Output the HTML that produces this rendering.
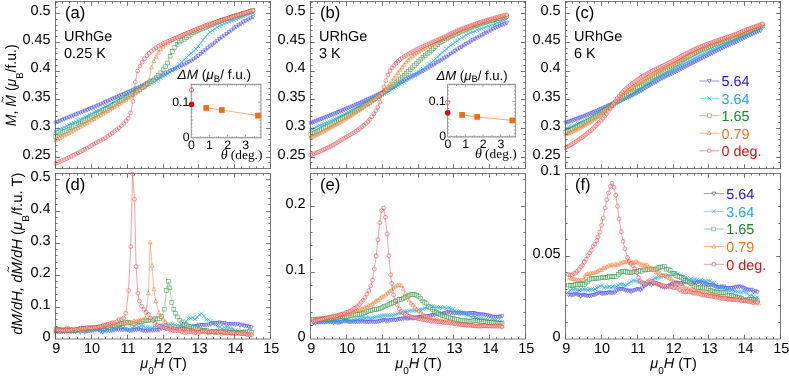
<!DOCTYPE html>
<html><head><meta charset="utf-8"><title>URhGe magnetization</title>
<style>html,body{margin:0;padding:0;background:#fff;}svg{display:block;will-change:transform;font-family:"Liberation Sans",sans-serif;}text{text-rendering:geometricPrecision;}</style></head>
<body>
<svg width="789" height="376" viewBox="0 0 789 376" font-family="Liberation Sans, sans-serif">
<rect width="789" height="376" fill="#fff"/>
<clipPath id="ct0"><rect x="53.5" y="-0.5" width="219.0" height="171.0"/></clipPath>
<g clip-path="url(#ct0)">
<g fill="#fff" fill-opacity="0.38" stroke="#2a28de" stroke-width="0.5">
<path d="M55.50 122.80L57.75 121.88L60.00 120.95L62.26 120.03L64.51 119.11L66.77 118.18L69.03 117.26L71.29 116.34L73.55 115.42L75.81 114.50L78.08 113.58L80.34 112.67L82.61 111.77L84.88 110.87L87.16 109.97L89.43 109.06L91.70 108.14L93.98 107.21L96.26 106.27L98.54 105.30L100.82 104.30L103.11 103.29L105.39 102.26L107.68 101.22L109.97 100.18L112.26 99.13L114.56 98.09L116.85 97.06L119.15 96.05L121.45 95.06L123.74 94.09L126.05 93.13L128.35 92.16L130.65 91.17L132.96 90.14L135.27 89.07L137.58 87.96L139.89 86.82L142.21 85.66L144.52 84.48L146.84 83.29L149.16 82.10L151.48 80.90L153.80 79.67L156.13 78.42L158.45 77.15L160.78 75.88L163.11 74.63L165.44 73.40L167.77 72.21L170.11 71.08L172.44 70.00L174.78 68.94L177.12 67.87L179.47 66.76L181.81 65.61L184.15 64.47L186.50 63.30L188.85 62.08L191.20 60.77L193.55 59.34L195.91 57.71L198.26 55.90L200.62 53.99L202.98 52.05L205.34 50.17L207.71 48.31L210.07 46.44L212.44 44.58L214.81 42.72L217.18 40.91L219.55 39.14L221.92 37.39L224.30 35.65L226.68 33.93L229.06 32.19L231.44 30.41L233.82 28.58L236.21 26.86L238.59 25.29L240.98 23.81L243.37 22.39L245.76 21.04L248.16 19.71L250.55 18.42L252.95 17.15" stroke-width="0.45" fill="none"/>
<path d="M53.60 121.28L57.40 121.28L55.50 124.89Z"/>
<path d="M55.85 120.36L59.65 120.36L57.75 123.97Z"/>
<path d="M58.10 119.43L61.90 119.43L60.00 123.04Z"/>
<path d="M60.36 118.51L64.16 118.51L62.26 122.12Z"/>
<path d="M62.61 117.59L66.41 117.59L64.51 121.20Z"/>
<path d="M64.87 116.66L68.67 116.66L66.77 120.27Z"/>
<path d="M67.13 115.74L70.93 115.74L69.03 119.35Z"/>
<path d="M69.39 114.82L73.19 114.82L71.29 118.43Z"/>
<path d="M71.65 113.90L75.45 113.90L73.55 117.51Z"/>
<path d="M73.91 112.98L77.71 112.98L75.81 116.59Z"/>
<path d="M76.18 112.06L79.98 112.06L78.08 115.67Z"/>
<path d="M78.44 111.15L82.24 111.15L80.34 114.76Z"/>
<path d="M80.71 110.25L84.51 110.25L82.61 113.86Z"/>
<path d="M82.98 109.35L86.78 109.35L84.88 112.96Z"/>
<path d="M85.26 108.45L89.06 108.45L87.16 112.06Z"/>
<path d="M87.53 107.54L91.33 107.54L89.43 111.15Z"/>
<path d="M89.80 106.62L93.60 106.62L91.70 110.23Z"/>
<path d="M92.08 105.69L95.88 105.69L93.98 109.30Z"/>
<path d="M94.36 104.75L98.16 104.75L96.26 108.36Z"/>
<path d="M96.64 103.78L100.44 103.78L98.54 107.39Z"/>
<path d="M98.92 102.78L102.72 102.78L100.82 106.39Z"/>
<path d="M101.21 101.77L105.01 101.77L103.11 105.38Z"/>
<path d="M103.49 100.74L107.29 100.74L105.39 104.35Z"/>
<path d="M105.78 99.70L109.58 99.70L107.68 103.31Z"/>
<path d="M108.07 98.66L111.87 98.66L109.97 102.27Z"/>
<path d="M110.36 97.61L114.16 97.61L112.26 101.22Z"/>
<path d="M112.66 96.57L116.46 96.57L114.56 100.18Z"/>
<path d="M114.95 95.54L118.75 95.54L116.85 99.15Z"/>
<path d="M117.25 94.53L121.05 94.53L119.15 98.14Z"/>
<path d="M119.55 93.54L123.35 93.54L121.45 97.15Z"/>
<path d="M121.84 92.57L125.64 92.57L123.74 96.18Z"/>
<path d="M124.15 91.61L127.95 91.61L126.05 95.22Z"/>
<path d="M126.45 90.64L130.25 90.64L128.35 94.25Z"/>
<path d="M128.75 89.65L132.55 89.65L130.65 93.26Z"/>
<path d="M131.06 88.62L134.86 88.62L132.96 92.23Z"/>
<path d="M133.37 87.55L137.17 87.55L135.27 91.16Z"/>
<path d="M135.68 86.44L139.48 86.44L137.58 90.05Z"/>
<path d="M137.99 85.30L141.79 85.30L139.89 88.91Z"/>
<path d="M140.31 84.14L144.11 84.14L142.21 87.75Z"/>
<path d="M142.62 82.96L146.42 82.96L144.52 86.57Z"/>
<path d="M144.94 81.77L148.74 81.77L146.84 85.38Z"/>
<path d="M147.26 80.58L151.06 80.58L149.16 84.19Z"/>
<path d="M149.58 79.38L153.38 79.38L151.48 82.99Z"/>
<path d="M151.90 78.15L155.70 78.15L153.80 81.76Z"/>
<path d="M154.23 76.90L158.03 76.90L156.13 80.51Z"/>
<path d="M156.55 75.63L160.35 75.63L158.45 79.24Z"/>
<path d="M158.88 74.36L162.68 74.36L160.78 77.97Z"/>
<path d="M161.21 73.11L165.01 73.11L163.11 76.72Z"/>
<path d="M163.54 71.88L167.34 71.88L165.44 75.49Z"/>
<path d="M165.87 70.69L169.67 70.69L167.77 74.30Z"/>
<path d="M168.21 69.56L172.01 69.56L170.11 73.17Z"/>
<path d="M170.54 68.48L174.34 68.48L172.44 72.09Z"/>
<path d="M172.88 67.42L176.68 67.42L174.78 71.03Z"/>
<path d="M175.22 66.35L179.02 66.35L177.12 69.96Z"/>
<path d="M177.57 65.24L181.37 65.24L179.47 68.85Z"/>
<path d="M179.91 64.09L183.71 64.09L181.81 67.70Z"/>
<path d="M182.25 62.95L186.05 62.95L184.15 66.56Z"/>
<path d="M184.60 61.78L188.40 61.78L186.50 65.39Z"/>
<path d="M186.95 60.56L190.75 60.56L188.85 64.17Z"/>
<path d="M189.30 59.25L193.10 59.25L191.20 62.86Z"/>
<path d="M191.65 57.82L195.45 57.82L193.55 61.43Z"/>
<path d="M194.01 56.19L197.81 56.19L195.91 59.80Z"/>
<path d="M196.36 54.38L200.16 54.38L198.26 57.99Z"/>
<path d="M198.72 52.47L202.52 52.47L200.62 56.08Z"/>
<path d="M201.08 50.53L204.88 50.53L202.98 54.14Z"/>
<path d="M203.44 48.65L207.24 48.65L205.34 52.26Z"/>
<path d="M205.81 46.79L209.61 46.79L207.71 50.40Z"/>
<path d="M208.17 44.92L211.97 44.92L210.07 48.53Z"/>
<path d="M210.54 43.06L214.34 43.06L212.44 46.67Z"/>
<path d="M212.91 41.20L216.71 41.20L214.81 44.81Z"/>
<path d="M215.28 39.39L219.08 39.39L217.18 43.00Z"/>
<path d="M217.65 37.62L221.45 37.62L219.55 41.23Z"/>
<path d="M220.02 35.87L223.82 35.87L221.92 39.48Z"/>
<path d="M222.40 34.13L226.20 34.13L224.30 37.74Z"/>
<path d="M224.78 32.41L228.58 32.41L226.68 36.02Z"/>
<path d="M227.16 30.67L230.96 30.67L229.06 34.28Z"/>
<path d="M229.54 28.89L233.34 28.89L231.44 32.50Z"/>
<path d="M231.92 27.06L235.72 27.06L233.82 30.67Z"/>
<path d="M234.31 25.34L238.11 25.34L236.21 28.95Z"/>
<path d="M236.69 23.77L240.49 23.77L238.59 27.38Z"/>
<path d="M239.08 22.29L242.88 22.29L240.98 25.90Z"/>
<path d="M241.47 20.87L245.27 20.87L243.37 24.48Z"/>
<path d="M243.86 19.52L247.66 19.52L245.76 23.13Z"/>
<path d="M246.26 18.19L250.06 18.19L248.16 21.80Z"/>
<path d="M248.65 16.90L252.45 16.90L250.55 20.51Z"/>
<path d="M251.05 15.63L254.85 15.63L252.95 19.24Z"/>
</g>
<g fill="#fff" fill-opacity="0.38" stroke="#22aae8" stroke-width="0.5">
<path d="M55.50 131.30L57.75 130.26L60.00 129.21L62.26 128.15L64.51 127.09L66.77 126.02L69.03 124.93L71.29 123.84L73.55 122.75L75.81 121.64L78.08 120.52L80.34 119.39L82.61 118.25L84.88 117.10L87.16 115.94L89.43 114.78L91.70 113.61L93.98 112.45L96.26 111.28L98.54 110.12L100.82 108.96L103.11 107.81L105.39 106.65L107.68 105.49L109.97 104.33L112.26 103.17L114.56 101.99L116.85 100.81L119.15 99.62L121.45 98.41L123.74 97.18L126.05 95.95L128.35 94.72L130.65 93.49L132.96 92.28L135.27 91.10L137.58 89.94L139.89 88.81L142.21 87.67L144.52 86.54L146.84 85.39L149.16 84.20L151.48 82.99L153.80 81.76L156.13 80.53L158.45 79.28L160.78 78.00L163.11 76.68L165.44 75.31L167.77 73.87L170.11 72.36L172.44 70.70L174.78 68.77L177.12 66.48L179.47 64.11L181.81 61.90L184.15 59.74L186.50 57.58L188.85 55.41L191.20 53.23L193.55 51.10L195.91 48.89L198.26 46.20L200.62 43.22L202.98 40.22L205.34 37.06L207.71 34.29L210.07 32.17L212.44 30.36L214.81 28.76L217.18 27.28L219.55 25.92L221.92 24.70L224.30 23.63L226.68 22.68L229.06 21.81L231.44 20.95L233.82 20.07L236.21 19.17L238.59 18.28L240.98 17.38L243.37 16.50L245.76 15.61L248.16 14.73L250.55 13.85L252.95 12.98" stroke-width="0.45" fill="none"/>
<path stroke-width="0.6" d="M53.51 129.31L57.49 133.30M53.51 133.30L57.49 129.31"/>
<path stroke-width="0.6" d="M55.76 128.26L59.74 132.25M55.76 132.25L59.74 128.26"/>
<path stroke-width="0.6" d="M58.01 127.22L62.00 131.21M58.01 131.21L62.00 127.22"/>
<path stroke-width="0.6" d="M60.26 126.16L64.25 130.15M60.26 130.15L64.25 126.16"/>
<path stroke-width="0.6" d="M62.52 125.09L66.51 129.08M62.52 129.08L66.51 125.09"/>
<path stroke-width="0.6" d="M64.77 124.02L68.76 128.01M64.77 128.01L68.76 124.02"/>
<path stroke-width="0.6" d="M67.03 122.94L71.02 126.93M67.03 126.93L71.02 122.94"/>
<path stroke-width="0.6" d="M69.29 121.85L73.28 125.84M69.29 125.84L73.28 121.85"/>
<path stroke-width="0.6" d="M71.55 120.75L75.54 124.74M71.55 124.74L75.54 120.75"/>
<path stroke-width="0.6" d="M73.82 119.64L77.81 123.63M73.82 123.63L77.81 119.64"/>
<path stroke-width="0.6" d="M76.08 118.53L80.07 122.52M76.08 122.52L80.07 118.53"/>
<path stroke-width="0.6" d="M78.35 117.40L82.34 121.39M78.35 121.39L82.34 117.40"/>
<path stroke-width="0.6" d="M80.62 116.26L84.61 120.25M80.62 120.25L84.61 116.26"/>
<path stroke-width="0.6" d="M82.89 115.10L86.88 119.09M82.89 119.09L86.88 115.10"/>
<path stroke-width="0.6" d="M85.16 113.95L89.15 117.94M85.16 117.94L89.15 113.95"/>
<path stroke-width="0.6" d="M87.43 112.78L91.42 116.77M87.43 116.77L91.42 112.78"/>
<path stroke-width="0.6" d="M89.71 111.62L93.70 115.61M89.71 115.61L93.70 111.62"/>
<path stroke-width="0.6" d="M91.99 110.45L95.98 114.44M91.99 114.44L95.98 110.45"/>
<path stroke-width="0.6" d="M94.27 109.29L98.26 113.28M94.27 113.28L98.26 109.29"/>
<path stroke-width="0.6" d="M96.55 108.13L100.54 112.12M96.55 112.12L100.54 108.13"/>
<path stroke-width="0.6" d="M98.83 106.97L102.82 110.96M98.83 110.96L102.82 106.97"/>
<path stroke-width="0.6" d="M101.11 105.81L105.10 109.80M101.11 109.80L105.10 105.81"/>
<path stroke-width="0.6" d="M103.40 104.66L107.39 108.65M103.40 108.65L107.39 104.66"/>
<path stroke-width="0.6" d="M105.69 103.50L109.68 107.49M105.69 107.49L109.68 103.50"/>
<path stroke-width="0.6" d="M107.98 102.34L111.97 106.33M107.98 106.33L111.97 102.34"/>
<path stroke-width="0.6" d="M110.27 101.17L114.26 105.16M110.27 105.16L114.26 101.17"/>
<path stroke-width="0.6" d="M112.56 100.00L116.55 103.99M112.56 103.99L116.55 100.00"/>
<path stroke-width="0.6" d="M114.86 98.82L118.85 102.81M114.86 102.81L118.85 98.82"/>
<path stroke-width="0.6" d="M117.15 97.62L121.14 101.61M117.15 101.61L121.14 97.62"/>
<path stroke-width="0.6" d="M119.45 96.41L123.44 100.40M119.45 100.40L123.44 96.41"/>
<path stroke-width="0.6" d="M121.75 95.19L125.74 99.18M121.75 99.18L125.74 95.19"/>
<path stroke-width="0.6" d="M124.05 93.95L128.04 97.94M124.05 97.94L128.04 93.95"/>
<path stroke-width="0.6" d="M126.35 92.72L130.34 96.71M126.35 96.71L130.34 92.72"/>
<path stroke-width="0.6" d="M128.66 91.50L132.65 95.49M128.66 95.49L132.65 91.50"/>
<path stroke-width="0.6" d="M130.97 90.29L134.96 94.28M130.97 94.28L134.96 90.29"/>
<path stroke-width="0.6" d="M133.28 89.10L137.27 93.09M133.28 93.09L137.27 89.10"/>
<path stroke-width="0.6" d="M135.59 87.95L139.58 91.94M135.59 91.94L139.58 87.95"/>
<path stroke-width="0.6" d="M137.90 86.81L141.89 90.80M137.90 90.80L141.89 86.81"/>
<path stroke-width="0.6" d="M140.21 85.68L144.20 89.67M140.21 89.67L144.20 85.68"/>
<path stroke-width="0.6" d="M142.53 84.54L146.52 88.53M142.53 88.53L146.52 84.54"/>
<path stroke-width="0.6" d="M144.84 83.39L148.83 87.38M144.84 87.38L148.83 83.39"/>
<path stroke-width="0.6" d="M147.16 82.21L151.15 86.20M147.16 86.20L151.15 82.21"/>
<path stroke-width="0.6" d="M149.48 80.99L153.47 84.98M149.48 84.98L153.47 80.99"/>
<path stroke-width="0.6" d="M151.81 79.77L155.80 83.76M151.81 83.76L155.80 79.77"/>
<path stroke-width="0.6" d="M154.13 78.54L158.12 82.53M154.13 82.53L158.12 78.54"/>
<path stroke-width="0.6" d="M156.46 77.29L160.45 81.28M156.46 81.28L160.45 77.29"/>
<path stroke-width="0.6" d="M158.78 76.01L162.77 80.00M158.78 80.00L162.77 76.01"/>
<path stroke-width="0.6" d="M161.11 74.69L165.10 78.68M161.11 78.68L165.10 74.69"/>
<path stroke-width="0.6" d="M163.45 73.31L167.44 77.30M163.45 77.30L167.44 73.31"/>
<path stroke-width="0.6" d="M165.78 71.88L169.77 75.87M165.78 75.87L169.77 71.88"/>
<path stroke-width="0.6" d="M168.11 70.36L172.10 74.35M168.11 74.35L172.10 70.36"/>
<path stroke-width="0.6" d="M170.45 68.71L174.44 72.70M170.45 72.70L174.44 68.71"/>
<path stroke-width="0.6" d="M172.79 66.78L176.78 70.77M172.79 70.77L176.78 66.78"/>
<path stroke-width="0.6" d="M175.13 64.48L179.12 68.47M175.13 68.47L179.12 64.48"/>
<path stroke-width="0.6" d="M177.47 62.12L181.46 66.11M177.47 66.11L181.46 62.12"/>
<path stroke-width="0.6" d="M179.81 59.91L183.80 63.90M179.81 63.90L183.80 59.91"/>
<path stroke-width="0.6" d="M182.16 57.74L186.15 61.73M182.16 61.73L186.15 57.74"/>
<path stroke-width="0.6" d="M184.51 55.59L188.50 59.58M184.51 59.58L188.50 55.59"/>
<path stroke-width="0.6" d="M186.86 53.42L190.85 57.41M186.86 57.41L190.85 53.42"/>
<path stroke-width="0.6" d="M189.21 51.24L193.20 55.23M189.21 55.23L193.20 51.24"/>
<path stroke-width="0.6" d="M191.56 49.10L195.55 53.09M191.56 53.09L195.55 49.10"/>
<path stroke-width="0.6" d="M193.91 46.90L197.90 50.89M193.91 50.89L197.90 46.90"/>
<path stroke-width="0.6" d="M196.27 44.20L200.26 48.19M196.27 48.19L200.26 44.20"/>
<path stroke-width="0.6" d="M198.63 41.23L202.62 45.22M198.63 45.22L202.62 41.23"/>
<path stroke-width="0.6" d="M200.99 38.22L204.98 42.21M200.99 42.21L204.98 38.22"/>
<path stroke-width="0.6" d="M203.35 35.06L207.34 39.05M203.35 39.05L207.34 35.06"/>
<path stroke-width="0.6" d="M205.71 32.29L209.70 36.28M205.71 36.28L209.70 32.29"/>
<path stroke-width="0.6" d="M208.08 30.18L212.07 34.17M208.08 34.17L212.07 30.18"/>
<path stroke-width="0.6" d="M210.44 28.37L214.43 32.36M210.44 32.36L214.43 28.37"/>
<path stroke-width="0.6" d="M212.81 26.76L216.80 30.75M212.81 30.75L216.80 26.76"/>
<path stroke-width="0.6" d="M215.18 25.28L219.17 29.27M215.18 29.27L219.17 25.28"/>
<path stroke-width="0.6" d="M217.55 23.93L221.54 27.92M217.55 27.92L221.54 23.93"/>
<path stroke-width="0.6" d="M219.93 22.71L223.92 26.70M219.93 26.70L223.92 22.71"/>
<path stroke-width="0.6" d="M222.30 21.64L226.29 25.63M222.30 25.63L226.29 21.64"/>
<path stroke-width="0.6" d="M224.68 20.69L228.67 24.68M224.68 24.68L228.67 20.69"/>
<path stroke-width="0.6" d="M227.06 19.81L231.05 23.80M227.06 23.80L231.05 19.81"/>
<path stroke-width="0.6" d="M229.44 18.95L233.43 22.94M229.44 22.94L233.43 18.95"/>
<path stroke-width="0.6" d="M231.83 18.07L235.82 22.06M231.83 22.06L235.82 18.07"/>
<path stroke-width="0.6" d="M234.21 17.17L238.20 21.16M234.21 21.16L238.20 17.17"/>
<path stroke-width="0.6" d="M236.60 16.28L240.59 20.27M236.60 20.27L240.59 16.28"/>
<path stroke-width="0.6" d="M238.98 15.39L242.97 19.38M238.98 19.38L242.97 15.39"/>
<path stroke-width="0.6" d="M241.38 14.50L245.37 18.49M241.38 18.49L245.37 14.50"/>
<path stroke-width="0.6" d="M243.77 13.62L247.76 17.61M243.77 17.61L247.76 13.62"/>
<path stroke-width="0.6" d="M246.16 12.74L250.15 16.73M246.16 16.73L250.15 12.74"/>
<path stroke-width="0.6" d="M248.56 11.86L252.55 15.85M248.56 15.85L252.55 11.86"/>
<path stroke-width="0.6" d="M250.95 10.99L254.94 14.98M250.95 14.98L254.94 10.99"/>
</g>
<g fill="#fff" fill-opacity="0.38" stroke="#2f9540" stroke-width="0.5">
<path d="M55.50 136.40L57.75 135.18L60.00 133.96L62.26 132.74L64.51 131.53L66.77 130.31L69.03 129.10L71.29 127.88L73.55 126.67L75.81 125.46L78.08 124.25L80.34 123.05L82.61 121.86L84.88 120.67L87.16 119.48L89.43 118.28L91.70 117.08L93.98 115.86L96.26 114.63L98.54 113.38L100.82 112.12L103.11 110.85L105.39 109.57L107.68 108.28L109.97 106.98L112.26 105.68L114.56 104.36L116.85 103.03L119.15 101.70L121.45 100.35L123.74 98.99L126.05 97.62L128.35 96.24L130.65 94.85L132.96 93.45L135.27 92.04L137.58 90.64L139.89 89.23L142.21 87.80L144.52 86.34L146.84 84.84L149.16 83.34L151.48 81.78L153.80 79.98L156.13 77.73L158.45 75.31L160.78 72.76L163.11 69.88L165.44 66.76L167.77 62.99L170.11 56.13L172.44 51.39L174.78 47.59L177.12 44.29L179.47 41.99L181.81 40.45L184.15 39.21L186.50 37.59L188.85 35.79L191.20 34.10L193.55 32.72L195.91 31.50L198.26 30.38L200.62 29.33L202.98 28.40L205.34 27.50L207.71 26.54L210.07 25.50L212.44 24.43L214.81 23.37L217.18 22.33L219.55 21.37L221.92 20.50L224.30 19.67L226.68 18.88L229.06 18.12L231.44 17.36L233.82 16.60L236.21 15.84L238.59 15.09L240.98 14.34L243.37 13.60L245.76 12.86L248.16 12.14L250.55 11.42L252.95 10.71" stroke-width="0.45" fill="none"/>
<rect x="53.60" y="134.50" width="3.80" height="3.80"/>
<rect x="55.85" y="133.28" width="3.80" height="3.80"/>
<rect x="58.10" y="132.06" width="3.80" height="3.80"/>
<rect x="60.36" y="130.84" width="3.80" height="3.80"/>
<rect x="62.61" y="129.63" width="3.80" height="3.80"/>
<rect x="64.87" y="128.41" width="3.80" height="3.80"/>
<rect x="67.13" y="127.20" width="3.80" height="3.80"/>
<rect x="69.39" y="125.98" width="3.80" height="3.80"/>
<rect x="71.65" y="124.77" width="3.80" height="3.80"/>
<rect x="73.91" y="123.56" width="3.80" height="3.80"/>
<rect x="76.18" y="122.35" width="3.80" height="3.80"/>
<rect x="78.44" y="121.15" width="3.80" height="3.80"/>
<rect x="80.71" y="119.96" width="3.80" height="3.80"/>
<rect x="82.98" y="118.77" width="3.80" height="3.80"/>
<rect x="85.26" y="117.58" width="3.80" height="3.80"/>
<rect x="87.53" y="116.38" width="3.80" height="3.80"/>
<rect x="89.80" y="115.18" width="3.80" height="3.80"/>
<rect x="92.08" y="113.96" width="3.80" height="3.80"/>
<rect x="94.36" y="112.73" width="3.80" height="3.80"/>
<rect x="96.64" y="111.48" width="3.80" height="3.80"/>
<rect x="98.92" y="110.22" width="3.80" height="3.80"/>
<rect x="101.21" y="108.95" width="3.80" height="3.80"/>
<rect x="103.49" y="107.67" width="3.80" height="3.80"/>
<rect x="105.78" y="106.38" width="3.80" height="3.80"/>
<rect x="108.07" y="105.08" width="3.80" height="3.80"/>
<rect x="110.36" y="103.78" width="3.80" height="3.80"/>
<rect x="112.66" y="102.46" width="3.80" height="3.80"/>
<rect x="114.95" y="101.13" width="3.80" height="3.80"/>
<rect x="117.25" y="99.80" width="3.80" height="3.80"/>
<rect x="119.55" y="98.45" width="3.80" height="3.80"/>
<rect x="121.84" y="97.09" width="3.80" height="3.80"/>
<rect x="124.15" y="95.72" width="3.80" height="3.80"/>
<rect x="126.45" y="94.34" width="3.80" height="3.80"/>
<rect x="128.75" y="92.95" width="3.80" height="3.80"/>
<rect x="131.06" y="91.55" width="3.80" height="3.80"/>
<rect x="133.37" y="90.14" width="3.80" height="3.80"/>
<rect x="135.68" y="88.74" width="3.80" height="3.80"/>
<rect x="137.99" y="87.33" width="3.80" height="3.80"/>
<rect x="140.31" y="85.90" width="3.80" height="3.80"/>
<rect x="142.62" y="84.44" width="3.80" height="3.80"/>
<rect x="144.94" y="82.94" width="3.80" height="3.80"/>
<rect x="147.26" y="81.44" width="3.80" height="3.80"/>
<rect x="149.58" y="79.88" width="3.80" height="3.80"/>
<rect x="151.90" y="78.08" width="3.80" height="3.80"/>
<rect x="154.23" y="75.83" width="3.80" height="3.80"/>
<rect x="156.55" y="73.41" width="3.80" height="3.80"/>
<rect x="158.88" y="70.86" width="3.80" height="3.80"/>
<rect x="161.21" y="67.98" width="3.80" height="3.80"/>
<rect x="163.54" y="64.86" width="3.80" height="3.80"/>
<rect x="165.87" y="61.09" width="3.80" height="3.80"/>
<rect x="168.21" y="54.23" width="3.80" height="3.80"/>
<rect x="170.54" y="49.49" width="3.80" height="3.80"/>
<rect x="172.88" y="45.69" width="3.80" height="3.80"/>
<rect x="175.22" y="42.39" width="3.80" height="3.80"/>
<rect x="177.57" y="40.09" width="3.80" height="3.80"/>
<rect x="179.91" y="38.55" width="3.80" height="3.80"/>
<rect x="182.25" y="37.31" width="3.80" height="3.80"/>
<rect x="184.60" y="35.69" width="3.80" height="3.80"/>
<rect x="186.95" y="33.89" width="3.80" height="3.80"/>
<rect x="189.30" y="32.20" width="3.80" height="3.80"/>
<rect x="191.65" y="30.82" width="3.80" height="3.80"/>
<rect x="194.01" y="29.60" width="3.80" height="3.80"/>
<rect x="196.36" y="28.48" width="3.80" height="3.80"/>
<rect x="198.72" y="27.43" width="3.80" height="3.80"/>
<rect x="201.08" y="26.50" width="3.80" height="3.80"/>
<rect x="203.44" y="25.60" width="3.80" height="3.80"/>
<rect x="205.81" y="24.64" width="3.80" height="3.80"/>
<rect x="208.17" y="23.60" width="3.80" height="3.80"/>
<rect x="210.54" y="22.53" width="3.80" height="3.80"/>
<rect x="212.91" y="21.47" width="3.80" height="3.80"/>
<rect x="215.28" y="20.43" width="3.80" height="3.80"/>
<rect x="217.65" y="19.47" width="3.80" height="3.80"/>
<rect x="220.02" y="18.60" width="3.80" height="3.80"/>
<rect x="222.40" y="17.77" width="3.80" height="3.80"/>
<rect x="224.78" y="16.98" width="3.80" height="3.80"/>
<rect x="227.16" y="16.22" width="3.80" height="3.80"/>
<rect x="229.54" y="15.46" width="3.80" height="3.80"/>
<rect x="231.92" y="14.70" width="3.80" height="3.80"/>
<rect x="234.31" y="13.94" width="3.80" height="3.80"/>
<rect x="236.69" y="13.19" width="3.80" height="3.80"/>
<rect x="239.08" y="12.44" width="3.80" height="3.80"/>
<rect x="241.47" y="11.70" width="3.80" height="3.80"/>
<rect x="243.86" y="10.96" width="3.80" height="3.80"/>
<rect x="246.26" y="10.24" width="3.80" height="3.80"/>
<rect x="248.65" y="9.52" width="3.80" height="3.80"/>
<rect x="251.05" y="8.81" width="3.80" height="3.80"/>
</g>
<g fill="#fff" fill-opacity="0.38" stroke="#ee6c1c" stroke-width="0.5">
<path d="M55.50 140.20L57.75 139.00L60.00 137.80L62.26 136.59L64.51 135.37L66.77 134.14L69.03 132.91L71.29 131.67L73.55 130.42L75.81 129.17L78.08 127.91L80.34 126.64L82.61 125.37L84.88 124.09L87.16 122.80L89.43 121.50L91.70 120.20L93.98 118.89L96.26 117.57L98.54 116.26L100.82 114.94L103.11 113.62L105.39 112.30L107.68 110.97L109.97 109.63L112.26 108.28L114.56 106.90L116.85 105.51L119.15 104.08L121.45 102.65L123.74 101.19L126.05 99.72L128.35 98.20L130.65 96.65L132.96 95.03L135.27 93.37L137.58 91.67L139.89 89.90L142.21 87.99L144.52 85.89L146.84 83.72L149.16 80.11L151.48 67.31L153.80 61.21L156.13 56.68L158.45 52.52L160.78 49.25L163.11 46.79L165.44 44.56L167.77 42.70L170.11 41.13L172.44 39.76L174.78 38.50L177.12 37.32L179.47 36.19L181.81 35.09L184.15 34.04L186.50 33.02L188.85 32.04L191.20 31.07L193.55 30.11L195.91 29.14L198.26 28.17L200.62 27.21L202.98 26.27L205.34 25.37L207.71 24.50L210.07 23.65L212.44 22.83L214.81 22.02L217.18 21.23L219.55 20.45L221.92 19.68L224.30 18.92L226.68 18.16L229.06 17.41L231.44 16.66L233.82 15.90L236.21 15.16L238.59 14.42L240.98 13.68L243.37 12.95L245.76 12.23L248.16 11.52L250.55 10.81L252.95 10.11" stroke-width="0.45" fill="none"/>
<path d="M53.60 141.72L57.40 141.72L55.50 138.11Z"/>
<path d="M55.85 140.52L59.65 140.52L57.75 136.91Z"/>
<path d="M58.10 139.32L61.90 139.32L60.00 135.71Z"/>
<path d="M60.36 138.11L64.16 138.11L62.26 134.50Z"/>
<path d="M62.61 136.89L66.41 136.89L64.51 133.28Z"/>
<path d="M64.87 135.66L68.67 135.66L66.77 132.05Z"/>
<path d="M67.13 134.43L70.93 134.43L69.03 130.82Z"/>
<path d="M69.39 133.19L73.19 133.19L71.29 129.58Z"/>
<path d="M71.65 131.94L75.45 131.94L73.55 128.33Z"/>
<path d="M73.91 130.69L77.71 130.69L75.81 127.08Z"/>
<path d="M76.18 129.43L79.98 129.43L78.08 125.82Z"/>
<path d="M78.44 128.16L82.24 128.16L80.34 124.55Z"/>
<path d="M80.71 126.89L84.51 126.89L82.61 123.28Z"/>
<path d="M82.98 125.61L86.78 125.61L84.88 122.00Z"/>
<path d="M85.26 124.32L89.06 124.32L87.16 120.71Z"/>
<path d="M87.53 123.02L91.33 123.02L89.43 119.41Z"/>
<path d="M89.80 121.72L93.60 121.72L91.70 118.11Z"/>
<path d="M92.08 120.41L95.88 120.41L93.98 116.80Z"/>
<path d="M94.36 119.09L98.16 119.09L96.26 115.48Z"/>
<path d="M96.64 117.78L100.44 117.78L98.54 114.17Z"/>
<path d="M98.92 116.46L102.72 116.46L100.82 112.85Z"/>
<path d="M101.21 115.14L105.01 115.14L103.11 111.53Z"/>
<path d="M103.49 113.82L107.29 113.82L105.39 110.21Z"/>
<path d="M105.78 112.49L109.58 112.49L107.68 108.88Z"/>
<path d="M108.07 111.15L111.87 111.15L109.97 107.54Z"/>
<path d="M110.36 109.80L114.16 109.80L112.26 106.19Z"/>
<path d="M112.66 108.42L116.46 108.42L114.56 104.81Z"/>
<path d="M114.95 107.03L118.75 107.03L116.85 103.42Z"/>
<path d="M117.25 105.60L121.05 105.60L119.15 101.99Z"/>
<path d="M119.55 104.17L123.35 104.17L121.45 100.56Z"/>
<path d="M121.84 102.71L125.64 102.71L123.74 99.10Z"/>
<path d="M124.15 101.24L127.95 101.24L126.05 97.63Z"/>
<path d="M126.45 99.72L130.25 99.72L128.35 96.11Z"/>
<path d="M128.75 98.17L132.55 98.17L130.65 94.56Z"/>
<path d="M131.06 96.55L134.86 96.55L132.96 92.94Z"/>
<path d="M133.37 94.89L137.17 94.89L135.27 91.28Z"/>
<path d="M135.68 93.19L139.48 93.19L137.58 89.58Z"/>
<path d="M137.99 91.42L141.79 91.42L139.89 87.81Z"/>
<path d="M140.31 89.51L144.11 89.51L142.21 85.90Z"/>
<path d="M142.62 87.41L146.42 87.41L144.52 83.80Z"/>
<path d="M144.94 85.24L148.74 85.24L146.84 81.63Z"/>
<path d="M147.26 81.63L151.06 81.63L149.16 78.02Z"/>
<path d="M149.58 68.83L153.38 68.83L151.48 65.22Z"/>
<path d="M151.90 62.73L155.70 62.73L153.80 59.12Z"/>
<path d="M154.23 58.20L158.03 58.20L156.13 54.59Z"/>
<path d="M156.55 54.04L160.35 54.04L158.45 50.43Z"/>
<path d="M158.88 50.77L162.68 50.77L160.78 47.16Z"/>
<path d="M161.21 48.31L165.01 48.31L163.11 44.70Z"/>
<path d="M163.54 46.08L167.34 46.08L165.44 42.47Z"/>
<path d="M165.87 44.22L169.67 44.22L167.77 40.61Z"/>
<path d="M168.21 42.65L172.01 42.65L170.11 39.04Z"/>
<path d="M170.54 41.28L174.34 41.28L172.44 37.67Z"/>
<path d="M172.88 40.02L176.68 40.02L174.78 36.41Z"/>
<path d="M175.22 38.84L179.02 38.84L177.12 35.23Z"/>
<path d="M177.57 37.71L181.37 37.71L179.47 34.10Z"/>
<path d="M179.91 36.61L183.71 36.61L181.81 33.00Z"/>
<path d="M182.25 35.56L186.05 35.56L184.15 31.95Z"/>
<path d="M184.60 34.54L188.40 34.54L186.50 30.93Z"/>
<path d="M186.95 33.56L190.75 33.56L188.85 29.95Z"/>
<path d="M189.30 32.59L193.10 32.59L191.20 28.98Z"/>
<path d="M191.65 31.63L195.45 31.63L193.55 28.02Z"/>
<path d="M194.01 30.66L197.81 30.66L195.91 27.05Z"/>
<path d="M196.36 29.69L200.16 29.69L198.26 26.08Z"/>
<path d="M198.72 28.73L202.52 28.73L200.62 25.12Z"/>
<path d="M201.08 27.79L204.88 27.79L202.98 24.18Z"/>
<path d="M203.44 26.89L207.24 26.89L205.34 23.28Z"/>
<path d="M205.81 26.02L209.61 26.02L207.71 22.41Z"/>
<path d="M208.17 25.17L211.97 25.17L210.07 21.56Z"/>
<path d="M210.54 24.35L214.34 24.35L212.44 20.74Z"/>
<path d="M212.91 23.54L216.71 23.54L214.81 19.93Z"/>
<path d="M215.28 22.75L219.08 22.75L217.18 19.14Z"/>
<path d="M217.65 21.97L221.45 21.97L219.55 18.36Z"/>
<path d="M220.02 21.20L223.82 21.20L221.92 17.59Z"/>
<path d="M222.40 20.44L226.20 20.44L224.30 16.83Z"/>
<path d="M224.78 19.68L228.58 19.68L226.68 16.07Z"/>
<path d="M227.16 18.93L230.96 18.93L229.06 15.32Z"/>
<path d="M229.54 18.18L233.34 18.18L231.44 14.57Z"/>
<path d="M231.92 17.42L235.72 17.42L233.82 13.81Z"/>
<path d="M234.31 16.68L238.11 16.68L236.21 13.07Z"/>
<path d="M236.69 15.94L240.49 15.94L238.59 12.33Z"/>
<path d="M239.08 15.20L242.88 15.20L240.98 11.59Z"/>
<path d="M241.47 14.47L245.27 14.47L243.37 10.86Z"/>
<path d="M243.86 13.75L247.66 13.75L245.76 10.14Z"/>
<path d="M246.26 13.04L250.06 13.04L248.16 9.43Z"/>
<path d="M248.65 12.33L252.45 12.33L250.55 8.72Z"/>
<path d="M251.05 11.63L254.85 11.63L252.95 8.02Z"/>
</g>
<g fill="#fff" fill-opacity="0.38" stroke="#e52f36" stroke-width="0.5">
<path d="M55.50 163.40L57.75 162.45L60.00 161.47L62.26 160.47L64.51 159.46L66.77 158.41L69.03 157.35L71.29 156.27L73.55 155.17L75.81 154.04L78.08 152.89L80.34 151.70L82.61 150.47L84.88 149.22L87.16 147.95L89.43 146.66L91.70 145.38L93.98 144.10L96.26 142.83L98.54 141.60L100.82 140.41L103.11 139.16L105.39 137.77L107.68 136.26L109.97 134.66L112.26 133.01L114.56 131.33L116.85 129.65L119.15 127.80L121.45 125.73L123.74 123.45L126.05 121.00L128.35 118.22L130.65 112.81L132.96 101.42L135.27 81.97L137.58 71.05L139.89 66.04L142.21 62.17L144.52 58.60L146.84 55.57L149.16 53.16L151.48 51.13L153.80 49.34L156.13 47.65L158.45 46.06L160.78 44.70L163.11 43.51L165.44 42.41L167.77 41.34L170.11 40.32L172.44 39.33L174.78 38.36L177.12 37.40L179.47 36.43L181.81 35.45L184.15 34.45L186.50 33.46L188.85 32.47L191.20 31.49L193.55 30.51L195.91 29.55L198.26 28.58L200.62 27.62L202.98 26.68L205.34 25.77L207.71 24.90L210.07 24.05L212.44 23.23L214.81 22.43L217.18 21.63L219.55 20.86L221.92 20.09L224.30 19.33L226.68 18.57L229.06 17.82L231.44 17.06L233.82 16.30L236.21 15.55L238.59 14.80L240.98 14.06L243.37 13.32L245.76 12.58L248.16 11.85L250.55 11.13L252.95 10.41" stroke-width="0.45" fill="none"/>
<circle cx="55.50" cy="163.40" r="1.90"/>
<circle cx="57.75" cy="162.45" r="1.90"/>
<circle cx="60.00" cy="161.47" r="1.90"/>
<circle cx="62.26" cy="160.47" r="1.90"/>
<circle cx="64.51" cy="159.46" r="1.90"/>
<circle cx="66.77" cy="158.41" r="1.90"/>
<circle cx="69.03" cy="157.35" r="1.90"/>
<circle cx="71.29" cy="156.27" r="1.90"/>
<circle cx="73.55" cy="155.17" r="1.90"/>
<circle cx="75.81" cy="154.04" r="1.90"/>
<circle cx="78.08" cy="152.89" r="1.90"/>
<circle cx="80.34" cy="151.70" r="1.90"/>
<circle cx="82.61" cy="150.47" r="1.90"/>
<circle cx="84.88" cy="149.22" r="1.90"/>
<circle cx="87.16" cy="147.95" r="1.90"/>
<circle cx="89.43" cy="146.66" r="1.90"/>
<circle cx="91.70" cy="145.38" r="1.90"/>
<circle cx="93.98" cy="144.10" r="1.90"/>
<circle cx="96.26" cy="142.83" r="1.90"/>
<circle cx="98.54" cy="141.60" r="1.90"/>
<circle cx="100.82" cy="140.41" r="1.90"/>
<circle cx="103.11" cy="139.16" r="1.90"/>
<circle cx="105.39" cy="137.77" r="1.90"/>
<circle cx="107.68" cy="136.26" r="1.90"/>
<circle cx="109.97" cy="134.66" r="1.90"/>
<circle cx="112.26" cy="133.01" r="1.90"/>
<circle cx="114.56" cy="131.33" r="1.90"/>
<circle cx="116.85" cy="129.65" r="1.90"/>
<circle cx="119.15" cy="127.80" r="1.90"/>
<circle cx="121.45" cy="125.73" r="1.90"/>
<circle cx="123.74" cy="123.45" r="1.90"/>
<circle cx="126.05" cy="121.00" r="1.90"/>
<circle cx="128.35" cy="118.22" r="1.90"/>
<circle cx="130.65" cy="112.81" r="1.90"/>
<circle cx="132.96" cy="101.42" r="1.90"/>
<circle cx="135.27" cy="81.97" r="1.90"/>
<circle cx="137.58" cy="71.05" r="1.90"/>
<circle cx="139.89" cy="66.04" r="1.90"/>
<circle cx="142.21" cy="62.17" r="1.90"/>
<circle cx="144.52" cy="58.60" r="1.90"/>
<circle cx="146.84" cy="55.57" r="1.90"/>
<circle cx="149.16" cy="53.16" r="1.90"/>
<circle cx="151.48" cy="51.13" r="1.90"/>
<circle cx="153.80" cy="49.34" r="1.90"/>
<circle cx="156.13" cy="47.65" r="1.90"/>
<circle cx="158.45" cy="46.06" r="1.90"/>
<circle cx="160.78" cy="44.70" r="1.90"/>
<circle cx="163.11" cy="43.51" r="1.90"/>
<circle cx="165.44" cy="42.41" r="1.90"/>
<circle cx="167.77" cy="41.34" r="1.90"/>
<circle cx="170.11" cy="40.32" r="1.90"/>
<circle cx="172.44" cy="39.33" r="1.90"/>
<circle cx="174.78" cy="38.36" r="1.90"/>
<circle cx="177.12" cy="37.40" r="1.90"/>
<circle cx="179.47" cy="36.43" r="1.90"/>
<circle cx="181.81" cy="35.45" r="1.90"/>
<circle cx="184.15" cy="34.45" r="1.90"/>
<circle cx="186.50" cy="33.46" r="1.90"/>
<circle cx="188.85" cy="32.47" r="1.90"/>
<circle cx="191.20" cy="31.49" r="1.90"/>
<circle cx="193.55" cy="30.51" r="1.90"/>
<circle cx="195.91" cy="29.55" r="1.90"/>
<circle cx="198.26" cy="28.58" r="1.90"/>
<circle cx="200.62" cy="27.62" r="1.90"/>
<circle cx="202.98" cy="26.68" r="1.90"/>
<circle cx="205.34" cy="25.77" r="1.90"/>
<circle cx="207.71" cy="24.90" r="1.90"/>
<circle cx="210.07" cy="24.05" r="1.90"/>
<circle cx="212.44" cy="23.23" r="1.90"/>
<circle cx="214.81" cy="22.43" r="1.90"/>
<circle cx="217.18" cy="21.63" r="1.90"/>
<circle cx="219.55" cy="20.86" r="1.90"/>
<circle cx="221.92" cy="20.09" r="1.90"/>
<circle cx="224.30" cy="19.33" r="1.90"/>
<circle cx="226.68" cy="18.57" r="1.90"/>
<circle cx="229.06" cy="17.82" r="1.90"/>
<circle cx="231.44" cy="17.06" r="1.90"/>
<circle cx="233.82" cy="16.30" r="1.90"/>
<circle cx="236.21" cy="15.55" r="1.90"/>
<circle cx="238.59" cy="14.80" r="1.90"/>
<circle cx="240.98" cy="14.06" r="1.90"/>
<circle cx="243.37" cy="13.32" r="1.90"/>
<circle cx="245.76" cy="12.58" r="1.90"/>
<circle cx="248.16" cy="11.85" r="1.90"/>
<circle cx="250.55" cy="11.13" r="1.90"/>
<circle cx="252.95" cy="10.41" r="1.90"/>
</g>
</g>
<rect x="55.5" y="1.5" width="215.0" height="167.0" fill="none" stroke="#5a5a5a" stroke-width="0.8"/>
<path d="M55.50 168.5v-4.3M55.50 1.5v4.3M62.50 168.5v-2.1M62.50 1.5v2.1M69.50 168.5v-2.1M69.50 1.5v2.1M77.50 168.5v-2.1M77.50 1.5v2.1M84.50 168.5v-2.1M84.50 1.5v2.1M91.50 168.5v-4.3M91.50 1.5v4.3M98.50 168.5v-2.1M98.50 1.5v2.1M105.50 168.5v-2.1M105.50 1.5v2.1M112.50 168.5v-2.1M112.50 1.5v2.1M120.50 168.5v-2.1M120.50 1.5v2.1M127.50 168.5v-4.3M127.50 1.5v4.3M134.50 168.5v-2.1M134.50 1.5v2.1M141.50 168.5v-2.1M141.50 1.5v2.1M148.50 168.5v-2.1M148.50 1.5v2.1M155.50 168.5v-2.1M155.50 1.5v2.1M163.50 168.5v-4.3M163.50 1.5v4.3M170.50 168.5v-2.1M170.50 1.5v2.1M177.50 168.5v-2.1M177.50 1.5v2.1M184.50 168.5v-2.1M184.50 1.5v2.1M191.50 168.5v-2.1M191.50 1.5v2.1M198.50 168.5v-4.3M198.50 1.5v4.3M206.50 168.5v-2.1M206.50 1.5v2.1M213.50 168.5v-2.1M213.50 1.5v2.1M220.50 168.5v-2.1M220.50 1.5v2.1M227.50 168.5v-2.1M227.50 1.5v2.1M234.50 168.5v-4.3M234.50 1.5v4.3M241.50 168.5v-2.1M241.50 1.5v2.1M249.50 168.5v-2.1M249.50 1.5v2.1M256.50 168.5v-2.1M256.50 1.5v2.1M263.50 168.5v-2.1M263.50 1.5v2.1M270.50 168.5v-4.3M270.50 1.5v4.3" stroke="#5a5a5a" stroke-width="0.85" fill="none"/>
<path d="M55.5 157.50h4.3M270.5 157.50h-4.3M55.5 128.50h4.3M270.5 128.50h-4.3M55.5 99.50h4.3M270.5 99.50h-4.3M55.5 71.50h4.3M270.5 71.50h-4.3M55.5 42.50h4.3M270.5 42.50h-4.3M55.5 13.50h4.3M270.5 13.50h-4.3M55.5 162.50h2.1M270.5 162.50h-2.1M55.5 151.50h2.1M270.5 151.50h-2.1M55.5 145.50h2.1M270.5 145.50h-2.1M55.5 139.50h2.1M270.5 139.50h-2.1M55.5 134.50h2.1M270.5 134.50h-2.1M55.5 122.50h2.1M270.5 122.50h-2.1M55.5 116.50h2.1M270.5 116.50h-2.1M55.5 111.50h2.1M270.5 111.50h-2.1M55.5 105.50h2.1M270.5 105.50h-2.1M55.5 94.50h2.1M270.5 94.50h-2.1M55.5 88.50h2.1M270.5 88.50h-2.1M55.5 82.50h2.1M270.5 82.50h-2.1M55.5 76.50h2.1M270.5 76.50h-2.1M55.5 65.50h2.1M270.5 65.50h-2.1M55.5 59.50h2.1M270.5 59.50h-2.1M55.5 53.50h2.1M270.5 53.50h-2.1M55.5 48.50h2.1M270.5 48.50h-2.1M55.5 36.50h2.1M270.5 36.50h-2.1M55.5 30.50h2.1M270.5 30.50h-2.1M55.5 25.50h2.1M270.5 25.50h-2.1M55.5 19.50h2.1M270.5 19.50h-2.1M55.5 7.50h2.1M270.5 7.50h-2.1M55.5 2.50h2.1M270.5 2.50h-2.1" stroke="#5a5a5a" stroke-width="0.85" fill="none"/>
<text x="50.70" y="158.60" font-size="14.5" text-anchor="end" fill="#000" >0.25</text>
<text x="50.70" y="129.88" font-size="14.5" text-anchor="end" fill="#000" >0.3</text>
<text x="50.70" y="101.16" font-size="14.5" text-anchor="end" fill="#000" >0.35</text>
<text x="50.70" y="72.44" font-size="14.5" text-anchor="end" fill="#000" >0.4</text>
<text x="50.70" y="43.72" font-size="14.5" text-anchor="end" fill="#000" >0.45</text>
<text x="50.70" y="15.00" font-size="14.5" text-anchor="end" fill="#000" >0.5</text>
<clipPath id="ct1"><rect x="308.5" y="-0.5" width="219.0" height="171.0"/></clipPath>
<g clip-path="url(#ct1)">
<g fill="#fff" fill-opacity="0.38" stroke="#2a28de" stroke-width="0.5">
<path d="M310.50 123.20L312.35 122.50L314.20 121.78L316.06 121.07L317.93 120.35L319.79 119.62L321.66 118.88L323.54 118.14L325.42 117.40L327.30 116.65L329.19 115.89L331.08 115.13L332.98 114.36L334.88 113.59L336.79 112.82L338.70 112.03L340.61 111.25L342.53 110.46L344.46 109.66L346.38 108.85L348.32 108.04L350.25 107.22L352.19 106.40L354.14 105.56L356.09 104.72L358.04 103.86L360.00 103.00L361.97 102.13L363.93 101.25L365.91 100.37L367.88 99.48L369.87 98.58L371.85 97.67L373.84 96.75L375.84 95.81L377.84 94.85L379.84 93.87L381.85 92.88L383.86 91.85L385.88 90.79L387.90 89.69L389.93 88.56L391.96 87.40L394.00 86.24L396.04 85.06L398.09 83.89L400.14 82.72L402.19 81.57L404.25 80.44L406.32 79.34L408.39 78.28L410.46 77.25L412.54 76.24L414.63 75.24L416.71 74.23L418.81 73.19L420.91 72.12L423.01 71.00L425.12 69.82L427.23 68.57L429.35 67.28L431.47 65.98L433.60 64.68L435.73 63.41L437.86 62.14L440.01 60.87L442.15 59.57L444.30 58.22L446.46 56.82L448.62 55.35L450.79 53.86L452.96 52.39L455.14 50.96L457.32 49.56L459.51 48.17L461.70 46.79L463.89 45.44L466.09 44.10L468.30 42.79L470.51 41.49L472.73 40.22L474.95 38.97L477.18 37.74L479.41 36.53L481.65 35.32L483.89 34.09L486.14 32.82L488.39 31.54L490.65 30.31L492.91 29.14L495.18 28.05L497.45 27.00L499.73 25.99L502.01 25.01L504.30 24.09L506.59 23.21" stroke-width="0.45" fill="none"/>
<path d="M308.60 121.68L312.40 121.68L310.50 125.29Z"/>
<path d="M310.45 120.98L314.25 120.98L312.35 124.59Z"/>
<path d="M312.30 120.26L316.10 120.26L314.20 123.87Z"/>
<path d="M314.16 119.55L317.96 119.55L316.06 123.16Z"/>
<path d="M316.03 118.83L319.83 118.83L317.93 122.44Z"/>
<path d="M317.89 118.10L321.69 118.10L319.79 121.71Z"/>
<path d="M319.76 117.36L323.56 117.36L321.66 120.97Z"/>
<path d="M321.64 116.62L325.44 116.62L323.54 120.23Z"/>
<path d="M323.52 115.88L327.32 115.88L325.42 119.49Z"/>
<path d="M325.40 115.13L329.20 115.13L327.30 118.74Z"/>
<path d="M327.29 114.37L331.09 114.37L329.19 117.98Z"/>
<path d="M329.18 113.61L332.98 113.61L331.08 117.22Z"/>
<path d="M331.08 112.84L334.88 112.84L332.98 116.45Z"/>
<path d="M332.98 112.07L336.78 112.07L334.88 115.68Z"/>
<path d="M334.89 111.30L338.69 111.30L336.79 114.91Z"/>
<path d="M336.80 110.51L340.60 110.51L338.70 114.12Z"/>
<path d="M338.71 109.73L342.51 109.73L340.61 113.34Z"/>
<path d="M340.63 108.94L344.43 108.94L342.53 112.55Z"/>
<path d="M342.56 108.14L346.36 108.14L344.46 111.75Z"/>
<path d="M344.48 107.33L348.28 107.33L346.38 110.94Z"/>
<path d="M346.42 106.52L350.22 106.52L348.32 110.13Z"/>
<path d="M348.35 105.70L352.15 105.70L350.25 109.31Z"/>
<path d="M350.29 104.88L354.09 104.88L352.19 108.49Z"/>
<path d="M352.24 104.04L356.04 104.04L354.14 107.65Z"/>
<path d="M354.19 103.20L357.99 103.20L356.09 106.81Z"/>
<path d="M356.14 102.34L359.94 102.34L358.04 105.95Z"/>
<path d="M358.10 101.48L361.90 101.48L360.00 105.09Z"/>
<path d="M360.07 100.61L363.87 100.61L361.97 104.22Z"/>
<path d="M362.03 99.73L365.83 99.73L363.93 103.34Z"/>
<path d="M364.01 98.85L367.81 98.85L365.91 102.46Z"/>
<path d="M365.98 97.96L369.78 97.96L367.88 101.57Z"/>
<path d="M367.97 97.06L371.77 97.06L369.87 100.67Z"/>
<path d="M369.95 96.15L373.75 96.15L371.85 99.76Z"/>
<path d="M371.94 95.23L375.74 95.23L373.84 98.84Z"/>
<path d="M373.94 94.29L377.74 94.29L375.84 97.90Z"/>
<path d="M375.94 93.33L379.74 93.33L377.84 96.94Z"/>
<path d="M377.94 92.35L381.74 92.35L379.84 95.96Z"/>
<path d="M379.95 91.36L383.75 91.36L381.85 94.97Z"/>
<path d="M381.96 90.33L385.76 90.33L383.86 93.94Z"/>
<path d="M383.98 89.27L387.78 89.27L385.88 92.88Z"/>
<path d="M386.00 88.17L389.80 88.17L387.90 91.78Z"/>
<path d="M388.03 87.04L391.83 87.04L389.93 90.65Z"/>
<path d="M390.06 85.88L393.86 85.88L391.96 89.49Z"/>
<path d="M392.10 84.72L395.90 84.72L394.00 88.33Z"/>
<path d="M394.14 83.54L397.94 83.54L396.04 87.15Z"/>
<path d="M396.19 82.37L399.99 82.37L398.09 85.98Z"/>
<path d="M398.24 81.20L402.04 81.20L400.14 84.81Z"/>
<path d="M400.29 80.05L404.09 80.05L402.19 83.66Z"/>
<path d="M402.35 78.92L406.15 78.92L404.25 82.53Z"/>
<path d="M404.42 77.82L408.22 77.82L406.32 81.43Z"/>
<path d="M406.49 76.76L410.29 76.76L408.39 80.37Z"/>
<path d="M408.56 75.73L412.36 75.73L410.46 79.34Z"/>
<path d="M410.64 74.72L414.44 74.72L412.54 78.33Z"/>
<path d="M412.73 73.72L416.53 73.72L414.63 77.33Z"/>
<path d="M414.81 72.71L418.61 72.71L416.71 76.32Z"/>
<path d="M416.91 71.67L420.71 71.67L418.81 75.28Z"/>
<path d="M419.01 70.60L422.81 70.60L420.91 74.21Z"/>
<path d="M421.11 69.48L424.91 69.48L423.01 73.09Z"/>
<path d="M423.22 68.30L427.02 68.30L425.12 71.91Z"/>
<path d="M425.33 67.05L429.13 67.05L427.23 70.66Z"/>
<path d="M427.45 65.76L431.25 65.76L429.35 69.37Z"/>
<path d="M429.57 64.46L433.37 64.46L431.47 68.07Z"/>
<path d="M431.70 63.16L435.50 63.16L433.60 66.77Z"/>
<path d="M433.83 61.89L437.63 61.89L435.73 65.50Z"/>
<path d="M435.96 60.62L439.76 60.62L437.86 64.23Z"/>
<path d="M438.11 59.35L441.91 59.35L440.01 62.96Z"/>
<path d="M440.25 58.05L444.05 58.05L442.15 61.66Z"/>
<path d="M442.40 56.70L446.20 56.70L444.30 60.31Z"/>
<path d="M444.56 55.30L448.36 55.30L446.46 58.91Z"/>
<path d="M446.72 53.83L450.52 53.83L448.62 57.44Z"/>
<path d="M448.89 52.34L452.69 52.34L450.79 55.95Z"/>
<path d="M451.06 50.87L454.86 50.87L452.96 54.48Z"/>
<path d="M453.24 49.44L457.04 49.44L455.14 53.05Z"/>
<path d="M455.42 48.04L459.22 48.04L457.32 51.65Z"/>
<path d="M457.61 46.65L461.41 46.65L459.51 50.26Z"/>
<path d="M459.80 45.27L463.60 45.27L461.70 48.88Z"/>
<path d="M461.99 43.92L465.79 43.92L463.89 47.53Z"/>
<path d="M464.19 42.58L467.99 42.58L466.09 46.19Z"/>
<path d="M466.40 41.27L470.20 41.27L468.30 44.88Z"/>
<path d="M468.61 39.97L472.41 39.97L470.51 43.58Z"/>
<path d="M470.83 38.70L474.63 38.70L472.73 42.31Z"/>
<path d="M473.05 37.45L476.85 37.45L474.95 41.06Z"/>
<path d="M475.28 36.22L479.08 36.22L477.18 39.83Z"/>
<path d="M477.51 35.01L481.31 35.01L479.41 38.62Z"/>
<path d="M479.75 33.80L483.55 33.80L481.65 37.41Z"/>
<path d="M481.99 32.57L485.79 32.57L483.89 36.18Z"/>
<path d="M484.24 31.30L488.04 31.30L486.14 34.91Z"/>
<path d="M486.49 30.02L490.29 30.02L488.39 33.63Z"/>
<path d="M488.75 28.79L492.55 28.79L490.65 32.40Z"/>
<path d="M491.01 27.62L494.81 27.62L492.91 31.23Z"/>
<path d="M493.28 26.53L497.08 26.53L495.18 30.14Z"/>
<path d="M495.55 25.48L499.35 25.48L497.45 29.09Z"/>
<path d="M497.83 24.47L501.63 24.47L499.73 28.08Z"/>
<path d="M500.11 23.49L503.91 23.49L502.01 27.10Z"/>
<path d="M502.40 22.57L506.20 22.57L504.30 26.18Z"/>
<path d="M504.69 21.69L508.49 21.69L506.59 25.30Z"/>
</g>
<g fill="#fff" fill-opacity="0.38" stroke="#22aae8" stroke-width="0.5">
<path d="M310.50 129.60L312.35 128.84L314.20 128.06L316.06 127.27L317.93 126.48L319.79 125.67L321.66 124.85L323.54 124.02L325.42 123.18L327.30 122.33L329.19 121.47L331.08 120.60L332.98 119.72L334.88 118.83L336.79 117.93L338.70 117.02L340.61 116.10L342.53 115.17L344.46 114.21L346.38 113.23L348.32 112.24L350.25 111.23L352.19 110.21L354.14 109.19L356.09 108.16L358.04 107.13L360.00 106.10L361.97 105.07L363.93 104.05L365.91 103.03L367.88 102.02L369.86 101.00L371.85 99.98L373.84 98.96L375.84 97.94L377.84 96.92L379.84 95.90L381.85 94.88L383.86 93.88L385.88 92.88L387.90 91.79L389.93 90.64L391.96 89.45L394.00 88.22L396.04 86.96L398.09 85.68L400.14 84.36L402.19 83.03L404.25 81.68L406.32 80.33L408.39 78.97L410.46 77.60L412.54 76.23L414.62 74.84L416.71 73.42L418.80 71.97L420.90 70.48L423.00 68.95L425.11 67.35L427.22 65.70L429.34 64.00L431.46 62.25L433.59 60.46L435.72 58.60L437.86 56.63L440.00 54.63L442.15 52.65L444.30 50.77L446.46 48.99L448.62 47.27L450.78 45.60L452.95 43.97L455.13 42.37L457.31 40.78L459.50 39.24L461.69 37.79L463.89 36.45L466.09 35.18L468.29 33.99L470.50 32.92L472.72 31.93L474.94 31.01L477.17 30.14L479.40 29.29L481.64 28.47L483.88 27.65L486.13 26.88L488.38 26.14L490.64 25.41L492.90 24.66L495.17 23.88L497.44 23.05L499.72 22.16L502.00 21.24L504.29 20.28L506.58 19.28" stroke-width="0.45" fill="none"/>
<path stroke-width="0.6" d="M308.50 127.60L312.50 131.59M308.50 131.59L312.50 127.60"/>
<path stroke-width="0.6" d="M310.36 126.84L314.35 130.83M310.36 130.83L314.35 126.84"/>
<path stroke-width="0.6" d="M312.21 126.07L316.20 130.06M312.21 130.06L316.20 126.07"/>
<path stroke-width="0.6" d="M314.07 125.28L318.06 129.27M314.07 129.27L318.06 125.28"/>
<path stroke-width="0.6" d="M315.93 124.48L319.92 128.47M315.93 128.47L319.92 124.48"/>
<path stroke-width="0.6" d="M317.80 123.67L321.79 127.66M317.80 127.66L321.79 123.67"/>
<path stroke-width="0.6" d="M319.67 122.86L323.66 126.85M319.67 126.85L323.66 122.86"/>
<path stroke-width="0.6" d="M321.54 122.03L325.53 126.02M321.54 126.02L325.53 122.03"/>
<path stroke-width="0.6" d="M323.42 121.19L327.41 125.18M323.42 125.18L327.41 121.19"/>
<path stroke-width="0.6" d="M325.31 120.34L329.30 124.33M325.31 124.33L329.30 120.34"/>
<path stroke-width="0.6" d="M327.20 119.48L331.19 123.47M327.20 123.47L331.19 119.48"/>
<path stroke-width="0.6" d="M329.09 118.61L333.08 122.60M329.09 122.60L333.08 118.61"/>
<path stroke-width="0.6" d="M330.99 117.73L334.98 121.72M330.99 121.72L334.98 117.73"/>
<path stroke-width="0.6" d="M332.89 116.84L336.88 120.83M332.89 120.83L336.88 116.84"/>
<path stroke-width="0.6" d="M334.79 115.94L338.78 119.93M334.79 119.93L338.78 115.94"/>
<path stroke-width="0.6" d="M336.70 115.03L340.69 119.02M336.70 119.02L340.69 115.03"/>
<path stroke-width="0.6" d="M338.62 114.11L342.61 118.10M338.62 118.10L342.61 114.11"/>
<path stroke-width="0.6" d="M340.54 113.17L344.53 117.16M340.54 117.16L344.53 113.17"/>
<path stroke-width="0.6" d="M342.46 112.21L346.45 116.20M342.46 116.20L346.45 112.21"/>
<path stroke-width="0.6" d="M344.39 111.23L348.38 115.22M344.39 115.22L348.38 111.23"/>
<path stroke-width="0.6" d="M346.32 110.24L350.31 114.23M346.32 114.23L350.31 110.24"/>
<path stroke-width="0.6" d="M348.26 109.24L352.25 113.23M348.26 113.23L352.25 109.24"/>
<path stroke-width="0.6" d="M350.20 108.22L354.19 112.21M350.20 112.21L354.19 108.22"/>
<path stroke-width="0.6" d="M352.14 107.20L356.13 111.19M352.14 111.19L356.13 107.20"/>
<path stroke-width="0.6" d="M354.09 106.17L358.08 110.16M354.09 110.16L358.08 106.17"/>
<path stroke-width="0.6" d="M356.05 105.14L360.04 109.13M356.05 109.13L360.04 105.14"/>
<path stroke-width="0.6" d="M358.01 104.10L362.00 108.09M358.01 108.09L362.00 104.10"/>
<path stroke-width="0.6" d="M359.97 103.08L363.96 107.07M359.97 107.07L363.96 103.08"/>
<path stroke-width="0.6" d="M361.94 102.05L365.93 106.04M361.94 106.04L365.93 102.05"/>
<path stroke-width="0.6" d="M363.91 101.04L367.90 105.03M363.91 105.03L367.90 101.04"/>
<path stroke-width="0.6" d="M365.89 100.02L369.88 104.01M365.89 104.01L369.88 100.02"/>
<path stroke-width="0.6" d="M367.87 99.01L371.86 103.00M367.87 103.00L371.86 99.01"/>
<path stroke-width="0.6" d="M369.86 97.99L373.85 101.98M369.86 101.98L373.85 97.99"/>
<path stroke-width="0.6" d="M371.85 96.96L375.84 100.95M371.85 100.95L375.84 96.96"/>
<path stroke-width="0.6" d="M373.84 95.94L377.83 99.93M373.84 99.93L377.83 95.94"/>
<path stroke-width="0.6" d="M375.84 94.92L379.83 98.91M375.84 98.91L379.83 94.92"/>
<path stroke-width="0.6" d="M377.84 93.90L381.83 97.89M377.84 97.89L381.83 93.90"/>
<path stroke-width="0.6" d="M379.85 92.88L383.84 96.87M379.85 96.87L383.84 92.88"/>
<path stroke-width="0.6" d="M381.87 91.88L385.86 95.87M381.87 95.87L385.86 91.88"/>
<path stroke-width="0.6" d="M383.88 90.88L387.87 94.87M383.88 94.87L387.87 90.88"/>
<path stroke-width="0.6" d="M385.91 89.79L389.90 93.78M385.91 93.78L389.90 89.79"/>
<path stroke-width="0.6" d="M387.93 88.64L391.92 92.63M387.93 92.63L391.92 88.64"/>
<path stroke-width="0.6" d="M389.97 87.46L393.96 91.45M389.97 91.45L393.96 87.46"/>
<path stroke-width="0.6" d="M392.00 86.23L395.99 90.22M392.00 90.22L395.99 86.23"/>
<path stroke-width="0.6" d="M394.04 84.97L398.03 88.96M394.04 88.96L398.03 84.97"/>
<path stroke-width="0.6" d="M396.09 83.68L400.08 87.67M396.09 87.67L400.08 83.68"/>
<path stroke-width="0.6" d="M398.14 82.37L402.13 86.36M398.14 86.36L402.13 82.37"/>
<path stroke-width="0.6" d="M400.20 81.04L404.19 85.03M400.20 85.03L404.19 81.04"/>
<path stroke-width="0.6" d="M402.26 79.69L406.25 83.68M402.26 83.68L406.25 79.69"/>
<path stroke-width="0.6" d="M404.32 78.33L408.31 82.32M404.32 82.32L408.31 78.33"/>
<path stroke-width="0.6" d="M406.39 76.97L410.38 80.96M406.39 80.96L410.38 76.97"/>
<path stroke-width="0.6" d="M408.46 75.61L412.45 79.60M408.46 79.60L412.45 75.61"/>
<path stroke-width="0.6" d="M410.54 74.23L414.53 78.22M410.54 78.22L414.53 74.23"/>
<path stroke-width="0.6" d="M412.63 72.84L416.62 76.83M412.63 76.83L416.62 72.84"/>
<path stroke-width="0.6" d="M414.72 71.43L418.71 75.42M414.72 75.42L418.71 71.43"/>
<path stroke-width="0.6" d="M416.81 69.98L420.80 73.97M416.81 73.97L420.80 69.98"/>
<path stroke-width="0.6" d="M418.91 68.49L422.90 72.48M418.91 72.48L422.90 68.49"/>
<path stroke-width="0.6" d="M421.01 66.95L425.00 70.94M421.01 70.94L425.00 66.95"/>
<path stroke-width="0.6" d="M423.12 65.36L427.11 69.35M423.12 69.35L427.11 65.36"/>
<path stroke-width="0.6" d="M425.23 63.71L429.22 67.70M425.23 67.70L429.22 63.71"/>
<path stroke-width="0.6" d="M427.35 62.01L431.34 66.00M427.35 66.00L431.34 62.01"/>
<path stroke-width="0.6" d="M429.47 60.26L433.46 64.25M429.47 64.25L433.46 60.26"/>
<path stroke-width="0.6" d="M431.60 58.47L435.59 62.46M431.60 62.46L435.59 58.47"/>
<path stroke-width="0.6" d="M433.73 56.60L437.72 60.59M433.73 60.59L437.72 56.60"/>
<path stroke-width="0.6" d="M435.86 54.64L439.85 58.63M435.86 58.63L439.85 54.64"/>
<path stroke-width="0.6" d="M438.01 52.64L442.00 56.63M438.01 56.63L442.00 52.64"/>
<path stroke-width="0.6" d="M440.15 50.66L444.14 54.65M440.15 54.65L444.14 50.66"/>
<path stroke-width="0.6" d="M442.30 48.77L446.29 52.76M442.30 52.76L446.29 48.77"/>
<path stroke-width="0.6" d="M444.46 47.00L448.45 50.99M444.46 50.99L448.45 47.00"/>
<path stroke-width="0.6" d="M446.62 45.28L450.61 49.27M446.62 49.27L450.61 45.28"/>
<path stroke-width="0.6" d="M448.79 43.61L452.78 47.60M448.79 47.60L452.78 43.61"/>
<path stroke-width="0.6" d="M450.96 41.98L454.95 45.97M450.96 45.97L454.95 41.98"/>
<path stroke-width="0.6" d="M453.14 40.37L457.13 44.36M453.14 44.36L457.13 40.37"/>
<path stroke-width="0.6" d="M455.32 38.78L459.31 42.77M455.32 42.77L459.31 38.78"/>
<path stroke-width="0.6" d="M457.50 37.24L461.49 41.23M457.50 41.23L461.49 37.24"/>
<path stroke-width="0.6" d="M459.69 35.80L463.68 39.79M459.69 39.79L463.68 35.80"/>
<path stroke-width="0.6" d="M461.89 34.46L465.88 38.45M461.89 38.45L465.88 34.46"/>
<path stroke-width="0.6" d="M464.09 33.18L468.08 37.17M464.09 37.17L468.08 33.18"/>
<path stroke-width="0.6" d="M466.30 32.00L470.29 35.99M466.30 35.99L470.29 32.00"/>
<path stroke-width="0.6" d="M468.51 30.92L472.50 34.91M468.51 34.91L472.50 30.92"/>
<path stroke-width="0.6" d="M470.73 29.94L474.72 33.93M470.73 33.93L474.72 29.94"/>
<path stroke-width="0.6" d="M472.95 29.02L476.94 33.01M472.95 33.01L476.94 29.02"/>
<path stroke-width="0.6" d="M475.17 28.14L479.16 32.13M475.17 32.13L479.16 28.14"/>
<path stroke-width="0.6" d="M477.41 27.30L481.40 31.29M477.41 31.29L481.40 27.30"/>
<path stroke-width="0.6" d="M479.64 26.48L483.63 30.47M479.64 30.47L483.63 26.48"/>
<path stroke-width="0.6" d="M481.88 25.66L485.87 29.65M481.88 29.65L485.87 25.66"/>
<path stroke-width="0.6" d="M484.13 24.88L488.12 28.87M484.13 28.87L488.12 24.88"/>
<path stroke-width="0.6" d="M486.38 24.14L490.37 28.13M486.38 28.13L490.37 24.14"/>
<path stroke-width="0.6" d="M488.64 23.41L492.63 27.40M488.64 27.40L492.63 23.41"/>
<path stroke-width="0.6" d="M490.90 22.67L494.89 26.66M490.90 26.66L494.89 22.67"/>
<path stroke-width="0.6" d="M493.17 21.89L497.16 25.88M493.17 25.88L497.16 21.89"/>
<path stroke-width="0.6" d="M495.44 21.05L499.43 25.04M495.44 25.04L499.43 21.05"/>
<path stroke-width="0.6" d="M497.72 20.17L501.71 24.16M497.72 24.16L501.71 20.17"/>
<path stroke-width="0.6" d="M500.01 19.24L504.00 23.23M500.01 23.23L504.00 19.24"/>
<path stroke-width="0.6" d="M502.29 18.28L506.28 22.27M502.29 22.27L506.28 18.28"/>
<path stroke-width="0.6" d="M504.59 17.29L508.58 21.28M504.59 21.28L508.58 17.29"/>
</g>
<g fill="#fff" fill-opacity="0.38" stroke="#2f9540" stroke-width="0.5">
<path d="M310.50 134.60L312.35 133.77L314.20 132.93L316.06 132.08L317.93 131.21L319.79 130.32L321.66 129.42L323.54 128.51L325.42 127.58L327.30 126.63L329.19 125.68L331.08 124.71L332.98 123.73L334.88 122.73L336.79 121.72L338.70 120.70L340.61 119.67L342.53 118.61L344.46 117.54L346.38 116.45L348.32 115.33L350.25 114.20L352.19 113.06L354.14 111.89L356.09 110.71L358.04 109.52L360.00 108.32L361.97 107.10L363.93 105.87L365.91 104.63L367.88 103.38L369.86 102.12L371.85 100.84L373.84 99.54L375.84 98.22L377.84 96.86L379.84 95.47L381.85 94.04L383.86 92.55L385.88 90.97L387.90 89.38L389.93 87.80L391.96 86.18L394.00 84.50L396.04 82.72L398.09 80.87L400.14 78.99L402.19 77.14L404.25 75.30L406.32 73.47L408.39 71.61L410.46 69.71L412.54 67.76L414.62 65.69L416.71 63.52L418.80 61.31L420.90 59.17L423.00 57.17L425.11 55.38L427.22 53.74L429.34 52.16L431.46 50.53L433.59 48.77L435.72 46.68L437.86 44.40L440.00 42.50L442.15 41.22L444.30 40.11L446.46 38.93L448.62 37.75L450.78 36.57L452.95 35.42L455.13 34.32L457.31 33.26L459.50 32.25L461.69 31.27L463.89 30.31L466.09 29.38L468.29 28.48L470.50 27.60L472.72 26.73L474.94 25.88L477.17 25.06L479.40 24.26L481.64 23.50L483.88 22.79L486.13 22.09L488.38 21.41L490.64 20.75L492.90 20.10L495.17 19.47L497.44 18.86L499.72 18.28L502.00 17.72L504.29 17.19L506.58 16.69" stroke-width="0.45" fill="none"/>
<rect x="308.60" y="132.70" width="3.80" height="3.80"/>
<rect x="310.45" y="131.87" width="3.80" height="3.80"/>
<rect x="312.30" y="131.03" width="3.80" height="3.80"/>
<rect x="314.16" y="130.18" width="3.80" height="3.80"/>
<rect x="316.03" y="129.31" width="3.80" height="3.80"/>
<rect x="317.89" y="128.42" width="3.80" height="3.80"/>
<rect x="319.76" y="127.52" width="3.80" height="3.80"/>
<rect x="321.64" y="126.61" width="3.80" height="3.80"/>
<rect x="323.52" y="125.68" width="3.80" height="3.80"/>
<rect x="325.40" y="124.73" width="3.80" height="3.80"/>
<rect x="327.29" y="123.78" width="3.80" height="3.80"/>
<rect x="329.18" y="122.81" width="3.80" height="3.80"/>
<rect x="331.08" y="121.83" width="3.80" height="3.80"/>
<rect x="332.98" y="120.83" width="3.80" height="3.80"/>
<rect x="334.89" y="119.82" width="3.80" height="3.80"/>
<rect x="336.80" y="118.80" width="3.80" height="3.80"/>
<rect x="338.71" y="117.77" width="3.80" height="3.80"/>
<rect x="340.63" y="116.71" width="3.80" height="3.80"/>
<rect x="342.56" y="115.64" width="3.80" height="3.80"/>
<rect x="344.48" y="114.55" width="3.80" height="3.80"/>
<rect x="346.42" y="113.43" width="3.80" height="3.80"/>
<rect x="348.35" y="112.30" width="3.80" height="3.80"/>
<rect x="350.29" y="111.16" width="3.80" height="3.80"/>
<rect x="352.24" y="109.99" width="3.80" height="3.80"/>
<rect x="354.19" y="108.81" width="3.80" height="3.80"/>
<rect x="356.14" y="107.62" width="3.80" height="3.80"/>
<rect x="358.10" y="106.42" width="3.80" height="3.80"/>
<rect x="360.07" y="105.20" width="3.80" height="3.80"/>
<rect x="362.03" y="103.97" width="3.80" height="3.80"/>
<rect x="364.01" y="102.73" width="3.80" height="3.80"/>
<rect x="365.98" y="101.48" width="3.80" height="3.80"/>
<rect x="367.96" y="100.22" width="3.80" height="3.80"/>
<rect x="369.95" y="98.94" width="3.80" height="3.80"/>
<rect x="371.94" y="97.64" width="3.80" height="3.80"/>
<rect x="373.94" y="96.32" width="3.80" height="3.80"/>
<rect x="375.94" y="94.96" width="3.80" height="3.80"/>
<rect x="377.94" y="93.57" width="3.80" height="3.80"/>
<rect x="379.95" y="92.14" width="3.80" height="3.80"/>
<rect x="381.96" y="90.65" width="3.80" height="3.80"/>
<rect x="383.98" y="89.07" width="3.80" height="3.80"/>
<rect x="386.00" y="87.48" width="3.80" height="3.80"/>
<rect x="388.03" y="85.90" width="3.80" height="3.80"/>
<rect x="390.06" y="84.28" width="3.80" height="3.80"/>
<rect x="392.10" y="82.60" width="3.80" height="3.80"/>
<rect x="394.14" y="80.82" width="3.80" height="3.80"/>
<rect x="396.19" y="78.97" width="3.80" height="3.80"/>
<rect x="398.24" y="77.09" width="3.80" height="3.80"/>
<rect x="400.29" y="75.24" width="3.80" height="3.80"/>
<rect x="402.35" y="73.40" width="3.80" height="3.80"/>
<rect x="404.42" y="71.57" width="3.80" height="3.80"/>
<rect x="406.49" y="69.71" width="3.80" height="3.80"/>
<rect x="408.56" y="67.81" width="3.80" height="3.80"/>
<rect x="410.64" y="65.86" width="3.80" height="3.80"/>
<rect x="412.72" y="63.79" width="3.80" height="3.80"/>
<rect x="414.81" y="61.62" width="3.80" height="3.80"/>
<rect x="416.90" y="59.41" width="3.80" height="3.80"/>
<rect x="419.00" y="57.27" width="3.80" height="3.80"/>
<rect x="421.10" y="55.27" width="3.80" height="3.80"/>
<rect x="423.21" y="53.48" width="3.80" height="3.80"/>
<rect x="425.32" y="51.84" width="3.80" height="3.80"/>
<rect x="427.44" y="50.26" width="3.80" height="3.80"/>
<rect x="429.56" y="48.63" width="3.80" height="3.80"/>
<rect x="431.69" y="46.87" width="3.80" height="3.80"/>
<rect x="433.82" y="44.78" width="3.80" height="3.80"/>
<rect x="435.96" y="42.50" width="3.80" height="3.80"/>
<rect x="438.10" y="40.60" width="3.80" height="3.80"/>
<rect x="440.25" y="39.32" width="3.80" height="3.80"/>
<rect x="442.40" y="38.21" width="3.80" height="3.80"/>
<rect x="444.56" y="37.03" width="3.80" height="3.80"/>
<rect x="446.72" y="35.85" width="3.80" height="3.80"/>
<rect x="448.88" y="34.67" width="3.80" height="3.80"/>
<rect x="451.05" y="33.52" width="3.80" height="3.80"/>
<rect x="453.23" y="32.42" width="3.80" height="3.80"/>
<rect x="455.41" y="31.36" width="3.80" height="3.80"/>
<rect x="457.60" y="30.35" width="3.80" height="3.80"/>
<rect x="459.79" y="29.37" width="3.80" height="3.80"/>
<rect x="461.99" y="28.41" width="3.80" height="3.80"/>
<rect x="464.19" y="27.48" width="3.80" height="3.80"/>
<rect x="466.39" y="26.58" width="3.80" height="3.80"/>
<rect x="468.60" y="25.70" width="3.80" height="3.80"/>
<rect x="470.82" y="24.83" width="3.80" height="3.80"/>
<rect x="473.04" y="23.98" width="3.80" height="3.80"/>
<rect x="475.27" y="23.16" width="3.80" height="3.80"/>
<rect x="477.50" y="22.36" width="3.80" height="3.80"/>
<rect x="479.74" y="21.60" width="3.80" height="3.80"/>
<rect x="481.98" y="20.89" width="3.80" height="3.80"/>
<rect x="484.23" y="20.19" width="3.80" height="3.80"/>
<rect x="486.48" y="19.51" width="3.80" height="3.80"/>
<rect x="488.74" y="18.85" width="3.80" height="3.80"/>
<rect x="491.00" y="18.20" width="3.80" height="3.80"/>
<rect x="493.27" y="17.57" width="3.80" height="3.80"/>
<rect x="495.54" y="16.96" width="3.80" height="3.80"/>
<rect x="497.82" y="16.38" width="3.80" height="3.80"/>
<rect x="500.10" y="15.82" width="3.80" height="3.80"/>
<rect x="502.39" y="15.29" width="3.80" height="3.80"/>
<rect x="504.68" y="14.79" width="3.80" height="3.80"/>
</g>
<g fill="#fff" fill-opacity="0.38" stroke="#ee6c1c" stroke-width="0.5">
<path d="M310.50 137.60L312.35 136.75L314.20 135.88L316.06 135.00L317.93 134.09L319.79 133.16L321.66 132.22L323.54 131.26L325.42 130.28L327.30 129.28L329.19 128.26L331.08 127.23L332.98 126.19L334.88 125.12L336.79 124.05L338.70 122.95L340.61 121.84L342.53 120.71L344.46 119.55L346.38 118.36L348.32 117.15L350.25 115.91L352.19 114.65L354.14 113.38L356.09 112.08L358.04 110.77L360.00 109.44L361.97 108.09L363.93 106.74L365.91 105.38L367.88 104.04L369.86 102.72L371.85 101.39L373.84 100.02L375.83 98.59L377.83 97.08L379.84 95.45L381.85 93.70L383.86 91.74L385.88 89.44L387.90 86.92L389.93 84.25L391.96 81.28L394.00 78.31L396.04 75.51L398.08 72.78L400.13 70.10L402.19 67.46L404.25 64.81L406.31 62.28L408.38 60.01L410.46 57.90L412.54 56.05L414.62 54.45L416.71 53.00L418.80 51.65L420.90 50.37L423.00 49.12L425.11 47.89L427.22 46.72L429.34 45.59L431.46 44.48L433.59 43.36L435.72 42.25L437.86 41.15L440.00 40.07L442.14 38.98L444.29 37.90L446.45 36.81L448.61 35.69L450.78 34.57L452.95 33.49L455.12 32.46L457.31 31.50L459.49 30.58L461.68 29.68L463.88 28.81L466.08 27.95L468.29 27.12L470.50 26.31L472.71 25.51L474.93 24.74L477.16 23.98L479.39 23.23L481.63 22.50L483.87 21.79L486.12 21.09L488.37 20.40L490.63 19.72L492.89 19.06L495.16 18.41L497.43 17.78L499.71 17.17L501.99 16.57L504.28 15.99L506.57 15.43" stroke-width="0.45" fill="none"/>
<path d="M308.60 139.12L312.40 139.12L310.50 135.51Z"/>
<path d="M310.45 138.27L314.25 138.27L312.35 134.66Z"/>
<path d="M312.30 137.40L316.10 137.40L314.20 133.79Z"/>
<path d="M314.16 136.52L317.96 136.52L316.06 132.91Z"/>
<path d="M316.03 135.61L319.83 135.61L317.93 132.00Z"/>
<path d="M317.89 134.68L321.69 134.68L319.79 131.07Z"/>
<path d="M319.76 133.74L323.56 133.74L321.66 130.13Z"/>
<path d="M321.64 132.78L325.44 132.78L323.54 129.17Z"/>
<path d="M323.52 131.80L327.32 131.80L325.42 128.19Z"/>
<path d="M325.40 130.80L329.20 130.80L327.30 127.19Z"/>
<path d="M327.29 129.78L331.09 129.78L329.19 126.17Z"/>
<path d="M329.18 128.75L332.98 128.75L331.08 125.14Z"/>
<path d="M331.08 127.71L334.88 127.71L332.98 124.10Z"/>
<path d="M332.98 126.64L336.78 126.64L334.88 123.03Z"/>
<path d="M334.89 125.57L338.69 125.57L336.79 121.96Z"/>
<path d="M336.80 124.47L340.60 124.47L338.70 120.86Z"/>
<path d="M338.71 123.36L342.51 123.36L340.61 119.75Z"/>
<path d="M340.63 122.23L344.43 122.23L342.53 118.62Z"/>
<path d="M342.56 121.07L346.36 121.07L344.46 117.46Z"/>
<path d="M344.48 119.88L348.28 119.88L346.38 116.27Z"/>
<path d="M346.42 118.67L350.22 118.67L348.32 115.06Z"/>
<path d="M348.35 117.43L352.15 117.43L350.25 113.82Z"/>
<path d="M350.29 116.17L354.09 116.17L352.19 112.56Z"/>
<path d="M352.24 114.90L356.04 114.90L354.14 111.29Z"/>
<path d="M354.19 113.60L357.99 113.60L356.09 109.99Z"/>
<path d="M356.14 112.29L359.94 112.29L358.04 108.68Z"/>
<path d="M358.10 110.96L361.90 110.96L360.00 107.35Z"/>
<path d="M360.07 109.61L363.87 109.61L361.97 106.00Z"/>
<path d="M362.03 108.26L365.83 108.26L363.93 104.65Z"/>
<path d="M364.01 106.90L367.81 106.90L365.91 103.29Z"/>
<path d="M365.98 105.56L369.78 105.56L367.88 101.95Z"/>
<path d="M367.96 104.24L371.76 104.24L369.86 100.63Z"/>
<path d="M369.95 102.91L373.75 102.91L371.85 99.30Z"/>
<path d="M371.94 101.54L375.74 101.54L373.84 97.93Z"/>
<path d="M373.93 100.11L377.73 100.11L375.83 96.50Z"/>
<path d="M375.93 98.60L379.73 98.60L377.83 94.99Z"/>
<path d="M377.94 96.97L381.74 96.97L379.84 93.36Z"/>
<path d="M379.95 95.22L383.75 95.22L381.85 91.61Z"/>
<path d="M381.96 93.26L385.76 93.26L383.86 89.65Z"/>
<path d="M383.98 90.96L387.78 90.96L385.88 87.35Z"/>
<path d="M386.00 88.44L389.80 88.44L387.90 84.83Z"/>
<path d="M388.03 85.77L391.83 85.77L389.93 82.16Z"/>
<path d="M390.06 82.80L393.86 82.80L391.96 79.19Z"/>
<path d="M392.10 79.83L395.90 79.83L394.00 76.22Z"/>
<path d="M394.14 77.03L397.94 77.03L396.04 73.42Z"/>
<path d="M396.18 74.30L399.98 74.30L398.08 70.69Z"/>
<path d="M398.23 71.62L402.03 71.62L400.13 68.01Z"/>
<path d="M400.29 68.98L404.09 68.98L402.19 65.37Z"/>
<path d="M402.35 66.33L406.15 66.33L404.25 62.72Z"/>
<path d="M404.41 63.80L408.21 63.80L406.31 60.19Z"/>
<path d="M406.48 61.53L410.28 61.53L408.38 57.92Z"/>
<path d="M408.56 59.42L412.36 59.42L410.46 55.81Z"/>
<path d="M410.64 57.57L414.44 57.57L412.54 53.96Z"/>
<path d="M412.72 55.97L416.52 55.97L414.62 52.36Z"/>
<path d="M414.81 54.52L418.61 54.52L416.71 50.91Z"/>
<path d="M416.90 53.17L420.70 53.17L418.80 49.56Z"/>
<path d="M419.00 51.89L422.80 51.89L420.90 48.28Z"/>
<path d="M421.10 50.64L424.90 50.64L423.00 47.03Z"/>
<path d="M423.21 49.41L427.01 49.41L425.11 45.80Z"/>
<path d="M425.32 48.24L429.12 48.24L427.22 44.63Z"/>
<path d="M427.44 47.11L431.24 47.11L429.34 43.50Z"/>
<path d="M429.56 46.00L433.36 46.00L431.46 42.39Z"/>
<path d="M431.69 44.88L435.49 44.88L433.59 41.27Z"/>
<path d="M433.82 43.77L437.62 43.77L435.72 40.16Z"/>
<path d="M435.96 42.67L439.76 42.67L437.86 39.06Z"/>
<path d="M438.10 41.59L441.90 41.59L440.00 37.98Z"/>
<path d="M440.24 40.50L444.04 40.50L442.14 36.89Z"/>
<path d="M442.39 39.42L446.19 39.42L444.29 35.81Z"/>
<path d="M444.55 38.33L448.35 38.33L446.45 34.72Z"/>
<path d="M446.71 37.21L450.51 37.21L448.61 33.60Z"/>
<path d="M448.88 36.09L452.68 36.09L450.78 32.48Z"/>
<path d="M451.05 35.01L454.85 35.01L452.95 31.40Z"/>
<path d="M453.22 33.98L457.02 33.98L455.12 30.37Z"/>
<path d="M455.41 33.02L459.21 33.02L457.31 29.41Z"/>
<path d="M457.59 32.10L461.39 32.10L459.49 28.49Z"/>
<path d="M459.78 31.20L463.58 31.20L461.68 27.59Z"/>
<path d="M461.98 30.33L465.78 30.33L463.88 26.72Z"/>
<path d="M464.18 29.47L467.98 29.47L466.08 25.86Z"/>
<path d="M466.39 28.64L470.19 28.64L468.29 25.03Z"/>
<path d="M468.60 27.83L472.40 27.83L470.50 24.22Z"/>
<path d="M470.81 27.03L474.61 27.03L472.71 23.42Z"/>
<path d="M473.03 26.26L476.83 26.26L474.93 22.65Z"/>
<path d="M475.26 25.50L479.06 25.50L477.16 21.89Z"/>
<path d="M477.49 24.75L481.29 24.75L479.39 21.14Z"/>
<path d="M479.73 24.02L483.53 24.02L481.63 20.41Z"/>
<path d="M481.97 23.31L485.77 23.31L483.87 19.70Z"/>
<path d="M484.22 22.61L488.02 22.61L486.12 19.00Z"/>
<path d="M486.47 21.92L490.27 21.92L488.37 18.31Z"/>
<path d="M488.73 21.24L492.53 21.24L490.63 17.63Z"/>
<path d="M490.99 20.58L494.79 20.58L492.89 16.97Z"/>
<path d="M493.26 19.93L497.06 19.93L495.16 16.32Z"/>
<path d="M495.53 19.30L499.33 19.30L497.43 15.69Z"/>
<path d="M497.81 18.69L501.61 18.69L499.71 15.08Z"/>
<path d="M500.09 18.09L503.89 18.09L501.99 14.48Z"/>
<path d="M502.38 17.51L506.18 17.51L504.28 13.90Z"/>
<path d="M504.67 16.95L508.47 16.95L506.57 13.34Z"/>
</g>
<g fill="#fff" fill-opacity="0.38" stroke="#e52f36" stroke-width="0.5">
<path d="M310.50 155.10L312.35 154.45L314.20 153.76L316.06 153.03L317.93 152.26L319.79 151.46L321.66 150.63L323.54 149.77L325.42 148.88L327.30 147.96L329.19 147.03L331.08 146.06L332.98 145.07L334.88 143.99L336.79 142.85L338.70 141.66L340.61 140.46L342.53 139.25L344.46 138.07L346.38 136.92L348.32 135.82L350.25 134.73L352.19 133.62L354.14 132.47L356.09 131.25L358.04 129.91L360.00 128.47L361.97 126.93L363.93 125.27L365.91 123.46L367.88 121.48L369.86 119.28L371.85 116.74L373.84 113.86L375.83 110.64L377.83 107.09L379.84 102.14L381.85 93.56L383.86 86.88L385.88 80.59L387.90 75.03L389.93 70.89L391.96 67.90L394.00 65.39L396.04 63.24L398.08 61.30L400.13 59.54L402.19 57.96L404.25 56.55L406.31 55.25L408.38 54.03L410.46 52.87L412.54 51.74L414.62 50.62L416.71 49.55L418.80 48.51L420.90 47.49L423.00 46.49L425.11 45.51L427.22 44.56L429.34 43.62L431.46 42.69L433.59 41.74L435.72 40.78L437.86 39.82L440.00 38.86L442.14 37.89L444.29 36.90L446.45 35.87L448.61 34.80L450.78 33.72L452.95 32.66L455.12 31.64L457.31 30.70L459.49 29.80L461.68 28.92L463.88 28.06L466.08 27.22L468.29 26.39L470.50 25.58L472.71 24.80L474.93 24.02L477.16 23.27L479.39 22.53L481.63 21.80L483.87 21.09L486.12 20.39L488.37 19.70L490.63 19.03L492.89 18.37L495.16 17.72L497.43 17.09L499.71 16.47L501.99 15.88L504.28 15.29L506.57 14.73" stroke-width="0.45" fill="none"/>
<circle cx="310.50" cy="155.10" r="1.90"/>
<circle cx="312.35" cy="154.45" r="1.90"/>
<circle cx="314.20" cy="153.76" r="1.90"/>
<circle cx="316.06" cy="153.03" r="1.90"/>
<circle cx="317.93" cy="152.26" r="1.90"/>
<circle cx="319.79" cy="151.46" r="1.90"/>
<circle cx="321.66" cy="150.63" r="1.90"/>
<circle cx="323.54" cy="149.77" r="1.90"/>
<circle cx="325.42" cy="148.88" r="1.90"/>
<circle cx="327.30" cy="147.96" r="1.90"/>
<circle cx="329.19" cy="147.03" r="1.90"/>
<circle cx="331.08" cy="146.06" r="1.90"/>
<circle cx="332.98" cy="145.07" r="1.90"/>
<circle cx="334.88" cy="143.99" r="1.90"/>
<circle cx="336.79" cy="142.85" r="1.90"/>
<circle cx="338.70" cy="141.66" r="1.90"/>
<circle cx="340.61" cy="140.46" r="1.90"/>
<circle cx="342.53" cy="139.25" r="1.90"/>
<circle cx="344.46" cy="138.07" r="1.90"/>
<circle cx="346.38" cy="136.92" r="1.90"/>
<circle cx="348.32" cy="135.82" r="1.90"/>
<circle cx="350.25" cy="134.73" r="1.90"/>
<circle cx="352.19" cy="133.62" r="1.90"/>
<circle cx="354.14" cy="132.47" r="1.90"/>
<circle cx="356.09" cy="131.25" r="1.90"/>
<circle cx="358.04" cy="129.91" r="1.90"/>
<circle cx="360.00" cy="128.47" r="1.90"/>
<circle cx="361.97" cy="126.93" r="1.90"/>
<circle cx="363.93" cy="125.27" r="1.90"/>
<circle cx="365.91" cy="123.46" r="1.90"/>
<circle cx="367.88" cy="121.48" r="1.90"/>
<circle cx="369.86" cy="119.28" r="1.90"/>
<circle cx="371.85" cy="116.74" r="1.90"/>
<circle cx="373.84" cy="113.86" r="1.90"/>
<circle cx="375.83" cy="110.64" r="1.90"/>
<circle cx="377.83" cy="107.09" r="1.90"/>
<circle cx="379.84" cy="102.14" r="1.90"/>
<circle cx="381.85" cy="93.56" r="1.90"/>
<circle cx="383.86" cy="86.88" r="1.90"/>
<circle cx="385.88" cy="80.59" r="1.90"/>
<circle cx="387.90" cy="75.03" r="1.90"/>
<circle cx="389.93" cy="70.89" r="1.90"/>
<circle cx="391.96" cy="67.90" r="1.90"/>
<circle cx="394.00" cy="65.39" r="1.90"/>
<circle cx="396.04" cy="63.24" r="1.90"/>
<circle cx="398.08" cy="61.30" r="1.90"/>
<circle cx="400.13" cy="59.54" r="1.90"/>
<circle cx="402.19" cy="57.96" r="1.90"/>
<circle cx="404.25" cy="56.55" r="1.90"/>
<circle cx="406.31" cy="55.25" r="1.90"/>
<circle cx="408.38" cy="54.03" r="1.90"/>
<circle cx="410.46" cy="52.87" r="1.90"/>
<circle cx="412.54" cy="51.74" r="1.90"/>
<circle cx="414.62" cy="50.62" r="1.90"/>
<circle cx="416.71" cy="49.55" r="1.90"/>
<circle cx="418.80" cy="48.51" r="1.90"/>
<circle cx="420.90" cy="47.49" r="1.90"/>
<circle cx="423.00" cy="46.49" r="1.90"/>
<circle cx="425.11" cy="45.51" r="1.90"/>
<circle cx="427.22" cy="44.56" r="1.90"/>
<circle cx="429.34" cy="43.62" r="1.90"/>
<circle cx="431.46" cy="42.69" r="1.90"/>
<circle cx="433.59" cy="41.74" r="1.90"/>
<circle cx="435.72" cy="40.78" r="1.90"/>
<circle cx="437.86" cy="39.82" r="1.90"/>
<circle cx="440.00" cy="38.86" r="1.90"/>
<circle cx="442.14" cy="37.89" r="1.90"/>
<circle cx="444.29" cy="36.90" r="1.90"/>
<circle cx="446.45" cy="35.87" r="1.90"/>
<circle cx="448.61" cy="34.80" r="1.90"/>
<circle cx="450.78" cy="33.72" r="1.90"/>
<circle cx="452.95" cy="32.66" r="1.90"/>
<circle cx="455.12" cy="31.64" r="1.90"/>
<circle cx="457.31" cy="30.70" r="1.90"/>
<circle cx="459.49" cy="29.80" r="1.90"/>
<circle cx="461.68" cy="28.92" r="1.90"/>
<circle cx="463.88" cy="28.06" r="1.90"/>
<circle cx="466.08" cy="27.22" r="1.90"/>
<circle cx="468.29" cy="26.39" r="1.90"/>
<circle cx="470.50" cy="25.58" r="1.90"/>
<circle cx="472.71" cy="24.80" r="1.90"/>
<circle cx="474.93" cy="24.02" r="1.90"/>
<circle cx="477.16" cy="23.27" r="1.90"/>
<circle cx="479.39" cy="22.53" r="1.90"/>
<circle cx="481.63" cy="21.80" r="1.90"/>
<circle cx="483.87" cy="21.09" r="1.90"/>
<circle cx="486.12" cy="20.39" r="1.90"/>
<circle cx="488.37" cy="19.70" r="1.90"/>
<circle cx="490.63" cy="19.03" r="1.90"/>
<circle cx="492.89" cy="18.37" r="1.90"/>
<circle cx="495.16" cy="17.72" r="1.90"/>
<circle cx="497.43" cy="17.09" r="1.90"/>
<circle cx="499.71" cy="16.47" r="1.90"/>
<circle cx="501.99" cy="15.88" r="1.90"/>
<circle cx="504.28" cy="15.29" r="1.90"/>
<circle cx="506.57" cy="14.73" r="1.90"/>
</g>
</g>
<rect x="310.5" y="1.5" width="215.0" height="167.0" fill="none" stroke="#5a5a5a" stroke-width="0.8"/>
<path d="M310.50 168.5v-4.3M310.50 1.5v4.3M317.50 168.5v-2.1M317.50 1.5v2.1M324.50 168.5v-2.1M324.50 1.5v2.1M332.50 168.5v-2.1M332.50 1.5v2.1M339.50 168.5v-2.1M339.50 1.5v2.1M346.50 168.5v-4.3M346.50 1.5v4.3M353.50 168.5v-2.1M353.50 1.5v2.1M360.50 168.5v-2.1M360.50 1.5v2.1M367.50 168.5v-2.1M367.50 1.5v2.1M375.50 168.5v-2.1M375.50 1.5v2.1M382.50 168.5v-4.3M382.50 1.5v4.3M389.50 168.5v-2.1M389.50 1.5v2.1M396.50 168.5v-2.1M396.50 1.5v2.1M403.50 168.5v-2.1M403.50 1.5v2.1M410.50 168.5v-2.1M410.50 1.5v2.1M418.50 168.5v-4.3M418.50 1.5v4.3M425.50 168.5v-2.1M425.50 1.5v2.1M432.50 168.5v-2.1M432.50 1.5v2.1M439.50 168.5v-2.1M439.50 1.5v2.1M446.50 168.5v-2.1M446.50 1.5v2.1M453.50 168.5v-4.3M453.50 1.5v4.3M461.50 168.5v-2.1M461.50 1.5v2.1M468.50 168.5v-2.1M468.50 1.5v2.1M475.50 168.5v-2.1M475.50 1.5v2.1M482.50 168.5v-2.1M482.50 1.5v2.1M489.50 168.5v-4.3M489.50 1.5v4.3M496.50 168.5v-2.1M496.50 1.5v2.1M504.50 168.5v-2.1M504.50 1.5v2.1M511.50 168.5v-2.1M511.50 1.5v2.1M518.50 168.5v-2.1M518.50 1.5v2.1M525.50 168.5v-4.3M525.50 1.5v4.3" stroke="#5a5a5a" stroke-width="0.85" fill="none"/>
<path d="M310.5 157.50h4.3M525.5 157.50h-4.3M310.5 128.50h4.3M525.5 128.50h-4.3M310.5 99.50h4.3M525.5 99.50h-4.3M310.5 71.50h4.3M525.5 71.50h-4.3M310.5 42.50h4.3M525.5 42.50h-4.3M310.5 13.50h4.3M525.5 13.50h-4.3M310.5 162.50h2.1M525.5 162.50h-2.1M310.5 151.50h2.1M525.5 151.50h-2.1M310.5 145.50h2.1M525.5 145.50h-2.1M310.5 139.50h2.1M525.5 139.50h-2.1M310.5 134.50h2.1M525.5 134.50h-2.1M310.5 122.50h2.1M525.5 122.50h-2.1M310.5 116.50h2.1M525.5 116.50h-2.1M310.5 111.50h2.1M525.5 111.50h-2.1M310.5 105.50h2.1M525.5 105.50h-2.1M310.5 94.50h2.1M525.5 94.50h-2.1M310.5 88.50h2.1M525.5 88.50h-2.1M310.5 82.50h2.1M525.5 82.50h-2.1M310.5 76.50h2.1M525.5 76.50h-2.1M310.5 65.50h2.1M525.5 65.50h-2.1M310.5 59.50h2.1M525.5 59.50h-2.1M310.5 53.50h2.1M525.5 53.50h-2.1M310.5 48.50h2.1M525.5 48.50h-2.1M310.5 36.50h2.1M525.5 36.50h-2.1M310.5 30.50h2.1M525.5 30.50h-2.1M310.5 25.50h2.1M525.5 25.50h-2.1M310.5 19.50h2.1M525.5 19.50h-2.1M310.5 7.50h2.1M525.5 7.50h-2.1M310.5 2.50h2.1M525.5 2.50h-2.1" stroke="#5a5a5a" stroke-width="0.85" fill="none"/>
<text x="305.70" y="158.60" font-size="14.5" text-anchor="end" fill="#000" >0.25</text>
<text x="305.70" y="129.88" font-size="14.5" text-anchor="end" fill="#000" >0.3</text>
<text x="305.70" y="101.16" font-size="14.5" text-anchor="end" fill="#000" >0.35</text>
<text x="305.70" y="72.44" font-size="14.5" text-anchor="end" fill="#000" >0.4</text>
<text x="305.70" y="43.72" font-size="14.5" text-anchor="end" fill="#000" >0.45</text>
<text x="305.70" y="15.00" font-size="14.5" text-anchor="end" fill="#000" >0.5</text>
<clipPath id="ct2"><rect x="563.5" y="-0.5" width="219.0" height="171.0"/></clipPath>
<g clip-path="url(#ct2)">
<g fill="#fff" fill-opacity="0.38" stroke="#2a28de" stroke-width="0.5">
<path d="M565.50 122.90L567.25 122.31L569.00 121.71L570.76 121.09L572.52 120.47L574.28 119.84L576.04 119.20L577.81 118.54L579.58 117.88L581.35 117.21L583.12 116.53L584.90 115.84L586.68 115.14L588.46 114.44L590.24 113.72L592.03 112.98L593.82 112.23L595.62 111.46L597.41 110.68L599.21 109.88L601.01 109.08L602.82 108.27L604.62 107.45L606.43 106.64L608.25 105.82L610.06 105.00L611.88 104.19L613.70 103.39L615.52 102.59L617.35 101.81L619.18 101.04L621.01 100.27L622.85 99.50L624.68 98.71L626.52 97.91L628.37 97.09L630.21 96.24L632.06 95.36L633.91 94.44L635.77 93.47L637.62 92.46L639.48 91.42L641.35 90.36L643.21 89.29L645.08 88.20L646.95 87.08L648.83 85.94L650.71 84.79L652.59 83.67L654.47 82.57L656.35 81.49L658.24 80.40L660.13 79.34L662.03 78.30L663.93 77.30L665.83 76.34L667.73 75.44L669.64 74.56L671.54 73.68L673.46 72.77L675.37 71.80L677.29 70.79L679.21 69.77L681.13 68.75L683.06 67.76L684.99 66.77L686.92 65.80L688.86 64.83L690.80 63.86L692.74 62.90L694.68 61.93L696.63 60.97L698.58 60.00L700.53 59.03L702.49 58.06L704.45 57.07L706.41 56.08L708.37 55.07L710.34 54.06L712.31 53.05L714.29 52.03L716.27 51.03L718.25 50.03L720.23 49.05L722.21 48.08L724.20 47.14L726.20 46.23L728.19 45.35L730.19 44.49L732.19 43.62L734.20 42.71L736.20 41.76L738.21 40.78L740.23 39.77L742.24 38.77L744.26 37.77L746.29 36.80L748.31 35.86L750.34 34.94L752.37 34.04L754.41 33.16L756.45 32.29L758.49 31.43L760.53 30.59" stroke-width="0.45" fill="none"/>
<path d="M563.60 121.38L567.40 121.38L565.50 124.99Z"/>
<path d="M565.35 120.79L569.15 120.79L567.25 124.40Z"/>
<path d="M567.10 120.19L570.90 120.19L569.00 123.80Z"/>
<path d="M568.86 119.57L572.66 119.57L570.76 123.18Z"/>
<path d="M570.62 118.95L574.42 118.95L572.52 122.56Z"/>
<path d="M572.38 118.32L576.18 118.32L574.28 121.93Z"/>
<path d="M574.14 117.68L577.94 117.68L576.04 121.29Z"/>
<path d="M575.91 117.02L579.71 117.02L577.81 120.63Z"/>
<path d="M577.68 116.36L581.48 116.36L579.58 119.97Z"/>
<path d="M579.45 115.69L583.25 115.69L581.35 119.30Z"/>
<path d="M581.22 115.01L585.02 115.01L583.12 118.62Z"/>
<path d="M583.00 114.32L586.80 114.32L584.90 117.93Z"/>
<path d="M584.78 113.62L588.58 113.62L586.68 117.23Z"/>
<path d="M586.56 112.92L590.36 112.92L588.46 116.53Z"/>
<path d="M588.34 112.20L592.14 112.20L590.24 115.81Z"/>
<path d="M590.13 111.46L593.93 111.46L592.03 115.07Z"/>
<path d="M591.92 110.71L595.72 110.71L593.82 114.32Z"/>
<path d="M593.72 109.94L597.52 109.94L595.62 113.55Z"/>
<path d="M595.51 109.16L599.31 109.16L597.41 112.77Z"/>
<path d="M597.31 108.36L601.11 108.36L599.21 111.97Z"/>
<path d="M599.11 107.56L602.91 107.56L601.01 111.17Z"/>
<path d="M600.92 106.75L604.72 106.75L602.82 110.36Z"/>
<path d="M602.72 105.93L606.52 105.93L604.62 109.54Z"/>
<path d="M604.53 105.12L608.33 105.12L606.43 108.73Z"/>
<path d="M606.35 104.30L610.15 104.30L608.25 107.91Z"/>
<path d="M608.16 103.48L611.96 103.48L610.06 107.09Z"/>
<path d="M609.98 102.67L613.78 102.67L611.88 106.28Z"/>
<path d="M611.80 101.87L615.60 101.87L613.70 105.48Z"/>
<path d="M613.62 101.07L617.42 101.07L615.52 104.68Z"/>
<path d="M615.45 100.29L619.25 100.29L617.35 103.90Z"/>
<path d="M617.28 99.52L621.08 99.52L619.18 103.13Z"/>
<path d="M619.11 98.75L622.91 98.75L621.01 102.36Z"/>
<path d="M620.95 97.98L624.75 97.98L622.85 101.59Z"/>
<path d="M622.78 97.19L626.58 97.19L624.68 100.80Z"/>
<path d="M624.62 96.39L628.42 96.39L626.52 100.00Z"/>
<path d="M626.47 95.57L630.27 95.57L628.37 99.18Z"/>
<path d="M628.31 94.72L632.11 94.72L630.21 98.33Z"/>
<path d="M630.16 93.84L633.96 93.84L632.06 97.45Z"/>
<path d="M632.01 92.92L635.81 92.92L633.91 96.53Z"/>
<path d="M633.87 91.95L637.67 91.95L635.77 95.56Z"/>
<path d="M635.72 90.94L639.52 90.94L637.62 94.55Z"/>
<path d="M637.58 89.90L641.38 89.90L639.48 93.51Z"/>
<path d="M639.45 88.84L643.25 88.84L641.35 92.45Z"/>
<path d="M641.31 87.77L645.11 87.77L643.21 91.38Z"/>
<path d="M643.18 86.68L646.98 86.68L645.08 90.29Z"/>
<path d="M645.05 85.56L648.85 85.56L646.95 89.17Z"/>
<path d="M646.93 84.42L650.73 84.42L648.83 88.03Z"/>
<path d="M648.81 83.27L652.61 83.27L650.71 86.88Z"/>
<path d="M650.69 82.15L654.49 82.15L652.59 85.76Z"/>
<path d="M652.57 81.05L656.37 81.05L654.47 84.66Z"/>
<path d="M654.45 79.97L658.25 79.97L656.35 83.58Z"/>
<path d="M656.34 78.88L660.14 78.88L658.24 82.49Z"/>
<path d="M658.23 77.82L662.03 77.82L660.13 81.43Z"/>
<path d="M660.13 76.78L663.93 76.78L662.03 80.39Z"/>
<path d="M662.03 75.78L665.83 75.78L663.93 79.39Z"/>
<path d="M663.93 74.82L667.73 74.82L665.83 78.43Z"/>
<path d="M665.83 73.92L669.63 73.92L667.73 77.53Z"/>
<path d="M667.74 73.04L671.54 73.04L669.64 76.65Z"/>
<path d="M669.64 72.16L673.44 72.16L671.54 75.77Z"/>
<path d="M671.56 71.25L675.36 71.25L673.46 74.86Z"/>
<path d="M673.47 70.28L677.27 70.28L675.37 73.89Z"/>
<path d="M675.39 69.27L679.19 69.27L677.29 72.88Z"/>
<path d="M677.31 68.25L681.11 68.25L679.21 71.86Z"/>
<path d="M679.23 67.23L683.03 67.23L681.13 70.84Z"/>
<path d="M681.16 66.24L684.96 66.24L683.06 69.85Z"/>
<path d="M683.09 65.25L686.89 65.25L684.99 68.86Z"/>
<path d="M685.02 64.28L688.82 64.28L686.92 67.89Z"/>
<path d="M686.96 63.31L690.76 63.31L688.86 66.92Z"/>
<path d="M688.90 62.34L692.70 62.34L690.80 65.95Z"/>
<path d="M690.84 61.38L694.64 61.38L692.74 64.99Z"/>
<path d="M692.78 60.41L696.58 60.41L694.68 64.02Z"/>
<path d="M694.73 59.45L698.53 59.45L696.63 63.06Z"/>
<path d="M696.68 58.48L700.48 58.48L698.58 62.09Z"/>
<path d="M698.63 57.51L702.43 57.51L700.53 61.12Z"/>
<path d="M700.59 56.54L704.39 56.54L702.49 60.15Z"/>
<path d="M702.55 55.55L706.35 55.55L704.45 59.16Z"/>
<path d="M704.51 54.56L708.31 54.56L706.41 58.17Z"/>
<path d="M706.47 53.55L710.27 53.55L708.37 57.16Z"/>
<path d="M708.44 52.54L712.24 52.54L710.34 56.15Z"/>
<path d="M710.41 51.53L714.21 51.53L712.31 55.14Z"/>
<path d="M712.39 50.51L716.19 50.51L714.29 54.12Z"/>
<path d="M714.37 49.51L718.17 49.51L716.27 53.12Z"/>
<path d="M716.35 48.51L720.15 48.51L718.25 52.12Z"/>
<path d="M718.33 47.53L722.13 47.53L720.23 51.14Z"/>
<path d="M720.31 46.56L724.11 46.56L722.21 50.17Z"/>
<path d="M722.30 45.62L726.10 45.62L724.20 49.23Z"/>
<path d="M724.30 44.71L728.10 44.71L726.20 48.32Z"/>
<path d="M726.29 43.83L730.09 43.83L728.19 47.44Z"/>
<path d="M728.29 42.97L732.09 42.97L730.19 46.58Z"/>
<path d="M730.29 42.10L734.09 42.10L732.19 45.71Z"/>
<path d="M732.30 41.19L736.10 41.19L734.20 44.80Z"/>
<path d="M734.30 40.24L738.10 40.24L736.20 43.85Z"/>
<path d="M736.31 39.26L740.11 39.26L738.21 42.87Z"/>
<path d="M738.33 38.25L742.13 38.25L740.23 41.86Z"/>
<path d="M740.34 37.25L744.14 37.25L742.24 40.86Z"/>
<path d="M742.36 36.25L746.16 36.25L744.26 39.86Z"/>
<path d="M744.39 35.28L748.19 35.28L746.29 38.89Z"/>
<path d="M746.41 34.34L750.21 34.34L748.31 37.95Z"/>
<path d="M748.44 33.42L752.24 33.42L750.34 37.03Z"/>
<path d="M750.47 32.52L754.27 32.52L752.37 36.13Z"/>
<path d="M752.51 31.64L756.31 31.64L754.41 35.25Z"/>
<path d="M754.55 30.77L758.35 30.77L756.45 34.38Z"/>
<path d="M756.59 29.91L760.39 29.91L758.49 33.52Z"/>
<path d="M758.63 29.07L762.43 29.07L760.53 32.68Z"/>
</g>
<g fill="#fff" fill-opacity="0.38" stroke="#22aae8" stroke-width="0.5">
<path d="M565.50 128.80L567.25 128.16L569.00 127.49L570.76 126.81L572.52 126.10L574.28 125.38L576.04 124.63L577.81 123.87L579.57 123.08L581.35 122.28L583.12 121.47L584.90 120.63L586.68 119.78L588.46 118.91L590.24 118.03L592.03 117.10L593.82 116.13L595.62 115.13L597.41 114.09L599.21 113.04L601.01 111.97L602.82 110.88L604.62 109.79L606.43 108.69L608.24 107.60L610.06 106.52L611.88 105.46L613.70 104.41L615.52 103.39L617.35 102.39L619.18 101.39L621.01 100.41L622.84 99.42L624.68 98.42L626.52 97.42L628.36 96.41L630.21 95.37L632.06 94.32L633.91 93.23L635.76 92.12L637.62 90.99L639.48 89.84L641.34 88.67L643.21 87.49L645.08 86.29L646.95 85.04L648.82 83.78L650.70 82.53L652.58 81.32L654.46 80.16L656.35 79.05L658.24 77.98L660.13 76.92L662.02 75.88L663.92 74.82L665.82 73.76L667.72 72.70L669.63 71.63L671.54 70.57L673.45 69.51L675.36 68.47L677.28 67.43L679.20 66.40L681.12 65.37L683.05 64.34L684.98 63.31L686.91 62.29L688.84 61.26L690.78 60.25L692.72 59.24L694.67 58.24L696.61 57.25L698.56 56.27L700.52 55.31L702.47 54.35L704.43 53.41L706.39 52.49L708.36 51.58L710.33 50.68L712.30 49.79L714.27 48.90L716.25 48.03L718.23 47.15L720.21 46.28L722.19 45.41L724.18 44.54L726.17 43.67L728.17 42.82L730.17 41.97L732.17 41.11L734.17 40.22L736.18 39.31L738.19 38.38L740.20 37.44L742.22 36.49L744.24 35.54L746.26 34.60L748.29 33.67L750.31 32.75L752.35 31.84L754.38 30.93L756.42 30.02L758.46 29.12L760.50 28.23L762.55 27.33" stroke-width="0.45" fill="none"/>
<path stroke-width="0.6" d="M563.50 126.81L567.50 130.80M563.50 130.80L567.50 126.81"/>
<path stroke-width="0.6" d="M565.25 126.16L569.25 130.15M565.25 130.15L569.25 126.16"/>
<path stroke-width="0.6" d="M567.01 125.50L571.00 129.49M567.01 129.49L571.00 125.50"/>
<path stroke-width="0.6" d="M568.76 124.81L572.75 128.80M568.76 128.80L572.75 124.81"/>
<path stroke-width="0.6" d="M570.52 124.11L574.51 128.10M570.52 128.10L574.51 124.11"/>
<path stroke-width="0.6" d="M572.28 123.38L576.27 127.37M572.28 127.37L576.27 123.38"/>
<path stroke-width="0.6" d="M574.05 122.64L578.04 126.63M574.05 126.63L578.04 122.64"/>
<path stroke-width="0.6" d="M575.81 121.87L579.80 125.86M575.81 125.86L579.80 121.87"/>
<path stroke-width="0.6" d="M577.58 121.09L581.57 125.08M577.58 125.08L581.57 121.09"/>
<path stroke-width="0.6" d="M579.35 120.29L583.34 124.28M579.35 124.28L583.34 120.29"/>
<path stroke-width="0.6" d="M581.13 119.47L585.12 123.46M581.13 123.46L585.12 119.47"/>
<path stroke-width="0.6" d="M582.90 118.64L586.89 122.63M582.90 122.63L586.89 118.64"/>
<path stroke-width="0.6" d="M584.68 117.79L588.67 121.78M584.68 121.78L588.67 117.79"/>
<path stroke-width="0.6" d="M586.46 116.92L590.45 120.91M586.46 120.91L590.45 116.92"/>
<path stroke-width="0.6" d="M588.25 116.03L592.24 120.02M588.25 120.02L592.24 116.03"/>
<path stroke-width="0.6" d="M590.04 115.10L594.03 119.09M590.04 119.09L594.03 115.10"/>
<path stroke-width="0.6" d="M591.83 114.13L595.82 118.12M591.83 118.12L595.82 114.13"/>
<path stroke-width="0.6" d="M593.62 113.13L597.61 117.12M593.62 117.12L597.61 113.13"/>
<path stroke-width="0.6" d="M595.42 112.10L599.41 116.09M595.42 116.09L599.41 112.10"/>
<path stroke-width="0.6" d="M597.21 111.04L601.20 115.03M597.21 115.03L601.20 111.04"/>
<path stroke-width="0.6" d="M599.02 109.97L603.01 113.96M599.02 113.96L603.01 109.97"/>
<path stroke-width="0.6" d="M600.82 108.88L604.81 112.87M600.82 112.87L604.81 108.88"/>
<path stroke-width="0.6" d="M602.63 107.79L606.62 111.78M602.63 111.78L606.62 107.79"/>
<path stroke-width="0.6" d="M604.44 106.70L608.43 110.69M604.44 110.69L608.43 106.70"/>
<path stroke-width="0.6" d="M606.25 105.61L610.24 109.60M606.25 109.60L610.24 105.61"/>
<path stroke-width="0.6" d="M608.06 104.53L612.05 108.52M608.06 108.52L612.05 104.53"/>
<path stroke-width="0.6" d="M609.88 103.46L613.87 107.45M609.88 107.45L613.87 103.46"/>
<path stroke-width="0.6" d="M611.70 102.42L615.69 106.41M611.70 106.41L615.69 102.42"/>
<path stroke-width="0.6" d="M613.53 101.40L617.52 105.39M613.53 105.39L617.52 101.40"/>
<path stroke-width="0.6" d="M615.35 100.39L619.34 104.38M615.35 104.38L619.34 100.39"/>
<path stroke-width="0.6" d="M617.18 99.40L621.17 103.39M617.18 103.39L621.17 99.40"/>
<path stroke-width="0.6" d="M619.01 98.41L623.00 102.40M619.01 102.40L623.00 98.41"/>
<path stroke-width="0.6" d="M620.85 97.42L624.84 101.41M620.85 101.41L624.84 97.42"/>
<path stroke-width="0.6" d="M622.69 96.43L626.68 100.42M622.69 100.42L626.68 96.43"/>
<path stroke-width="0.6" d="M624.53 95.43L628.52 99.42M624.53 99.42L628.52 95.43"/>
<path stroke-width="0.6" d="M626.37 94.41L630.36 98.40M626.37 98.40L630.36 94.41"/>
<path stroke-width="0.6" d="M628.21 93.38L632.20 97.37M628.21 97.37L632.20 93.38"/>
<path stroke-width="0.6" d="M630.06 92.32L634.05 96.31M630.06 96.31L634.05 92.32"/>
<path stroke-width="0.6" d="M631.91 91.24L635.90 95.23M631.91 95.23L635.90 91.24"/>
<path stroke-width="0.6" d="M633.77 90.13L637.76 94.12M633.77 94.12L637.76 90.13"/>
<path stroke-width="0.6" d="M635.63 88.99L639.62 92.98M635.63 92.98L639.62 88.99"/>
<path stroke-width="0.6" d="M637.49 87.84L641.48 91.83M637.49 91.83L641.48 87.84"/>
<path stroke-width="0.6" d="M639.35 86.68L643.34 90.67M639.35 90.67L643.34 86.68"/>
<path stroke-width="0.6" d="M641.21 85.50L645.20 89.49M641.21 89.49L645.20 85.50"/>
<path stroke-width="0.6" d="M643.08 84.29L647.07 88.28M643.08 88.28L647.07 84.29"/>
<path stroke-width="0.6" d="M644.95 83.05L648.94 87.04M644.95 87.04L648.94 83.05"/>
<path stroke-width="0.6" d="M646.83 81.79L650.82 85.78M646.83 85.78L650.82 81.79"/>
<path stroke-width="0.6" d="M648.70 80.54L652.69 84.53M648.70 84.53L652.69 80.54"/>
<path stroke-width="0.6" d="M650.58 79.32L654.57 83.31M650.58 83.31L654.57 79.32"/>
<path stroke-width="0.6" d="M652.47 78.17L656.46 82.16M652.47 82.16L656.46 78.17"/>
<path stroke-width="0.6" d="M654.35 77.06L658.34 81.05M654.35 81.05L658.34 77.06"/>
<path stroke-width="0.6" d="M656.24 75.98L660.23 79.97M656.24 79.97L660.23 75.98"/>
<path stroke-width="0.6" d="M658.13 74.93L662.12 78.92M658.13 78.92L662.12 74.93"/>
<path stroke-width="0.6" d="M660.03 73.88L664.02 77.87M660.03 77.87L664.02 73.88"/>
<path stroke-width="0.6" d="M661.92 72.83L665.91 76.82M661.92 76.82L665.91 72.83"/>
<path stroke-width="0.6" d="M663.82 71.77L667.81 75.76M663.82 75.76L667.81 71.77"/>
<path stroke-width="0.6" d="M665.73 70.70L669.72 74.69M665.73 74.69L669.72 70.70"/>
<path stroke-width="0.6" d="M667.63 69.64L671.62 73.63M667.63 73.63L671.62 69.64"/>
<path stroke-width="0.6" d="M669.54 68.57L673.53 72.56M669.54 72.56L673.53 68.57"/>
<path stroke-width="0.6" d="M671.45 67.52L675.44 71.51M671.45 71.51L675.44 67.52"/>
<path stroke-width="0.6" d="M673.37 66.47L677.36 70.46M673.37 70.46L677.36 66.47"/>
<path stroke-width="0.6" d="M675.28 65.44L679.27 69.43M675.28 69.43L679.27 65.44"/>
<path stroke-width="0.6" d="M677.20 64.41L681.19 68.40M677.20 68.40L681.19 64.41"/>
<path stroke-width="0.6" d="M679.13 63.38L683.12 67.37M679.13 67.37L683.12 63.38"/>
<path stroke-width="0.6" d="M681.05 62.34L685.04 66.33M681.05 66.33L685.04 62.34"/>
<path stroke-width="0.6" d="M682.98 61.32L686.97 65.31M682.98 65.31L686.97 61.32"/>
<path stroke-width="0.6" d="M684.91 60.29L688.90 64.28M684.91 64.28L688.90 60.29"/>
<path stroke-width="0.6" d="M686.85 59.27L690.84 63.26M686.85 63.26L690.84 59.27"/>
<path stroke-width="0.6" d="M688.79 58.26L692.78 62.25M688.79 62.25L692.78 58.26"/>
<path stroke-width="0.6" d="M690.73 57.25L694.72 61.24M690.73 61.24L694.72 57.25"/>
<path stroke-width="0.6" d="M692.67 56.25L696.66 60.24M692.67 60.24L696.66 56.25"/>
<path stroke-width="0.6" d="M694.62 55.26L698.61 59.25M694.62 59.25L698.61 55.26"/>
<path stroke-width="0.6" d="M696.57 54.28L700.56 58.27M696.57 58.27L700.56 54.28"/>
<path stroke-width="0.6" d="M698.52 53.31L702.51 57.30M698.52 57.30L702.51 53.31"/>
<path stroke-width="0.6" d="M700.48 52.36L704.47 56.35M700.48 56.35L704.47 52.36"/>
<path stroke-width="0.6" d="M702.44 51.42L706.43 55.41M702.44 55.41L706.43 51.42"/>
<path stroke-width="0.6" d="M704.40 50.49L708.39 54.48M704.40 54.48L708.39 50.49"/>
<path stroke-width="0.6" d="M706.36 49.58L710.35 53.57M706.36 53.57L710.35 49.58"/>
<path stroke-width="0.6" d="M708.33 48.68L712.32 52.67M708.33 52.67L712.32 48.68"/>
<path stroke-width="0.6" d="M710.30 47.79L714.29 51.78M710.30 51.78L714.29 47.79"/>
<path stroke-width="0.6" d="M712.27 46.91L716.26 50.90M712.27 50.90L716.26 46.91"/>
<path stroke-width="0.6" d="M714.25 46.03L718.24 50.02M714.25 50.02L718.24 46.03"/>
<path stroke-width="0.6" d="M716.23 45.16L720.22 49.15M716.23 49.15L720.22 45.16"/>
<path stroke-width="0.6" d="M718.21 44.29L722.20 48.28M718.21 48.28L722.20 44.29"/>
<path stroke-width="0.6" d="M720.20 43.42L724.19 47.41M720.20 47.41L724.19 43.42"/>
<path stroke-width="0.6" d="M722.19 42.54L726.18 46.53M722.19 46.53L726.18 42.54"/>
<path stroke-width="0.6" d="M724.18 41.68L728.17 45.67M724.18 45.67L728.17 41.68"/>
<path stroke-width="0.6" d="M726.17 40.82L730.16 44.81M726.17 44.81L730.16 40.82"/>
<path stroke-width="0.6" d="M728.17 39.97L732.16 43.96M728.17 43.96L732.16 39.97"/>
<path stroke-width="0.6" d="M730.17 39.11L734.16 43.10M730.17 43.10L734.16 39.11"/>
<path stroke-width="0.6" d="M732.18 38.23L736.17 42.22M732.18 42.22L736.17 38.23"/>
<path stroke-width="0.6" d="M734.18 37.32L738.17 41.31M734.18 41.31L738.17 37.32"/>
<path stroke-width="0.6" d="M736.19 36.39L740.18 40.38M736.19 40.38L740.18 36.39"/>
<path stroke-width="0.6" d="M738.21 35.44L742.20 39.43M738.21 39.43L742.20 35.44"/>
<path stroke-width="0.6" d="M740.22 34.49L744.21 38.48M740.22 38.48L744.21 34.49"/>
<path stroke-width="0.6" d="M742.24 33.54L746.23 37.53M742.24 37.53L746.23 33.54"/>
<path stroke-width="0.6" d="M744.27 32.60L748.26 36.59M744.27 36.59L748.26 32.60"/>
<path stroke-width="0.6" d="M746.29 31.68L750.28 35.67M746.29 35.67L750.28 31.68"/>
<path stroke-width="0.6" d="M748.32 30.76L752.31 34.75M748.32 34.75L752.31 30.76"/>
<path stroke-width="0.6" d="M750.35 29.84L754.34 33.83M750.35 33.83L754.34 29.84"/>
<path stroke-width="0.6" d="M752.39 28.93L756.38 32.92M752.39 32.92L756.38 28.93"/>
<path stroke-width="0.6" d="M754.42 28.03L758.41 32.02M754.42 32.02L758.41 28.03"/>
<path stroke-width="0.6" d="M756.46 27.13L760.45 31.12M756.46 31.12L760.45 27.13"/>
<path stroke-width="0.6" d="M758.51 26.23L762.50 30.22M758.51 30.22L762.50 26.23"/>
<path stroke-width="0.6" d="M760.55 25.34L764.54 29.33M760.55 29.33L764.54 25.34"/>
</g>
<g fill="#fff" fill-opacity="0.38" stroke="#2f9540" stroke-width="0.5">
<path d="M565.50 132.10L567.25 131.36L569.00 130.60L570.76 129.82L572.52 129.01L574.28 128.18L576.04 127.33L577.81 126.45L579.57 125.56L581.35 124.64L583.12 123.70L584.90 122.74L586.68 121.77L588.46 120.77L590.24 119.76L592.03 118.70L593.82 117.61L595.61 116.48L597.41 115.32L599.21 114.13L601.01 112.92L602.81 111.69L604.62 110.44L606.43 109.19L608.24 107.92L610.06 106.66L611.88 105.40L613.70 104.14L615.52 102.88L617.35 101.59L619.17 100.30L621.01 99.00L622.84 97.71L624.68 96.41L626.52 95.11L628.36 93.82L630.21 92.53L632.05 91.27L633.91 90.03L635.76 88.81L637.62 87.60L639.48 86.41L641.34 85.21L643.20 84.00L645.07 82.76L646.94 81.50L648.82 80.25L650.69 79.01L652.57 77.81L654.46 76.67L656.34 75.61L658.23 74.59L660.12 73.59L662.02 72.58L663.91 71.54L665.81 70.42L667.71 69.26L669.62 68.07L671.53 66.89L673.44 65.73L675.35 64.57L677.27 63.39L679.19 62.22L681.11 61.04L683.04 59.88L684.97 58.73L686.90 57.61L688.84 56.51L690.77 55.46L692.71 54.44L694.66 53.46L696.60 52.51L698.55 51.58L700.51 50.67L702.46 49.77L704.42 48.90L706.38 48.04L708.34 47.20L710.31 46.37L712.28 45.56L714.26 44.76L716.23 43.98L718.21 43.24L720.19 42.51L722.18 41.81L724.17 41.11L726.16 40.41L728.15 39.70L730.15 38.97L732.15 38.22L734.15 37.44L736.16 36.62L738.17 35.76L740.18 34.88L742.20 33.99L744.22 33.10L746.24 32.23L748.26 31.39L750.29 30.57L752.32 29.76L754.36 28.96L756.40 28.17L758.44 27.39L760.48 26.62L762.53 25.86" stroke-width="0.45" fill="none"/>
<rect x="563.60" y="130.20" width="3.80" height="3.80"/>
<rect x="565.35" y="129.46" width="3.80" height="3.80"/>
<rect x="567.10" y="128.70" width="3.80" height="3.80"/>
<rect x="568.86" y="127.92" width="3.80" height="3.80"/>
<rect x="570.62" y="127.11" width="3.80" height="3.80"/>
<rect x="572.38" y="126.28" width="3.80" height="3.80"/>
<rect x="574.14" y="125.43" width="3.80" height="3.80"/>
<rect x="575.91" y="124.55" width="3.80" height="3.80"/>
<rect x="577.67" y="123.66" width="3.80" height="3.80"/>
<rect x="579.45" y="122.74" width="3.80" height="3.80"/>
<rect x="581.22" y="121.80" width="3.80" height="3.80"/>
<rect x="583.00" y="120.84" width="3.80" height="3.80"/>
<rect x="584.78" y="119.87" width="3.80" height="3.80"/>
<rect x="586.56" y="118.87" width="3.80" height="3.80"/>
<rect x="588.34" y="117.86" width="3.80" height="3.80"/>
<rect x="590.13" y="116.80" width="3.80" height="3.80"/>
<rect x="591.92" y="115.71" width="3.80" height="3.80"/>
<rect x="593.71" y="114.58" width="3.80" height="3.80"/>
<rect x="595.51" y="113.42" width="3.80" height="3.80"/>
<rect x="597.31" y="112.23" width="3.80" height="3.80"/>
<rect x="599.11" y="111.02" width="3.80" height="3.80"/>
<rect x="600.91" y="109.79" width="3.80" height="3.80"/>
<rect x="602.72" y="108.54" width="3.80" height="3.80"/>
<rect x="604.53" y="107.29" width="3.80" height="3.80"/>
<rect x="606.34" y="106.02" width="3.80" height="3.80"/>
<rect x="608.16" y="104.76" width="3.80" height="3.80"/>
<rect x="609.98" y="103.50" width="3.80" height="3.80"/>
<rect x="611.80" y="102.24" width="3.80" height="3.80"/>
<rect x="613.62" y="100.98" width="3.80" height="3.80"/>
<rect x="615.45" y="99.69" width="3.80" height="3.80"/>
<rect x="617.27" y="98.40" width="3.80" height="3.80"/>
<rect x="619.11" y="97.10" width="3.80" height="3.80"/>
<rect x="620.94" y="95.81" width="3.80" height="3.80"/>
<rect x="622.78" y="94.51" width="3.80" height="3.80"/>
<rect x="624.62" y="93.21" width="3.80" height="3.80"/>
<rect x="626.46" y="91.92" width="3.80" height="3.80"/>
<rect x="628.31" y="90.63" width="3.80" height="3.80"/>
<rect x="630.15" y="89.37" width="3.80" height="3.80"/>
<rect x="632.01" y="88.13" width="3.80" height="3.80"/>
<rect x="633.86" y="86.91" width="3.80" height="3.80"/>
<rect x="635.72" y="85.70" width="3.80" height="3.80"/>
<rect x="637.58" y="84.51" width="3.80" height="3.80"/>
<rect x="639.44" y="83.31" width="3.80" height="3.80"/>
<rect x="641.30" y="82.10" width="3.80" height="3.80"/>
<rect x="643.17" y="80.86" width="3.80" height="3.80"/>
<rect x="645.04" y="79.60" width="3.80" height="3.80"/>
<rect x="646.92" y="78.35" width="3.80" height="3.80"/>
<rect x="648.79" y="77.11" width="3.80" height="3.80"/>
<rect x="650.67" y="75.91" width="3.80" height="3.80"/>
<rect x="652.56" y="74.77" width="3.80" height="3.80"/>
<rect x="654.44" y="73.71" width="3.80" height="3.80"/>
<rect x="656.33" y="72.69" width="3.80" height="3.80"/>
<rect x="658.22" y="71.69" width="3.80" height="3.80"/>
<rect x="660.12" y="70.68" width="3.80" height="3.80"/>
<rect x="662.01" y="69.64" width="3.80" height="3.80"/>
<rect x="663.91" y="68.52" width="3.80" height="3.80"/>
<rect x="665.81" y="67.36" width="3.80" height="3.80"/>
<rect x="667.72" y="66.17" width="3.80" height="3.80"/>
<rect x="669.63" y="64.99" width="3.80" height="3.80"/>
<rect x="671.54" y="63.83" width="3.80" height="3.80"/>
<rect x="673.45" y="62.67" width="3.80" height="3.80"/>
<rect x="675.37" y="61.49" width="3.80" height="3.80"/>
<rect x="677.29" y="60.32" width="3.80" height="3.80"/>
<rect x="679.21" y="59.14" width="3.80" height="3.80"/>
<rect x="681.14" y="57.98" width="3.80" height="3.80"/>
<rect x="683.07" y="56.83" width="3.80" height="3.80"/>
<rect x="685.00" y="55.71" width="3.80" height="3.80"/>
<rect x="686.94" y="54.61" width="3.80" height="3.80"/>
<rect x="688.87" y="53.56" width="3.80" height="3.80"/>
<rect x="690.81" y="52.54" width="3.80" height="3.80"/>
<rect x="692.76" y="51.56" width="3.80" height="3.80"/>
<rect x="694.70" y="50.61" width="3.80" height="3.80"/>
<rect x="696.65" y="49.68" width="3.80" height="3.80"/>
<rect x="698.61" y="48.77" width="3.80" height="3.80"/>
<rect x="700.56" y="47.87" width="3.80" height="3.80"/>
<rect x="702.52" y="47.00" width="3.80" height="3.80"/>
<rect x="704.48" y="46.14" width="3.80" height="3.80"/>
<rect x="706.44" y="45.30" width="3.80" height="3.80"/>
<rect x="708.41" y="44.47" width="3.80" height="3.80"/>
<rect x="710.38" y="43.66" width="3.80" height="3.80"/>
<rect x="712.36" y="42.86" width="3.80" height="3.80"/>
<rect x="714.33" y="42.08" width="3.80" height="3.80"/>
<rect x="716.31" y="41.34" width="3.80" height="3.80"/>
<rect x="718.29" y="40.61" width="3.80" height="3.80"/>
<rect x="720.28" y="39.91" width="3.80" height="3.80"/>
<rect x="722.27" y="39.21" width="3.80" height="3.80"/>
<rect x="724.26" y="38.51" width="3.80" height="3.80"/>
<rect x="726.25" y="37.80" width="3.80" height="3.80"/>
<rect x="728.25" y="37.07" width="3.80" height="3.80"/>
<rect x="730.25" y="36.32" width="3.80" height="3.80"/>
<rect x="732.25" y="35.54" width="3.80" height="3.80"/>
<rect x="734.26" y="34.72" width="3.80" height="3.80"/>
<rect x="736.27" y="33.86" width="3.80" height="3.80"/>
<rect x="738.28" y="32.98" width="3.80" height="3.80"/>
<rect x="740.30" y="32.09" width="3.80" height="3.80"/>
<rect x="742.32" y="31.20" width="3.80" height="3.80"/>
<rect x="744.34" y="30.33" width="3.80" height="3.80"/>
<rect x="746.36" y="29.49" width="3.80" height="3.80"/>
<rect x="748.39" y="28.67" width="3.80" height="3.80"/>
<rect x="750.42" y="27.86" width="3.80" height="3.80"/>
<rect x="752.46" y="27.06" width="3.80" height="3.80"/>
<rect x="754.50" y="26.27" width="3.80" height="3.80"/>
<rect x="756.54" y="25.49" width="3.80" height="3.80"/>
<rect x="758.58" y="24.72" width="3.80" height="3.80"/>
<rect x="760.63" y="23.96" width="3.80" height="3.80"/>
</g>
<g fill="#fff" fill-opacity="0.38" stroke="#ee6c1c" stroke-width="0.5">
<path d="M565.50 134.50L567.25 133.80L569.00 133.06L570.76 132.29L572.52 131.48L574.28 130.64L576.04 129.76L577.81 128.86L579.57 127.92L581.35 126.95L583.12 125.95L584.90 124.93L586.68 123.89L588.46 122.81L590.24 121.72L592.03 120.58L593.82 119.41L595.61 118.19L597.41 116.94L599.21 115.64L601.01 114.30L602.81 112.91L604.62 111.49L606.43 110.02L608.24 108.50L610.06 106.94L611.88 105.34L613.70 103.69L615.52 101.84L617.35 99.80L619.17 97.95L621.01 96.30L622.84 94.72L624.68 93.20L626.52 91.74L628.36 90.32L630.21 88.95L632.05 87.59L633.91 86.27L635.76 85.00L637.62 83.76L639.48 82.56L641.34 81.37L643.20 80.20L645.07 79.03L646.94 77.89L648.82 76.76L650.69 75.66L652.57 74.56L654.46 73.48L656.34 72.42L658.23 71.36L660.12 70.33L662.02 69.31L663.91 68.31L665.81 67.33L667.71 66.40L669.62 65.48L671.53 64.56L673.44 63.59L675.35 62.57L677.27 61.51L679.19 60.42L681.11 59.31L683.04 58.19L684.97 57.02L686.90 55.82L688.84 54.63L690.77 53.49L692.71 52.44L694.66 51.45L696.60 50.49L698.55 49.56L700.51 48.66L702.46 47.78L704.42 46.92L706.38 46.08L708.34 45.25L710.31 44.44L712.28 43.65L714.26 42.86L716.23 42.10L718.21 41.37L720.19 40.67L722.18 39.98L724.17 39.30L726.16 38.62L728.15 37.93L730.15 37.23L732.15 36.50L734.15 35.74L736.16 34.94L738.17 34.11L740.18 33.26L742.20 32.39L744.22 31.54L746.24 30.70L748.26 29.90L750.29 29.11L752.32 28.34L754.36 27.58L756.40 26.83L758.44 26.10L760.48 25.37L762.53 24.66" stroke-width="0.45" fill="none"/>
<path d="M563.60 136.02L567.40 136.02L565.50 132.41Z"/>
<path d="M565.35 135.32L569.15 135.32L567.25 131.71Z"/>
<path d="M567.10 134.58L570.90 134.58L569.00 130.97Z"/>
<path d="M568.86 133.81L572.66 133.81L570.76 130.20Z"/>
<path d="M570.62 133.00L574.42 133.00L572.52 129.39Z"/>
<path d="M572.38 132.16L576.18 132.16L574.28 128.55Z"/>
<path d="M574.14 131.28L577.94 131.28L576.04 127.67Z"/>
<path d="M575.91 130.38L579.71 130.38L577.81 126.77Z"/>
<path d="M577.67 129.44L581.47 129.44L579.57 125.83Z"/>
<path d="M579.45 128.47L583.25 128.47L581.35 124.86Z"/>
<path d="M581.22 127.47L585.02 127.47L583.12 123.86Z"/>
<path d="M583.00 126.45L586.80 126.45L584.90 122.84Z"/>
<path d="M584.78 125.41L588.58 125.41L586.68 121.80Z"/>
<path d="M586.56 124.33L590.36 124.33L588.46 120.72Z"/>
<path d="M588.34 123.24L592.14 123.24L590.24 119.63Z"/>
<path d="M590.13 122.10L593.93 122.10L592.03 118.49Z"/>
<path d="M591.92 120.93L595.72 120.93L593.82 117.32Z"/>
<path d="M593.71 119.71L597.51 119.71L595.61 116.10Z"/>
<path d="M595.51 118.46L599.31 118.46L597.41 114.85Z"/>
<path d="M597.31 117.16L601.11 117.16L599.21 113.55Z"/>
<path d="M599.11 115.82L602.91 115.82L601.01 112.21Z"/>
<path d="M600.91 114.43L604.71 114.43L602.81 110.82Z"/>
<path d="M602.72 113.01L606.52 113.01L604.62 109.40Z"/>
<path d="M604.53 111.54L608.33 111.54L606.43 107.93Z"/>
<path d="M606.34 110.02L610.14 110.02L608.24 106.41Z"/>
<path d="M608.16 108.46L611.96 108.46L610.06 104.85Z"/>
<path d="M609.98 106.86L613.78 106.86L611.88 103.25Z"/>
<path d="M611.80 105.21L615.60 105.21L613.70 101.60Z"/>
<path d="M613.62 103.36L617.42 103.36L615.52 99.75Z"/>
<path d="M615.45 101.32L619.25 101.32L617.35 97.71Z"/>
<path d="M617.27 99.47L621.07 99.47L619.17 95.86Z"/>
<path d="M619.11 97.82L622.91 97.82L621.01 94.21Z"/>
<path d="M620.94 96.24L624.74 96.24L622.84 92.63Z"/>
<path d="M622.78 94.72L626.58 94.72L624.68 91.11Z"/>
<path d="M624.62 93.26L628.42 93.26L626.52 89.65Z"/>
<path d="M626.46 91.84L630.26 91.84L628.36 88.23Z"/>
<path d="M628.31 90.47L632.11 90.47L630.21 86.86Z"/>
<path d="M630.15 89.11L633.95 89.11L632.05 85.50Z"/>
<path d="M632.01 87.79L635.81 87.79L633.91 84.18Z"/>
<path d="M633.86 86.52L637.66 86.52L635.76 82.91Z"/>
<path d="M635.72 85.28L639.52 85.28L637.62 81.67Z"/>
<path d="M637.58 84.08L641.38 84.08L639.48 80.47Z"/>
<path d="M639.44 82.89L643.24 82.89L641.34 79.28Z"/>
<path d="M641.30 81.72L645.10 81.72L643.20 78.11Z"/>
<path d="M643.17 80.55L646.97 80.55L645.07 76.94Z"/>
<path d="M645.04 79.41L648.84 79.41L646.94 75.80Z"/>
<path d="M646.92 78.28L650.72 78.28L648.82 74.67Z"/>
<path d="M648.79 77.18L652.59 77.18L650.69 73.57Z"/>
<path d="M650.67 76.08L654.47 76.08L652.57 72.47Z"/>
<path d="M652.56 75.00L656.36 75.00L654.46 71.39Z"/>
<path d="M654.44 73.94L658.24 73.94L656.34 70.33Z"/>
<path d="M656.33 72.88L660.13 72.88L658.23 69.27Z"/>
<path d="M658.22 71.85L662.02 71.85L660.12 68.24Z"/>
<path d="M660.12 70.83L663.92 70.83L662.02 67.22Z"/>
<path d="M662.01 69.83L665.81 69.83L663.91 66.22Z"/>
<path d="M663.91 68.85L667.71 68.85L665.81 65.24Z"/>
<path d="M665.81 67.92L669.61 67.92L667.71 64.31Z"/>
<path d="M667.72 67.00L671.52 67.00L669.62 63.39Z"/>
<path d="M669.63 66.08L673.43 66.08L671.53 62.47Z"/>
<path d="M671.54 65.11L675.34 65.11L673.44 61.50Z"/>
<path d="M673.45 64.09L677.25 64.09L675.35 60.48Z"/>
<path d="M675.37 63.03L679.17 63.03L677.27 59.42Z"/>
<path d="M677.29 61.94L681.09 61.94L679.19 58.33Z"/>
<path d="M679.21 60.83L683.01 60.83L681.11 57.22Z"/>
<path d="M681.14 59.71L684.94 59.71L683.04 56.10Z"/>
<path d="M683.07 58.54L686.87 58.54L684.97 54.93Z"/>
<path d="M685.00 57.34L688.80 57.34L686.90 53.73Z"/>
<path d="M686.94 56.15L690.74 56.15L688.84 52.54Z"/>
<path d="M688.87 55.01L692.67 55.01L690.77 51.40Z"/>
<path d="M690.81 53.96L694.61 53.96L692.71 50.35Z"/>
<path d="M692.76 52.97L696.56 52.97L694.66 49.36Z"/>
<path d="M694.70 52.01L698.50 52.01L696.60 48.40Z"/>
<path d="M696.65 51.08L700.45 51.08L698.55 47.47Z"/>
<path d="M698.61 50.18L702.41 50.18L700.51 46.57Z"/>
<path d="M700.56 49.30L704.36 49.30L702.46 45.69Z"/>
<path d="M702.52 48.44L706.32 48.44L704.42 44.83Z"/>
<path d="M704.48 47.60L708.28 47.60L706.38 43.99Z"/>
<path d="M706.44 46.77L710.24 46.77L708.34 43.16Z"/>
<path d="M708.41 45.96L712.21 45.96L710.31 42.35Z"/>
<path d="M710.38 45.17L714.18 45.17L712.28 41.56Z"/>
<path d="M712.36 44.38L716.16 44.38L714.26 40.77Z"/>
<path d="M714.33 43.62L718.13 43.62L716.23 40.01Z"/>
<path d="M716.31 42.89L720.11 42.89L718.21 39.28Z"/>
<path d="M718.29 42.19L722.09 42.19L720.19 38.58Z"/>
<path d="M720.28 41.50L724.08 41.50L722.18 37.89Z"/>
<path d="M722.27 40.82L726.07 40.82L724.17 37.21Z"/>
<path d="M724.26 40.14L728.06 40.14L726.16 36.53Z"/>
<path d="M726.25 39.45L730.05 39.45L728.15 35.84Z"/>
<path d="M728.25 38.75L732.05 38.75L730.15 35.14Z"/>
<path d="M730.25 38.02L734.05 38.02L732.15 34.41Z"/>
<path d="M732.25 37.26L736.05 37.26L734.15 33.65Z"/>
<path d="M734.26 36.46L738.06 36.46L736.16 32.85Z"/>
<path d="M736.27 35.63L740.07 35.63L738.17 32.02Z"/>
<path d="M738.28 34.78L742.08 34.78L740.18 31.17Z"/>
<path d="M740.30 33.91L744.10 33.91L742.20 30.30Z"/>
<path d="M742.32 33.06L746.12 33.06L744.22 29.45Z"/>
<path d="M744.34 32.22L748.14 32.22L746.24 28.61Z"/>
<path d="M746.36 31.42L750.16 31.42L748.26 27.81Z"/>
<path d="M748.39 30.63L752.19 30.63L750.29 27.02Z"/>
<path d="M750.42 29.86L754.22 29.86L752.32 26.25Z"/>
<path d="M752.46 29.10L756.26 29.10L754.36 25.49Z"/>
<path d="M754.50 28.35L758.30 28.35L756.40 24.74Z"/>
<path d="M756.54 27.62L760.34 27.62L758.44 24.01Z"/>
<path d="M758.58 26.89L762.38 26.89L760.48 23.28Z"/>
<path d="M760.63 26.18L764.43 26.18L762.53 22.57Z"/>
</g>
<g fill="#fff" fill-opacity="0.38" stroke="#e52f36" stroke-width="0.5">
<path d="M565.50 147.80L567.25 146.86L569.00 145.87L570.76 144.84L572.52 143.77L574.28 142.67L576.04 141.53L577.81 140.36L579.57 139.16L581.35 137.91L583.12 136.61L584.90 135.27L586.68 133.87L588.46 132.41L590.24 130.89L592.03 129.31L593.82 127.67L595.61 125.96L597.41 124.18L599.21 122.33L601.01 120.39L602.81 118.36L604.62 116.23L606.43 113.85L608.24 111.28L610.06 108.62L611.88 105.95L613.70 103.38L615.52 100.88L617.35 98.39L619.17 96.01L621.01 93.82L622.84 91.78L624.68 89.94L626.52 88.27L628.36 86.71L630.21 85.24L632.05 83.82L633.91 82.41L635.76 81.04L637.62 79.71L639.48 78.42L641.34 77.18L643.20 76.00L645.07 74.87L646.94 73.80L648.82 72.77L650.69 71.76L652.57 70.78L654.46 69.82L656.34 68.88L658.23 67.98L660.12 67.09L662.02 66.19L663.91 65.29L665.81 64.36L667.71 63.42L669.62 62.46L671.53 61.50L673.44 60.51L675.35 59.49L677.27 58.43L679.19 57.35L681.11 56.27L683.04 55.18L684.97 54.11L686.90 53.06L688.84 52.04L690.77 51.07L692.71 50.15L694.66 49.27L696.60 48.43L698.55 47.60L700.51 46.80L702.46 46.02L704.42 45.26L706.38 44.50L708.34 43.76L710.31 43.03L712.28 42.30L714.26 41.57L716.23 40.86L718.21 40.17L720.19 39.50L722.18 38.84L724.17 38.18L726.16 37.53L728.15 36.86L730.15 36.18L732.15 35.47L734.15 34.74L736.16 33.98L738.17 33.18L740.18 32.36L742.20 31.53L744.22 30.70L746.24 29.89L748.26 29.10L750.29 28.33L752.32 27.56L754.36 26.81L756.40 26.06L758.44 25.32L760.48 24.58L762.53 23.86" stroke-width="0.45" fill="none"/>
<circle cx="565.50" cy="147.80" r="1.90"/>
<circle cx="567.25" cy="146.86" r="1.90"/>
<circle cx="569.00" cy="145.87" r="1.90"/>
<circle cx="570.76" cy="144.84" r="1.90"/>
<circle cx="572.52" cy="143.77" r="1.90"/>
<circle cx="574.28" cy="142.67" r="1.90"/>
<circle cx="576.04" cy="141.53" r="1.90"/>
<circle cx="577.81" cy="140.36" r="1.90"/>
<circle cx="579.57" cy="139.16" r="1.90"/>
<circle cx="581.35" cy="137.91" r="1.90"/>
<circle cx="583.12" cy="136.61" r="1.90"/>
<circle cx="584.90" cy="135.27" r="1.90"/>
<circle cx="586.68" cy="133.87" r="1.90"/>
<circle cx="588.46" cy="132.41" r="1.90"/>
<circle cx="590.24" cy="130.89" r="1.90"/>
<circle cx="592.03" cy="129.31" r="1.90"/>
<circle cx="593.82" cy="127.67" r="1.90"/>
<circle cx="595.61" cy="125.96" r="1.90"/>
<circle cx="597.41" cy="124.18" r="1.90"/>
<circle cx="599.21" cy="122.33" r="1.90"/>
<circle cx="601.01" cy="120.39" r="1.90"/>
<circle cx="602.81" cy="118.36" r="1.90"/>
<circle cx="604.62" cy="116.23" r="1.90"/>
<circle cx="606.43" cy="113.85" r="1.90"/>
<circle cx="608.24" cy="111.28" r="1.90"/>
<circle cx="610.06" cy="108.62" r="1.90"/>
<circle cx="611.88" cy="105.95" r="1.90"/>
<circle cx="613.70" cy="103.38" r="1.90"/>
<circle cx="615.52" cy="100.88" r="1.90"/>
<circle cx="617.35" cy="98.39" r="1.90"/>
<circle cx="619.17" cy="96.01" r="1.90"/>
<circle cx="621.01" cy="93.82" r="1.90"/>
<circle cx="622.84" cy="91.78" r="1.90"/>
<circle cx="624.68" cy="89.94" r="1.90"/>
<circle cx="626.52" cy="88.27" r="1.90"/>
<circle cx="628.36" cy="86.71" r="1.90"/>
<circle cx="630.21" cy="85.24" r="1.90"/>
<circle cx="632.05" cy="83.82" r="1.90"/>
<circle cx="633.91" cy="82.41" r="1.90"/>
<circle cx="635.76" cy="81.04" r="1.90"/>
<circle cx="637.62" cy="79.71" r="1.90"/>
<circle cx="639.48" cy="78.42" r="1.90"/>
<circle cx="641.34" cy="77.18" r="1.90"/>
<circle cx="643.20" cy="76.00" r="1.90"/>
<circle cx="645.07" cy="74.87" r="1.90"/>
<circle cx="646.94" cy="73.80" r="1.90"/>
<circle cx="648.82" cy="72.77" r="1.90"/>
<circle cx="650.69" cy="71.76" r="1.90"/>
<circle cx="652.57" cy="70.78" r="1.90"/>
<circle cx="654.46" cy="69.82" r="1.90"/>
<circle cx="656.34" cy="68.88" r="1.90"/>
<circle cx="658.23" cy="67.98" r="1.90"/>
<circle cx="660.12" cy="67.09" r="1.90"/>
<circle cx="662.02" cy="66.19" r="1.90"/>
<circle cx="663.91" cy="65.29" r="1.90"/>
<circle cx="665.81" cy="64.36" r="1.90"/>
<circle cx="667.71" cy="63.42" r="1.90"/>
<circle cx="669.62" cy="62.46" r="1.90"/>
<circle cx="671.53" cy="61.50" r="1.90"/>
<circle cx="673.44" cy="60.51" r="1.90"/>
<circle cx="675.35" cy="59.49" r="1.90"/>
<circle cx="677.27" cy="58.43" r="1.90"/>
<circle cx="679.19" cy="57.35" r="1.90"/>
<circle cx="681.11" cy="56.27" r="1.90"/>
<circle cx="683.04" cy="55.18" r="1.90"/>
<circle cx="684.97" cy="54.11" r="1.90"/>
<circle cx="686.90" cy="53.06" r="1.90"/>
<circle cx="688.84" cy="52.04" r="1.90"/>
<circle cx="690.77" cy="51.07" r="1.90"/>
<circle cx="692.71" cy="50.15" r="1.90"/>
<circle cx="694.66" cy="49.27" r="1.90"/>
<circle cx="696.60" cy="48.43" r="1.90"/>
<circle cx="698.55" cy="47.60" r="1.90"/>
<circle cx="700.51" cy="46.80" r="1.90"/>
<circle cx="702.46" cy="46.02" r="1.90"/>
<circle cx="704.42" cy="45.26" r="1.90"/>
<circle cx="706.38" cy="44.50" r="1.90"/>
<circle cx="708.34" cy="43.76" r="1.90"/>
<circle cx="710.31" cy="43.03" r="1.90"/>
<circle cx="712.28" cy="42.30" r="1.90"/>
<circle cx="714.26" cy="41.57" r="1.90"/>
<circle cx="716.23" cy="40.86" r="1.90"/>
<circle cx="718.21" cy="40.17" r="1.90"/>
<circle cx="720.19" cy="39.50" r="1.90"/>
<circle cx="722.18" cy="38.84" r="1.90"/>
<circle cx="724.17" cy="38.18" r="1.90"/>
<circle cx="726.16" cy="37.53" r="1.90"/>
<circle cx="728.15" cy="36.86" r="1.90"/>
<circle cx="730.15" cy="36.18" r="1.90"/>
<circle cx="732.15" cy="35.47" r="1.90"/>
<circle cx="734.15" cy="34.74" r="1.90"/>
<circle cx="736.16" cy="33.98" r="1.90"/>
<circle cx="738.17" cy="33.18" r="1.90"/>
<circle cx="740.18" cy="32.36" r="1.90"/>
<circle cx="742.20" cy="31.53" r="1.90"/>
<circle cx="744.22" cy="30.70" r="1.90"/>
<circle cx="746.24" cy="29.89" r="1.90"/>
<circle cx="748.26" cy="29.10" r="1.90"/>
<circle cx="750.29" cy="28.33" r="1.90"/>
<circle cx="752.32" cy="27.56" r="1.90"/>
<circle cx="754.36" cy="26.81" r="1.90"/>
<circle cx="756.40" cy="26.06" r="1.90"/>
<circle cx="758.44" cy="25.32" r="1.90"/>
<circle cx="760.48" cy="24.58" r="1.90"/>
<circle cx="762.53" cy="23.86" r="1.90"/>
</g>
</g>
<rect x="565.5" y="1.5" width="215.0" height="167.0" fill="none" stroke="#5a5a5a" stroke-width="0.8"/>
<path d="M565.50 168.5v-4.3M565.50 1.5v4.3M572.50 168.5v-2.1M572.50 1.5v2.1M579.50 168.5v-2.1M579.50 1.5v2.1M587.50 168.5v-2.1M587.50 1.5v2.1M594.50 168.5v-2.1M594.50 1.5v2.1M601.50 168.5v-4.3M601.50 1.5v4.3M608.50 168.5v-2.1M608.50 1.5v2.1M615.50 168.5v-2.1M615.50 1.5v2.1M622.50 168.5v-2.1M622.50 1.5v2.1M630.50 168.5v-2.1M630.50 1.5v2.1M637.50 168.5v-4.3M637.50 1.5v4.3M644.50 168.5v-2.1M644.50 1.5v2.1M651.50 168.5v-2.1M651.50 1.5v2.1M658.50 168.5v-2.1M658.50 1.5v2.1M665.50 168.5v-2.1M665.50 1.5v2.1M673.50 168.5v-4.3M673.50 1.5v4.3M680.50 168.5v-2.1M680.50 1.5v2.1M687.50 168.5v-2.1M687.50 1.5v2.1M694.50 168.5v-2.1M694.50 1.5v2.1M701.50 168.5v-2.1M701.50 1.5v2.1M708.50 168.5v-4.3M708.50 1.5v4.3M716.50 168.5v-2.1M716.50 1.5v2.1M723.50 168.5v-2.1M723.50 1.5v2.1M730.50 168.5v-2.1M730.50 1.5v2.1M737.50 168.5v-2.1M737.50 1.5v2.1M744.50 168.5v-4.3M744.50 1.5v4.3M751.50 168.5v-2.1M751.50 1.5v2.1M759.50 168.5v-2.1M759.50 1.5v2.1M766.50 168.5v-2.1M766.50 1.5v2.1M773.50 168.5v-2.1M773.50 1.5v2.1M780.50 168.5v-4.3M780.50 1.5v4.3" stroke="#5a5a5a" stroke-width="0.85" fill="none"/>
<path d="M565.5 157.50h4.3M780.5 157.50h-4.3M565.5 128.50h4.3M780.5 128.50h-4.3M565.5 99.50h4.3M780.5 99.50h-4.3M565.5 71.50h4.3M780.5 71.50h-4.3M565.5 42.50h4.3M780.5 42.50h-4.3M565.5 13.50h4.3M780.5 13.50h-4.3M565.5 162.50h2.1M780.5 162.50h-2.1M565.5 151.50h2.1M780.5 151.50h-2.1M565.5 145.50h2.1M780.5 145.50h-2.1M565.5 139.50h2.1M780.5 139.50h-2.1M565.5 134.50h2.1M780.5 134.50h-2.1M565.5 122.50h2.1M780.5 122.50h-2.1M565.5 116.50h2.1M780.5 116.50h-2.1M565.5 111.50h2.1M780.5 111.50h-2.1M565.5 105.50h2.1M780.5 105.50h-2.1M565.5 94.50h2.1M780.5 94.50h-2.1M565.5 88.50h2.1M780.5 88.50h-2.1M565.5 82.50h2.1M780.5 82.50h-2.1M565.5 76.50h2.1M780.5 76.50h-2.1M565.5 65.50h2.1M780.5 65.50h-2.1M565.5 59.50h2.1M780.5 59.50h-2.1M565.5 53.50h2.1M780.5 53.50h-2.1M565.5 48.50h2.1M780.5 48.50h-2.1M565.5 36.50h2.1M780.5 36.50h-2.1M565.5 30.50h2.1M780.5 30.50h-2.1M565.5 25.50h2.1M780.5 25.50h-2.1M565.5 19.50h2.1M780.5 19.50h-2.1M565.5 7.50h2.1M780.5 7.50h-2.1M565.5 2.50h2.1M780.5 2.50h-2.1" stroke="#5a5a5a" stroke-width="0.85" fill="none"/>
<text x="560.70" y="158.60" font-size="14.5" text-anchor="end" fill="#000" >0.25</text>
<text x="560.70" y="129.88" font-size="14.5" text-anchor="end" fill="#000" >0.3</text>
<text x="560.70" y="101.16" font-size="14.5" text-anchor="end" fill="#000" >0.35</text>
<text x="560.70" y="72.44" font-size="14.5" text-anchor="end" fill="#000" >0.4</text>
<text x="560.70" y="43.72" font-size="14.5" text-anchor="end" fill="#000" >0.45</text>
<text x="560.70" y="15.00" font-size="14.5" text-anchor="end" fill="#000" >0.5</text>
<clipPath id="cb0"><rect x="53.5" y="171.0" width="219.0" height="170.5"/></clipPath>
<g clip-path="url(#cb0)">
<g fill="#fff" fill-opacity="0.38" stroke="#2a28de" stroke-width="0.5">
<path d="M55.50 332.39L57.75 332.03L60.00 332.01L62.25 331.76L64.50 331.63L66.75 331.25L69.00 330.24L71.25 331.35L73.50 331.27L75.75 331.42L78.00 330.41L80.25 332.24L82.50 331.01L84.75 332.05L87.00 331.17L89.25 330.53L91.50 330.54L93.75 329.97L96.00 329.16L98.25 330.10L100.50 331.22L102.75 331.99L105.00 330.16L107.25 330.43L109.50 331.01L111.75 330.64L114.00 330.25L116.25 329.56L118.50 329.33L120.75 329.70L123.00 329.95L125.25 329.35L127.50 329.70L129.75 330.80L132.00 330.36L134.25 330.08L136.50 329.72L138.75 329.34L141.00 330.00L143.25 330.57L145.50 331.04L147.75 330.69L150.00 330.55L152.25 330.44L154.50 330.23L156.75 330.07L159.00 329.91L161.25 328.69L163.50 327.66L165.75 328.54L168.00 328.31L170.25 328.96L172.50 328.86L174.75 328.88L177.00 329.49L179.25 328.67L181.50 327.51L183.75 327.89L186.00 327.52L188.25 327.35L190.50 328.09L192.75 327.11L195.00 326.15L197.25 325.92L199.50 324.69L201.75 325.10L204.00 324.91L206.25 325.31L208.50 324.45L210.75 324.03L213.00 322.87L215.25 323.01L217.50 322.90L219.75 322.51L222.00 323.33L224.25 323.01L226.50 324.39L228.75 324.02L231.00 324.11L233.25 324.21L235.50 324.59L237.75 323.90L240.00 325.39L242.25 324.66L244.50 325.88L246.75 325.98L249.00 327.07L251.25 327.52" stroke-width="0.45" fill="none"/>
<path d="M53.60 330.87L57.40 330.87L55.50 334.48Z"/>
<path d="M55.85 330.51L59.65 330.51L57.75 334.12Z"/>
<path d="M58.10 330.49L61.90 330.49L60.00 334.10Z"/>
<path d="M60.35 330.24L64.15 330.24L62.25 333.85Z"/>
<path d="M62.60 330.11L66.40 330.11L64.50 333.72Z"/>
<path d="M64.85 329.73L68.65 329.73L66.75 333.34Z"/>
<path d="M67.10 328.72L70.90 328.72L69.00 332.33Z"/>
<path d="M69.35 329.83L73.15 329.83L71.25 333.44Z"/>
<path d="M71.60 329.75L75.40 329.75L73.50 333.36Z"/>
<path d="M73.85 329.90L77.65 329.90L75.75 333.51Z"/>
<path d="M76.10 328.89L79.90 328.89L78.00 332.50Z"/>
<path d="M78.35 330.72L82.15 330.72L80.25 334.33Z"/>
<path d="M80.60 329.49L84.40 329.49L82.50 333.10Z"/>
<path d="M82.85 330.53L86.65 330.53L84.75 334.14Z"/>
<path d="M85.10 329.65L88.90 329.65L87.00 333.26Z"/>
<path d="M87.35 329.01L91.15 329.01L89.25 332.62Z"/>
<path d="M89.60 329.02L93.40 329.02L91.50 332.63Z"/>
<path d="M91.85 328.45L95.65 328.45L93.75 332.06Z"/>
<path d="M94.10 327.64L97.90 327.64L96.00 331.25Z"/>
<path d="M96.35 328.58L100.15 328.58L98.25 332.19Z"/>
<path d="M98.60 329.70L102.40 329.70L100.50 333.31Z"/>
<path d="M100.85 330.47L104.65 330.47L102.75 334.08Z"/>
<path d="M103.10 328.64L106.90 328.64L105.00 332.25Z"/>
<path d="M105.35 328.91L109.15 328.91L107.25 332.52Z"/>
<path d="M107.60 329.49L111.40 329.49L109.50 333.10Z"/>
<path d="M109.85 329.12L113.65 329.12L111.75 332.73Z"/>
<path d="M112.10 328.73L115.90 328.73L114.00 332.34Z"/>
<path d="M114.35 328.04L118.15 328.04L116.25 331.65Z"/>
<path d="M116.60 327.81L120.40 327.81L118.50 331.42Z"/>
<path d="M118.85 328.18L122.65 328.18L120.75 331.79Z"/>
<path d="M121.10 328.43L124.90 328.43L123.00 332.04Z"/>
<path d="M123.35 327.83L127.15 327.83L125.25 331.44Z"/>
<path d="M125.60 328.18L129.40 328.18L127.50 331.79Z"/>
<path d="M127.85 329.28L131.65 329.28L129.75 332.89Z"/>
<path d="M130.10 328.84L133.90 328.84L132.00 332.45Z"/>
<path d="M132.35 328.56L136.15 328.56L134.25 332.17Z"/>
<path d="M134.60 328.20L138.40 328.20L136.50 331.81Z"/>
<path d="M136.85 327.82L140.65 327.82L138.75 331.43Z"/>
<path d="M139.10 328.48L142.90 328.48L141.00 332.09Z"/>
<path d="M141.35 329.05L145.15 329.05L143.25 332.66Z"/>
<path d="M143.60 329.52L147.40 329.52L145.50 333.13Z"/>
<path d="M145.85 329.17L149.65 329.17L147.75 332.78Z"/>
<path d="M148.10 329.03L151.90 329.03L150.00 332.64Z"/>
<path d="M150.35 328.92L154.15 328.92L152.25 332.53Z"/>
<path d="M152.60 328.71L156.40 328.71L154.50 332.32Z"/>
<path d="M154.85 328.55L158.65 328.55L156.75 332.16Z"/>
<path d="M157.10 328.39L160.90 328.39L159.00 332.00Z"/>
<path d="M159.35 327.17L163.15 327.17L161.25 330.78Z"/>
<path d="M161.60 326.14L165.40 326.14L163.50 329.75Z"/>
<path d="M163.85 327.02L167.65 327.02L165.75 330.63Z"/>
<path d="M166.10 326.79L169.90 326.79L168.00 330.40Z"/>
<path d="M168.35 327.44L172.15 327.44L170.25 331.05Z"/>
<path d="M170.60 327.34L174.40 327.34L172.50 330.95Z"/>
<path d="M172.85 327.36L176.65 327.36L174.75 330.97Z"/>
<path d="M175.10 327.97L178.90 327.97L177.00 331.58Z"/>
<path d="M177.35 327.15L181.15 327.15L179.25 330.76Z"/>
<path d="M179.60 325.99L183.40 325.99L181.50 329.60Z"/>
<path d="M181.85 326.37L185.65 326.37L183.75 329.98Z"/>
<path d="M184.10 326.00L187.90 326.00L186.00 329.61Z"/>
<path d="M186.35 325.83L190.15 325.83L188.25 329.44Z"/>
<path d="M188.60 326.57L192.40 326.57L190.50 330.18Z"/>
<path d="M190.85 325.59L194.65 325.59L192.75 329.20Z"/>
<path d="M193.10 324.63L196.90 324.63L195.00 328.24Z"/>
<path d="M195.35 324.40L199.15 324.40L197.25 328.01Z"/>
<path d="M197.60 323.17L201.40 323.17L199.50 326.78Z"/>
<path d="M199.85 323.58L203.65 323.58L201.75 327.19Z"/>
<path d="M202.10 323.39L205.90 323.39L204.00 327.00Z"/>
<path d="M204.35 323.79L208.15 323.79L206.25 327.40Z"/>
<path d="M206.60 322.93L210.40 322.93L208.50 326.54Z"/>
<path d="M208.85 322.51L212.65 322.51L210.75 326.12Z"/>
<path d="M211.10 321.35L214.90 321.35L213.00 324.96Z"/>
<path d="M213.35 321.49L217.15 321.49L215.25 325.10Z"/>
<path d="M215.60 321.38L219.40 321.38L217.50 324.99Z"/>
<path d="M217.85 320.99L221.65 320.99L219.75 324.60Z"/>
<path d="M220.10 321.81L223.90 321.81L222.00 325.42Z"/>
<path d="M222.35 321.49L226.15 321.49L224.25 325.10Z"/>
<path d="M224.60 322.87L228.40 322.87L226.50 326.48Z"/>
<path d="M226.85 322.50L230.65 322.50L228.75 326.11Z"/>
<path d="M229.10 322.59L232.90 322.59L231.00 326.20Z"/>
<path d="M231.35 322.69L235.15 322.69L233.25 326.30Z"/>
<path d="M233.60 323.07L237.40 323.07L235.50 326.68Z"/>
<path d="M235.85 322.38L239.65 322.38L237.75 325.99Z"/>
<path d="M238.10 323.87L241.90 323.87L240.00 327.48Z"/>
<path d="M240.35 323.14L244.15 323.14L242.25 326.75Z"/>
<path d="M242.60 324.36L246.40 324.36L244.50 327.97Z"/>
<path d="M244.85 324.46L248.65 324.46L246.75 328.07Z"/>
<path d="M247.10 325.55L250.90 325.55L249.00 329.16Z"/>
<path d="M249.35 326.00L253.15 326.00L251.25 329.61Z"/>
</g>
<g fill="#fff" fill-opacity="0.38" stroke="#22aae8" stroke-width="0.5">
<path d="M55.50 331.21L57.75 330.70L60.00 330.29L62.25 330.84L64.50 330.55L66.75 331.03L69.00 331.42L71.25 331.43L73.50 331.35L75.75 330.55L78.00 331.09L80.25 330.22L82.50 330.66L84.75 331.02L87.00 330.88L89.25 330.12L91.50 330.81L93.75 329.59L96.00 328.59L98.25 329.63L100.50 329.90L102.75 331.13L105.00 331.46L107.25 329.30L109.50 329.58L111.75 328.29L114.00 328.69L116.25 329.12L118.50 327.40L120.75 326.29L123.00 328.01L125.25 329.11L127.50 330.07L129.75 330.10L132.00 328.14L134.25 326.77L136.50 327.83L138.75 326.79L141.00 325.87L143.25 326.25L145.50 327.70L147.75 327.57L150.00 327.49L152.25 327.93L154.50 326.79L156.75 326.17L159.00 325.61L161.25 324.68L163.50 324.88L165.75 324.42L168.00 324.72L170.25 324.17L172.50 324.19L174.75 324.95L177.00 325.77L179.25 326.08L181.50 324.99L183.75 323.80L186.00 321.31L188.25 318.64L190.50 318.25L192.75 317.52L195.00 319.15L197.25 317.08L199.50 314.70L201.75 313.62L204.00 316.00L206.25 319.58L208.50 319.65L210.75 321.55L213.00 323.63L215.25 324.38L217.50 326.86L219.75 327.10L222.00 328.60L224.25 327.68L226.50 327.87L228.75 327.97L231.00 328.83L233.25 329.18L235.50 330.49L237.75 330.62L240.00 332.00L242.25 330.95L244.50 331.86L246.75 332.35" stroke-width="0.45" fill="none"/>
<path stroke-width="0.6" d="M53.51 329.22L57.49 333.21M53.51 333.21L57.49 329.22"/>
<path stroke-width="0.6" d="M55.76 328.70L59.74 332.69M55.76 332.69L59.74 328.70"/>
<path stroke-width="0.6" d="M58.01 328.30L61.99 332.29M58.01 332.29L61.99 328.30"/>
<path stroke-width="0.6" d="M60.26 328.85L64.25 332.84M60.26 332.84L64.25 328.85"/>
<path stroke-width="0.6" d="M62.51 328.56L66.50 332.55M62.51 332.55L66.50 328.56"/>
<path stroke-width="0.6" d="M64.75 329.03L68.75 333.02M64.75 333.02L68.75 329.03"/>
<path stroke-width="0.6" d="M67.00 329.43L71.00 333.42M67.00 333.42L71.00 329.43"/>
<path stroke-width="0.6" d="M69.25 329.44L73.25 333.43M69.25 333.43L73.25 329.44"/>
<path stroke-width="0.6" d="M71.50 329.36L75.50 333.35M71.50 333.35L75.50 329.36"/>
<path stroke-width="0.6" d="M73.75 328.55L77.75 332.54M73.75 332.54L77.75 328.55"/>
<path stroke-width="0.6" d="M76.00 329.09L80.00 333.08M76.00 333.08L80.00 329.09"/>
<path stroke-width="0.6" d="M78.25 328.23L82.25 332.22M78.25 332.22L82.25 328.23"/>
<path stroke-width="0.6" d="M80.50 328.66L84.50 332.65M80.50 332.65L84.50 328.66"/>
<path stroke-width="0.6" d="M82.75 329.02L86.75 333.01M82.75 333.01L86.75 329.02"/>
<path stroke-width="0.6" d="M85.00 328.89L89.00 332.88M85.00 332.88L89.00 328.89"/>
<path stroke-width="0.6" d="M87.25 328.12L91.25 332.11M87.25 332.11L91.25 328.12"/>
<path stroke-width="0.6" d="M89.50 328.81L93.50 332.80M89.50 332.80L93.50 328.81"/>
<path stroke-width="0.6" d="M91.75 327.60L95.75 331.59M91.75 331.59L95.75 327.60"/>
<path stroke-width="0.6" d="M94.00 326.60L98.00 330.59M94.00 330.59L98.00 326.60"/>
<path stroke-width="0.6" d="M96.25 327.63L100.25 331.62M96.25 331.62L100.25 327.63"/>
<path stroke-width="0.6" d="M98.50 327.91L102.50 331.90M98.50 331.90L102.50 327.91"/>
<path stroke-width="0.6" d="M100.75 329.13L104.75 333.12M100.75 333.12L104.75 329.13"/>
<path stroke-width="0.6" d="M103.00 329.46L107.00 333.45M103.00 333.45L107.00 329.46"/>
<path stroke-width="0.6" d="M105.25 327.31L109.25 331.30M105.25 331.30L109.25 327.31"/>
<path stroke-width="0.6" d="M107.50 327.58L111.50 331.57M107.50 331.57L111.50 327.58"/>
<path stroke-width="0.6" d="M109.75 326.30L113.75 330.29M109.75 330.29L113.75 326.30"/>
<path stroke-width="0.6" d="M112.00 326.70L116.00 330.69M112.00 330.69L116.00 326.70"/>
<path stroke-width="0.6" d="M114.25 327.12L118.25 331.11M114.25 331.11L118.25 327.12"/>
<path stroke-width="0.6" d="M116.50 325.40L120.50 329.39M116.50 329.39L120.50 325.40"/>
<path stroke-width="0.6" d="M118.75 324.29L122.75 328.28M118.75 328.28L122.75 324.29"/>
<path stroke-width="0.6" d="M121.00 326.01L125.00 330.00M121.00 330.00L125.00 326.01"/>
<path stroke-width="0.6" d="M123.25 327.11L127.25 331.10M123.25 331.10L127.25 327.11"/>
<path stroke-width="0.6" d="M125.50 328.07L129.50 332.06M125.50 332.06L129.50 328.07"/>
<path stroke-width="0.6" d="M127.75 328.10L131.75 332.09M127.75 332.09L131.75 328.10"/>
<path stroke-width="0.6" d="M130.00 326.14L134.00 330.13M130.00 330.13L134.00 326.14"/>
<path stroke-width="0.6" d="M132.25 324.78L136.25 328.77M132.25 328.77L136.25 324.78"/>
<path stroke-width="0.6" d="M134.50 325.83L138.50 329.82M134.50 329.82L138.50 325.83"/>
<path stroke-width="0.6" d="M136.75 324.79L140.75 328.78M136.75 328.78L140.75 324.79"/>
<path stroke-width="0.6" d="M139.00 323.88L143.00 327.87M139.00 327.87L143.00 323.88"/>
<path stroke-width="0.6" d="M141.25 324.25L145.25 328.24M141.25 328.24L145.25 324.25"/>
<path stroke-width="0.6" d="M143.50 325.71L147.50 329.70M143.50 329.70L147.50 325.71"/>
<path stroke-width="0.6" d="M145.75 325.57L149.75 329.56M145.75 329.56L149.75 325.57"/>
<path stroke-width="0.6" d="M148.00 325.50L152.00 329.49M148.00 329.49L152.00 325.50"/>
<path stroke-width="0.6" d="M150.25 325.93L154.25 329.92M150.25 329.92L154.25 325.93"/>
<path stroke-width="0.6" d="M152.50 324.79L156.50 328.78M152.50 328.78L156.50 324.79"/>
<path stroke-width="0.6" d="M154.75 324.17L158.75 328.16M154.75 328.16L158.75 324.17"/>
<path stroke-width="0.6" d="M157.00 323.62L161.00 327.61M157.00 327.61L161.00 323.62"/>
<path stroke-width="0.6" d="M159.25 322.68L163.25 326.67M159.25 326.67L163.25 322.68"/>
<path stroke-width="0.6" d="M161.50 322.89L165.50 326.88M161.50 326.88L165.50 322.89"/>
<path stroke-width="0.6" d="M163.75 322.42L167.75 326.41M163.75 326.41L167.75 322.42"/>
<path stroke-width="0.6" d="M166.00 322.72L170.00 326.71M166.00 326.71L170.00 322.72"/>
<path stroke-width="0.6" d="M168.25 322.18L172.25 326.17M168.25 326.17L172.25 322.18"/>
<path stroke-width="0.6" d="M170.50 322.19L174.50 326.18M170.50 326.18L174.50 322.19"/>
<path stroke-width="0.6" d="M172.75 322.95L176.75 326.94M172.75 326.94L176.75 322.95"/>
<path stroke-width="0.6" d="M175.00 323.78L179.00 327.77M175.00 327.77L179.00 323.78"/>
<path stroke-width="0.6" d="M177.25 324.09L181.25 328.08M177.25 328.08L181.25 324.09"/>
<path stroke-width="0.6" d="M179.50 323.00L183.50 326.99M179.50 326.99L183.50 323.00"/>
<path stroke-width="0.6" d="M181.75 321.80L185.75 325.79M181.75 325.79L185.75 321.80"/>
<path stroke-width="0.6" d="M184.00 319.32L188.00 323.31M184.00 323.31L188.00 319.32"/>
<path stroke-width="0.6" d="M186.25 316.64L190.25 320.63M186.25 320.63L190.25 316.64"/>
<path stroke-width="0.6" d="M188.50 316.26L192.50 320.25M188.50 320.25L192.50 316.26"/>
<path stroke-width="0.6" d="M190.75 315.53L194.75 319.52M190.75 319.52L194.75 315.53"/>
<path stroke-width="0.6" d="M193.00 317.16L197.00 321.15M193.00 321.15L197.00 317.16"/>
<path stroke-width="0.6" d="M195.25 315.09L199.25 319.08M195.25 319.08L199.25 315.09"/>
<path stroke-width="0.6" d="M197.50 312.70L201.50 316.69M197.50 316.69L201.50 312.70"/>
<path stroke-width="0.6" d="M199.75 311.62L203.75 315.61M199.75 315.61L203.75 311.62"/>
<path stroke-width="0.6" d="M202.00 314.01L206.00 318.00M202.00 318.00L206.00 314.01"/>
<path stroke-width="0.6" d="M204.25 317.58L208.25 321.57M204.25 321.57L208.25 317.58"/>
<path stroke-width="0.6" d="M206.50 317.65L210.50 321.64M206.50 321.64L210.50 317.65"/>
<path stroke-width="0.6" d="M208.75 319.55L212.75 323.54M208.75 323.54L212.75 319.55"/>
<path stroke-width="0.6" d="M211.00 321.63L215.00 325.62M211.00 325.62L215.00 321.63"/>
<path stroke-width="0.6" d="M213.25 322.39L217.25 326.38M213.25 326.38L217.25 322.39"/>
<path stroke-width="0.6" d="M215.50 324.86L219.50 328.85M215.50 328.85L219.50 324.86"/>
<path stroke-width="0.6" d="M217.75 325.11L221.75 329.10M217.75 329.10L221.75 325.11"/>
<path stroke-width="0.6" d="M220.00 326.61L224.00 330.60M220.00 330.60L224.00 326.61"/>
<path stroke-width="0.6" d="M222.25 325.69L226.25 329.68M222.25 329.68L226.25 325.69"/>
<path stroke-width="0.6" d="M224.50 325.87L228.50 329.86M224.50 329.86L228.50 325.87"/>
<path stroke-width="0.6" d="M226.75 325.97L230.75 329.96M226.75 329.96L230.75 325.97"/>
<path stroke-width="0.6" d="M229.00 326.84L233.00 330.83M229.00 330.83L233.00 326.84"/>
<path stroke-width="0.6" d="M231.25 327.19L235.25 331.18M231.25 331.18L235.25 327.19"/>
<path stroke-width="0.6" d="M233.50 328.49L237.50 332.48M233.50 332.48L237.50 328.49"/>
<path stroke-width="0.6" d="M235.75 328.63L239.75 332.62M235.75 332.62L239.75 328.63"/>
<path stroke-width="0.6" d="M238.00 330.00L242.00 333.99M238.00 333.99L242.00 330.00"/>
<path stroke-width="0.6" d="M240.25 328.96L244.25 332.95M240.25 332.95L244.25 328.96"/>
<path stroke-width="0.6" d="M242.50 329.87L246.50 333.86M242.50 333.86L246.50 329.87"/>
<path stroke-width="0.6" d="M244.75 330.35L248.75 334.34M244.75 334.34L248.75 330.35"/>
</g>
<g fill="#fff" fill-opacity="0.38" stroke="#2f9540" stroke-width="0.5">
<path d="M56.00 329.67L58.25 329.21L60.50 329.57L62.75 330.36L65.00 329.76L67.25 328.89L69.50 329.42L71.75 330.14L74.00 330.66L76.25 330.25L78.50 329.40L80.75 328.63L83.00 328.71L85.25 328.36L87.50 328.04L89.75 327.85L92.00 327.77L94.25 328.23L96.50 327.75L98.75 327.64L101.00 327.10L103.25 326.48L105.50 325.77L107.75 326.20L110.00 325.17L112.25 325.61L114.50 325.23L116.75 324.68L119.00 324.61L121.25 323.83L123.50 323.03L125.75 322.77L128.00 322.56L130.25 322.77L132.50 323.16L134.75 323.63L137.00 322.84L139.25 321.98L141.50 321.89L143.75 321.02L146.00 320.61L148.25 320.85L150.50 319.91L152.75 318.99L155.00 318.74L157.25 319.05L159.50 318.69L161.75 316.70L164.50 309.10L166.40 290.50L168.50 281.20L169.80 287.90L171.70 302.50L173.80 309.10L175.25 313.19L177.50 316.95L179.75 320.20L182.00 321.94L184.25 324.30L186.50 325.43L188.75 326.44L191.00 326.49L193.25 327.27L195.50 327.68L197.75 328.88L200.00 329.05L202.25 330.15L204.50 330.33L206.75 330.48L209.00 332.24L211.25 331.81L213.50 331.41L215.75 332.57L218.00 331.47L220.25 331.98L222.50 331.99L224.75 331.67L227.00 331.80L229.25 332.04L231.50 332.27L233.75 331.94L236.00 332.32L238.25 332.83L240.50 332.85L242.75 332.10L245.00 332.02L247.25 331.87L249.50 331.76L251.75 332.28" stroke-width="0.45" fill="none"/>
<rect x="54.10" y="327.77" width="3.80" height="3.80"/>
<rect x="56.35" y="327.31" width="3.80" height="3.80"/>
<rect x="58.60" y="327.67" width="3.80" height="3.80"/>
<rect x="60.85" y="328.46" width="3.80" height="3.80"/>
<rect x="63.10" y="327.86" width="3.80" height="3.80"/>
<rect x="65.35" y="326.99" width="3.80" height="3.80"/>
<rect x="67.60" y="327.52" width="3.80" height="3.80"/>
<rect x="69.85" y="328.24" width="3.80" height="3.80"/>
<rect x="72.10" y="328.76" width="3.80" height="3.80"/>
<rect x="74.35" y="328.35" width="3.80" height="3.80"/>
<rect x="76.60" y="327.50" width="3.80" height="3.80"/>
<rect x="78.85" y="326.73" width="3.80" height="3.80"/>
<rect x="81.10" y="326.81" width="3.80" height="3.80"/>
<rect x="83.35" y="326.46" width="3.80" height="3.80"/>
<rect x="85.60" y="326.14" width="3.80" height="3.80"/>
<rect x="87.85" y="325.95" width="3.80" height="3.80"/>
<rect x="90.10" y="325.87" width="3.80" height="3.80"/>
<rect x="92.35" y="326.33" width="3.80" height="3.80"/>
<rect x="94.60" y="325.85" width="3.80" height="3.80"/>
<rect x="96.85" y="325.74" width="3.80" height="3.80"/>
<rect x="99.10" y="325.20" width="3.80" height="3.80"/>
<rect x="101.35" y="324.58" width="3.80" height="3.80"/>
<rect x="103.60" y="323.87" width="3.80" height="3.80"/>
<rect x="105.85" y="324.30" width="3.80" height="3.80"/>
<rect x="108.10" y="323.27" width="3.80" height="3.80"/>
<rect x="110.35" y="323.71" width="3.80" height="3.80"/>
<rect x="112.60" y="323.33" width="3.80" height="3.80"/>
<rect x="114.85" y="322.78" width="3.80" height="3.80"/>
<rect x="117.10" y="322.71" width="3.80" height="3.80"/>
<rect x="119.35" y="321.93" width="3.80" height="3.80"/>
<rect x="121.60" y="321.13" width="3.80" height="3.80"/>
<rect x="123.85" y="320.87" width="3.80" height="3.80"/>
<rect x="126.10" y="320.66" width="3.80" height="3.80"/>
<rect x="128.35" y="320.87" width="3.80" height="3.80"/>
<rect x="130.60" y="321.26" width="3.80" height="3.80"/>
<rect x="132.85" y="321.73" width="3.80" height="3.80"/>
<rect x="135.10" y="320.94" width="3.80" height="3.80"/>
<rect x="137.35" y="320.08" width="3.80" height="3.80"/>
<rect x="139.60" y="319.99" width="3.80" height="3.80"/>
<rect x="141.85" y="319.12" width="3.80" height="3.80"/>
<rect x="144.10" y="318.71" width="3.80" height="3.80"/>
<rect x="146.35" y="318.95" width="3.80" height="3.80"/>
<rect x="148.60" y="318.01" width="3.80" height="3.80"/>
<rect x="150.85" y="317.09" width="3.80" height="3.80"/>
<rect x="153.10" y="316.84" width="3.80" height="3.80"/>
<rect x="155.35" y="317.15" width="3.80" height="3.80"/>
<rect x="157.60" y="316.79" width="3.80" height="3.80"/>
<rect x="159.85" y="314.80" width="3.80" height="3.80"/>
<rect x="162.60" y="307.20" width="3.80" height="3.80"/>
<rect x="164.50" y="288.60" width="3.80" height="3.80"/>
<rect x="166.60" y="279.30" width="3.80" height="3.80"/>
<rect x="167.90" y="286.00" width="3.80" height="3.80"/>
<rect x="169.80" y="300.60" width="3.80" height="3.80"/>
<rect x="171.90" y="307.20" width="3.80" height="3.80"/>
<rect x="173.35" y="311.29" width="3.80" height="3.80"/>
<rect x="175.60" y="315.05" width="3.80" height="3.80"/>
<rect x="177.85" y="318.30" width="3.80" height="3.80"/>
<rect x="180.10" y="320.04" width="3.80" height="3.80"/>
<rect x="182.35" y="322.40" width="3.80" height="3.80"/>
<rect x="184.60" y="323.53" width="3.80" height="3.80"/>
<rect x="186.85" y="324.54" width="3.80" height="3.80"/>
<rect x="189.10" y="324.59" width="3.80" height="3.80"/>
<rect x="191.35" y="325.37" width="3.80" height="3.80"/>
<rect x="193.60" y="325.78" width="3.80" height="3.80"/>
<rect x="195.85" y="326.98" width="3.80" height="3.80"/>
<rect x="198.10" y="327.15" width="3.80" height="3.80"/>
<rect x="200.35" y="328.25" width="3.80" height="3.80"/>
<rect x="202.60" y="328.43" width="3.80" height="3.80"/>
<rect x="204.85" y="328.58" width="3.80" height="3.80"/>
<rect x="207.10" y="330.34" width="3.80" height="3.80"/>
<rect x="209.35" y="329.91" width="3.80" height="3.80"/>
<rect x="211.60" y="329.51" width="3.80" height="3.80"/>
<rect x="213.85" y="330.67" width="3.80" height="3.80"/>
<rect x="216.10" y="329.57" width="3.80" height="3.80"/>
<rect x="218.35" y="330.08" width="3.80" height="3.80"/>
<rect x="220.60" y="330.09" width="3.80" height="3.80"/>
<rect x="222.85" y="329.77" width="3.80" height="3.80"/>
<rect x="225.10" y="329.90" width="3.80" height="3.80"/>
<rect x="227.35" y="330.14" width="3.80" height="3.80"/>
<rect x="229.60" y="330.37" width="3.80" height="3.80"/>
<rect x="231.85" y="330.04" width="3.80" height="3.80"/>
<rect x="234.10" y="330.42" width="3.80" height="3.80"/>
<rect x="236.35" y="330.93" width="3.80" height="3.80"/>
<rect x="238.60" y="330.95" width="3.80" height="3.80"/>
<rect x="240.85" y="330.20" width="3.80" height="3.80"/>
<rect x="243.10" y="330.12" width="3.80" height="3.80"/>
<rect x="245.35" y="329.97" width="3.80" height="3.80"/>
<rect x="247.60" y="329.86" width="3.80" height="3.80"/>
<rect x="249.85" y="330.38" width="3.80" height="3.80"/>
</g>
<g fill="#fff" fill-opacity="0.38" stroke="#ee6c1c" stroke-width="0.5">
<path d="M57.65 330.27L59.90 330.07L62.15 329.71L64.40 330.02L66.65 328.68L68.90 330.24L71.15 330.51L73.40 330.11L75.65 330.24L77.90 329.37L80.15 330.09L82.40 329.75L84.65 329.23L86.90 328.68L89.15 328.28L91.40 328.00L93.65 327.48L95.90 327.08L98.15 326.77L100.40 326.36L102.65 325.78L104.90 325.15L107.15 324.45L109.40 325.13L111.65 323.35L113.90 323.74L116.15 324.20L118.40 323.83L120.65 323.40L122.90 323.50L125.15 323.62L127.40 323.45L129.65 322.24L131.90 322.35L134.15 320.82L136.40 321.10L138.65 320.40L140.90 319.73L143.15 319.56L145.40 318.03L148.40 293.20L150.20 242.30L152.00 265.50L153.90 289.20L155.70 301.20L158.90 312.41L161.15 316.93L163.40 319.50L165.65 321.85L167.90 325.98L170.15 326.65L172.40 328.13L174.65 328.02L176.90 328.87L179.15 329.02L181.40 329.11L183.65 329.31L185.90 329.79L188.15 329.48L190.40 330.58L192.65 330.42L194.90 330.83L197.15 330.51L199.40 331.67L201.65 331.31L203.90 331.44L206.15 332.36L208.40 331.98L210.65 331.57L212.90 332.27L215.15 332.32L217.40 332.28L219.65 332.20L221.90 333.69L224.15 332.57L226.40 332.89L228.65 331.94L230.90 333.26L233.15 333.92L235.40 333.46L237.65 333.07L239.90 333.53L242.15 333.61L244.40 333.72L246.65 334.27L248.90 334.27L251.15 333.91" stroke-width="0.45" fill="none"/>
<path d="M55.75 331.79L59.55 331.79L57.65 328.18Z"/>
<path d="M58.00 331.59L61.80 331.59L59.90 327.98Z"/>
<path d="M60.25 331.23L64.05 331.23L62.15 327.62Z"/>
<path d="M62.50 331.54L66.30 331.54L64.40 327.93Z"/>
<path d="M64.75 330.20L68.55 330.20L66.65 326.59Z"/>
<path d="M67.00 331.76L70.80 331.76L68.90 328.15Z"/>
<path d="M69.25 332.03L73.05 332.03L71.15 328.42Z"/>
<path d="M71.50 331.63L75.30 331.63L73.40 328.02Z"/>
<path d="M73.75 331.76L77.55 331.76L75.65 328.15Z"/>
<path d="M76.00 330.89L79.80 330.89L77.90 327.28Z"/>
<path d="M78.25 331.61L82.05 331.61L80.15 328.00Z"/>
<path d="M80.50 331.27L84.30 331.27L82.40 327.66Z"/>
<path d="M82.75 330.75L86.55 330.75L84.65 327.14Z"/>
<path d="M85.00 330.20L88.80 330.20L86.90 326.59Z"/>
<path d="M87.25 329.80L91.05 329.80L89.15 326.19Z"/>
<path d="M89.50 329.52L93.30 329.52L91.40 325.91Z"/>
<path d="M91.75 329.00L95.55 329.00L93.65 325.39Z"/>
<path d="M94.00 328.60L97.80 328.60L95.90 324.99Z"/>
<path d="M96.25 328.29L100.05 328.29L98.15 324.68Z"/>
<path d="M98.50 327.88L102.30 327.88L100.40 324.27Z"/>
<path d="M100.75 327.30L104.55 327.30L102.65 323.69Z"/>
<path d="M103.00 326.67L106.80 326.67L104.90 323.06Z"/>
<path d="M105.25 325.97L109.05 325.97L107.15 322.36Z"/>
<path d="M107.50 326.65L111.30 326.65L109.40 323.04Z"/>
<path d="M109.75 324.87L113.55 324.87L111.65 321.26Z"/>
<path d="M112.00 325.26L115.80 325.26L113.90 321.65Z"/>
<path d="M114.25 325.72L118.05 325.72L116.15 322.11Z"/>
<path d="M116.50 325.35L120.30 325.35L118.40 321.74Z"/>
<path d="M118.75 324.92L122.55 324.92L120.65 321.31Z"/>
<path d="M121.00 325.02L124.80 325.02L122.90 321.41Z"/>
<path d="M123.25 325.14L127.05 325.14L125.15 321.53Z"/>
<path d="M125.50 324.97L129.30 324.97L127.40 321.36Z"/>
<path d="M127.75 323.76L131.55 323.76L129.65 320.15Z"/>
<path d="M130.00 323.87L133.80 323.87L131.90 320.26Z"/>
<path d="M132.25 322.34L136.05 322.34L134.15 318.73Z"/>
<path d="M134.50 322.62L138.30 322.62L136.40 319.01Z"/>
<path d="M136.75 321.92L140.55 321.92L138.65 318.31Z"/>
<path d="M139.00 321.25L142.80 321.25L140.90 317.64Z"/>
<path d="M141.25 321.08L145.05 321.08L143.15 317.47Z"/>
<path d="M143.50 319.55L147.30 319.55L145.40 315.94Z"/>
<path d="M146.50 294.72L150.30 294.72L148.40 291.11Z"/>
<path d="M148.30 243.82L152.10 243.82L150.20 240.21Z"/>
<path d="M150.10 267.02L153.90 267.02L152.00 263.41Z"/>
<path d="M152.00 290.72L155.80 290.72L153.90 287.11Z"/>
<path d="M153.80 302.72L157.60 302.72L155.70 299.11Z"/>
<path d="M157.00 313.93L160.80 313.93L158.90 310.32Z"/>
<path d="M159.25 318.45L163.05 318.45L161.15 314.84Z"/>
<path d="M161.50 321.02L165.30 321.02L163.40 317.41Z"/>
<path d="M163.75 323.37L167.55 323.37L165.65 319.76Z"/>
<path d="M166.00 327.50L169.80 327.50L167.90 323.89Z"/>
<path d="M168.25 328.17L172.05 328.17L170.15 324.56Z"/>
<path d="M170.50 329.65L174.30 329.65L172.40 326.04Z"/>
<path d="M172.75 329.54L176.55 329.54L174.65 325.93Z"/>
<path d="M175.00 330.39L178.80 330.39L176.90 326.78Z"/>
<path d="M177.25 330.54L181.05 330.54L179.15 326.93Z"/>
<path d="M179.50 330.63L183.30 330.63L181.40 327.02Z"/>
<path d="M181.75 330.83L185.55 330.83L183.65 327.22Z"/>
<path d="M184.00 331.31L187.80 331.31L185.90 327.70Z"/>
<path d="M186.25 331.00L190.05 331.00L188.15 327.39Z"/>
<path d="M188.50 332.10L192.30 332.10L190.40 328.49Z"/>
<path d="M190.75 331.94L194.55 331.94L192.65 328.33Z"/>
<path d="M193.00 332.35L196.80 332.35L194.90 328.74Z"/>
<path d="M195.25 332.03L199.05 332.03L197.15 328.42Z"/>
<path d="M197.50 333.19L201.30 333.19L199.40 329.58Z"/>
<path d="M199.75 332.83L203.55 332.83L201.65 329.22Z"/>
<path d="M202.00 332.96L205.80 332.96L203.90 329.35Z"/>
<path d="M204.25 333.88L208.05 333.88L206.15 330.27Z"/>
<path d="M206.50 333.50L210.30 333.50L208.40 329.89Z"/>
<path d="M208.75 333.09L212.55 333.09L210.65 329.48Z"/>
<path d="M211.00 333.79L214.80 333.79L212.90 330.18Z"/>
<path d="M213.25 333.84L217.05 333.84L215.15 330.23Z"/>
<path d="M215.50 333.80L219.30 333.80L217.40 330.19Z"/>
<path d="M217.75 333.72L221.55 333.72L219.65 330.11Z"/>
<path d="M220.00 335.21L223.80 335.21L221.90 331.60Z"/>
<path d="M222.25 334.09L226.05 334.09L224.15 330.48Z"/>
<path d="M224.50 334.41L228.30 334.41L226.40 330.80Z"/>
<path d="M226.75 333.46L230.55 333.46L228.65 329.85Z"/>
<path d="M229.00 334.78L232.80 334.78L230.90 331.17Z"/>
<path d="M231.25 335.44L235.05 335.44L233.15 331.83Z"/>
<path d="M233.50 334.98L237.30 334.98L235.40 331.37Z"/>
<path d="M235.75 334.59L239.55 334.59L237.65 330.98Z"/>
<path d="M238.00 335.05L241.80 335.05L239.90 331.44Z"/>
<path d="M240.25 335.13L244.05 335.13L242.15 331.52Z"/>
<path d="M242.50 335.24L246.30 335.24L244.40 331.63Z"/>
<path d="M244.75 335.79L248.55 335.79L246.65 332.18Z"/>
<path d="M247.00 335.79L250.80 335.79L248.90 332.18Z"/>
<path d="M249.25 335.43L253.05 335.43L251.15 331.82Z"/>
</g>
<g fill="#fff" fill-opacity="0.38" stroke="#e52f36" stroke-width="0.5">
<path d="M56.10 330.13L58.35 330.17L60.60 330.27L62.85 330.49L65.10 330.31L67.35 330.49L69.60 330.07L71.85 329.57L74.10 329.00L76.35 329.23L78.60 329.43L80.85 328.46L83.10 328.37L85.35 328.21L87.60 327.70L89.85 328.10L92.10 328.09L94.35 327.51L96.60 327.62L98.85 326.65L101.10 326.32L103.35 324.94L105.60 325.02L107.85 324.15L110.10 323.54L112.35 322.74L114.60 322.51L116.85 321.75L119.10 319.58L121.35 319.62L123.60 318.18L125.85 313.26L128.60 290.50L130.70 246.60L132.60 174.00L134.50 199.30L136.10 266.60L137.90 293.20L139.35 301.03L141.60 306.18L143.85 309.54L146.10 312.33L148.35 314.32L150.60 317.93L152.85 320.73L155.10 323.16L157.35 325.12L159.60 326.32L161.85 327.06L164.10 327.64L166.35 328.32L168.60 329.10L170.85 330.08L173.10 330.58L175.35 331.19L177.60 331.08L179.85 330.71L182.10 331.92L184.35 332.58L186.60 332.14L188.85 331.97L191.10 331.98L193.35 332.15L195.60 332.63L197.85 332.36L200.10 332.24L202.35 331.35L204.60 331.34L206.85 331.29L209.10 331.96L211.35 331.85L213.60 331.98L215.85 331.53L218.10 332.32L220.35 331.52L222.60 332.19L224.85 332.72L227.10 333.14L229.35 332.40L231.60 332.67L233.85 332.83L236.10 333.40L238.35 333.00L240.60 333.39L242.85 333.47L245.10 333.62L247.35 334.56L249.60 334.77L251.85 334.93" stroke-width="0.45" fill="none"/>
<circle cx="56.10" cy="330.13" r="1.90"/>
<circle cx="58.35" cy="330.17" r="1.90"/>
<circle cx="60.60" cy="330.27" r="1.90"/>
<circle cx="62.85" cy="330.49" r="1.90"/>
<circle cx="65.10" cy="330.31" r="1.90"/>
<circle cx="67.35" cy="330.49" r="1.90"/>
<circle cx="69.60" cy="330.07" r="1.90"/>
<circle cx="71.85" cy="329.57" r="1.90"/>
<circle cx="74.10" cy="329.00" r="1.90"/>
<circle cx="76.35" cy="329.23" r="1.90"/>
<circle cx="78.60" cy="329.43" r="1.90"/>
<circle cx="80.85" cy="328.46" r="1.90"/>
<circle cx="83.10" cy="328.37" r="1.90"/>
<circle cx="85.35" cy="328.21" r="1.90"/>
<circle cx="87.60" cy="327.70" r="1.90"/>
<circle cx="89.85" cy="328.10" r="1.90"/>
<circle cx="92.10" cy="328.09" r="1.90"/>
<circle cx="94.35" cy="327.51" r="1.90"/>
<circle cx="96.60" cy="327.62" r="1.90"/>
<circle cx="98.85" cy="326.65" r="1.90"/>
<circle cx="101.10" cy="326.32" r="1.90"/>
<circle cx="103.35" cy="324.94" r="1.90"/>
<circle cx="105.60" cy="325.02" r="1.90"/>
<circle cx="107.85" cy="324.15" r="1.90"/>
<circle cx="110.10" cy="323.54" r="1.90"/>
<circle cx="112.35" cy="322.74" r="1.90"/>
<circle cx="114.60" cy="322.51" r="1.90"/>
<circle cx="116.85" cy="321.75" r="1.90"/>
<circle cx="119.10" cy="319.58" r="1.90"/>
<circle cx="121.35" cy="319.62" r="1.90"/>
<circle cx="123.60" cy="318.18" r="1.90"/>
<circle cx="125.85" cy="313.26" r="1.90"/>
<circle cx="128.60" cy="290.50" r="1.90"/>
<circle cx="130.70" cy="246.60" r="1.90"/>
<circle cx="132.60" cy="174.00" r="1.90"/>
<circle cx="134.50" cy="199.30" r="1.90"/>
<circle cx="136.10" cy="266.60" r="1.90"/>
<circle cx="137.90" cy="293.20" r="1.90"/>
<circle cx="139.35" cy="301.03" r="1.90"/>
<circle cx="141.60" cy="306.18" r="1.90"/>
<circle cx="143.85" cy="309.54" r="1.90"/>
<circle cx="146.10" cy="312.33" r="1.90"/>
<circle cx="148.35" cy="314.32" r="1.90"/>
<circle cx="150.60" cy="317.93" r="1.90"/>
<circle cx="152.85" cy="320.73" r="1.90"/>
<circle cx="155.10" cy="323.16" r="1.90"/>
<circle cx="157.35" cy="325.12" r="1.90"/>
<circle cx="159.60" cy="326.32" r="1.90"/>
<circle cx="161.85" cy="327.06" r="1.90"/>
<circle cx="164.10" cy="327.64" r="1.90"/>
<circle cx="166.35" cy="328.32" r="1.90"/>
<circle cx="168.60" cy="329.10" r="1.90"/>
<circle cx="170.85" cy="330.08" r="1.90"/>
<circle cx="173.10" cy="330.58" r="1.90"/>
<circle cx="175.35" cy="331.19" r="1.90"/>
<circle cx="177.60" cy="331.08" r="1.90"/>
<circle cx="179.85" cy="330.71" r="1.90"/>
<circle cx="182.10" cy="331.92" r="1.90"/>
<circle cx="184.35" cy="332.58" r="1.90"/>
<circle cx="186.60" cy="332.14" r="1.90"/>
<circle cx="188.85" cy="331.97" r="1.90"/>
<circle cx="191.10" cy="331.98" r="1.90"/>
<circle cx="193.35" cy="332.15" r="1.90"/>
<circle cx="195.60" cy="332.63" r="1.90"/>
<circle cx="197.85" cy="332.36" r="1.90"/>
<circle cx="200.10" cy="332.24" r="1.90"/>
<circle cx="202.35" cy="331.35" r="1.90"/>
<circle cx="204.60" cy="331.34" r="1.90"/>
<circle cx="206.85" cy="331.29" r="1.90"/>
<circle cx="209.10" cy="331.96" r="1.90"/>
<circle cx="211.35" cy="331.85" r="1.90"/>
<circle cx="213.60" cy="331.98" r="1.90"/>
<circle cx="215.85" cy="331.53" r="1.90"/>
<circle cx="218.10" cy="332.32" r="1.90"/>
<circle cx="220.35" cy="331.52" r="1.90"/>
<circle cx="222.60" cy="332.19" r="1.90"/>
<circle cx="224.85" cy="332.72" r="1.90"/>
<circle cx="227.10" cy="333.14" r="1.90"/>
<circle cx="229.35" cy="332.40" r="1.90"/>
<circle cx="231.60" cy="332.67" r="1.90"/>
<circle cx="233.85" cy="332.83" r="1.90"/>
<circle cx="236.10" cy="333.40" r="1.90"/>
<circle cx="238.35" cy="333.00" r="1.90"/>
<circle cx="240.60" cy="333.39" r="1.90"/>
<circle cx="242.85" cy="333.47" r="1.90"/>
<circle cx="245.10" cy="333.62" r="1.90"/>
<circle cx="247.35" cy="334.56" r="1.90"/>
<circle cx="249.60" cy="334.77" r="1.90"/>
<circle cx="251.85" cy="334.93" r="1.90"/>
</g>
</g>
<rect x="55.5" y="173.5" width="215.0" height="165.5" fill="none" stroke="#5a5a5a" stroke-width="0.8"/>
<path d="M55.50 339.0v-4.3M55.50 173.5v4.3M62.50 339.0v-2.1M62.50 173.5v2.1M69.50 339.0v-2.1M69.50 173.5v2.1M77.50 339.0v-2.1M77.50 173.5v2.1M84.50 339.0v-2.1M84.50 173.5v2.1M91.50 339.0v-4.3M91.50 173.5v4.3M98.50 339.0v-2.1M98.50 173.5v2.1M105.50 339.0v-2.1M105.50 173.5v2.1M112.50 339.0v-2.1M112.50 173.5v2.1M120.50 339.0v-2.1M120.50 173.5v2.1M127.50 339.0v-4.3M127.50 173.5v4.3M134.50 339.0v-2.1M134.50 173.5v2.1M141.50 339.0v-2.1M141.50 173.5v2.1M148.50 339.0v-2.1M148.50 173.5v2.1M155.50 339.0v-2.1M155.50 173.5v2.1M163.50 339.0v-4.3M163.50 173.5v4.3M170.50 339.0v-2.1M170.50 173.5v2.1M177.50 339.0v-2.1M177.50 173.5v2.1M184.50 339.0v-2.1M184.50 173.5v2.1M191.50 339.0v-2.1M191.50 173.5v2.1M198.50 339.0v-4.3M198.50 173.5v4.3M206.50 339.0v-2.1M206.50 173.5v2.1M213.50 339.0v-2.1M213.50 173.5v2.1M220.50 339.0v-2.1M220.50 173.5v2.1M227.50 339.0v-2.1M227.50 173.5v2.1M234.50 339.0v-4.3M234.50 173.5v4.3M241.50 339.0v-2.1M241.50 173.5v2.1M249.50 339.0v-2.1M249.50 173.5v2.1M256.50 339.0v-2.1M256.50 173.5v2.1M263.50 339.0v-2.1M263.50 173.5v2.1M270.50 339.0v-4.3M270.50 173.5v4.3" stroke="#5a5a5a" stroke-width="0.85" fill="none"/>
<path d="M55.5 307.50h4.3M270.5 307.50h-4.3M55.5 275.50h4.3M270.5 275.50h-4.3M55.5 243.50h4.3M270.5 243.50h-4.3M55.5 211.50h4.3M270.5 211.50h-4.3M55.5 179.50h4.3M270.5 179.50h-4.3M55.5 332.50h2.1M270.5 332.50h-2.1M55.5 326.50h2.1M270.5 326.50h-2.1M55.5 319.50h2.1M270.5 319.50h-2.1M55.5 313.50h2.1M270.5 313.50h-2.1M55.5 300.50h2.1M270.5 300.50h-2.1M55.5 294.50h2.1M270.5 294.50h-2.1M55.5 287.50h2.1M270.5 287.50h-2.1M55.5 281.50h2.1M270.5 281.50h-2.1M55.5 268.50h2.1M270.5 268.50h-2.1M55.5 262.50h2.1M270.5 262.50h-2.1M55.5 255.50h2.1M270.5 255.50h-2.1M55.5 249.50h2.1M270.5 249.50h-2.1M55.5 236.50h2.1M270.5 236.50h-2.1M55.5 230.50h2.1M270.5 230.50h-2.1M55.5 223.50h2.1M270.5 223.50h-2.1M55.5 217.50h2.1M270.5 217.50h-2.1M55.5 204.50h2.1M270.5 204.50h-2.1M55.5 198.50h2.1M270.5 198.50h-2.1M55.5 191.50h2.1M270.5 191.50h-2.1M55.5 185.50h2.1M270.5 185.50h-2.1" stroke="#5a5a5a" stroke-width="0.85" fill="none"/>
<text x="50.70" y="341.40" font-size="14.5" text-anchor="end" fill="#000" >0</text>
<text x="50.70" y="308.80" font-size="14.5" text-anchor="end" fill="#000" >0.1</text>
<text x="50.70" y="276.80" font-size="14.5" text-anchor="end" fill="#000" >0.2</text>
<text x="50.70" y="244.80" font-size="14.5" text-anchor="end" fill="#000" >0.3</text>
<text x="50.70" y="212.80" font-size="14.5" text-anchor="end" fill="#000" >0.4</text>
<text x="50.70" y="180.80" font-size="14.5" text-anchor="end" fill="#000" >0.5</text>
<text x="56.30" y="353.30" font-size="14.5" text-anchor="middle" fill="#000" >9</text>
<text x="92.13" y="353.30" font-size="14.5" text-anchor="middle" fill="#000" >10</text>
<text x="127.97" y="353.30" font-size="14.5" text-anchor="middle" fill="#000" >11</text>
<text x="163.80" y="353.30" font-size="14.5" text-anchor="middle" fill="#000" >12</text>
<text x="199.63" y="353.30" font-size="14.5" text-anchor="middle" fill="#000" >13</text>
<text x="235.47" y="353.30" font-size="14.5" text-anchor="middle" fill="#000" >14</text>
<text x="271.30" y="353.30" font-size="14.5" text-anchor="middle" fill="#000" >15</text>
<text x="140.20" y="367.7" font-size="14.5" fill="#000"><tspan font-style="italic">μ</tspan><tspan font-size="10" dy="6.6">0</tspan><tspan dy="-6.6" font-style="italic">H</tspan><tspan> (T)</tspan></text>
<clipPath id="cb1"><rect x="308.5" y="171.0" width="219.0" height="170.5"/></clipPath>
<g clip-path="url(#cb1)">
<g fill="#fff" fill-opacity="0.38" stroke="#2a28de" stroke-width="0.5">
<path d="M313.50 322.53L315.30 323.17L317.10 322.06L318.91 322.41L320.72 322.13L322.53 321.96L324.34 322.18L326.16 322.00L327.98 321.51L329.80 321.77L331.63 322.04L333.46 322.72L335.29 322.04L337.12 322.52L338.96 322.54L340.80 322.11L342.64 321.57L344.49 321.27L346.34 321.22L348.19 321.72L350.05 322.07L351.90 321.63L353.77 321.61L355.63 321.88L357.50 321.68L359.37 321.57L361.24 321.64L363.11 321.38L364.99 321.71L366.87 321.81L368.76 321.92L370.65 321.66L372.54 321.66L374.43 321.90L376.33 321.80L378.23 321.55L380.13 321.09L382.03 320.41L383.94 320.03L385.85 320.65L387.77 320.46L389.69 320.47L391.61 320.07L393.53 319.61L395.46 319.93L397.39 319.54L399.32 319.01L401.25 318.96L403.19 318.44L405.14 318.25L407.08 318.63L409.03 318.31L410.98 318.02L412.93 318.32L414.89 317.74L416.85 317.67L418.82 317.18L420.78 316.97L422.75 316.46L424.73 316.43L426.70 316.12L428.68 316.25L430.66 315.70L432.65 314.93L434.64 314.59L436.63 314.06L438.62 314.42L440.62 314.27L442.62 313.89L444.63 313.18L446.64 312.61L448.65 311.93L450.66 313.02L452.68 312.58L454.70 313.15L456.72 312.92L458.75 313.35L460.78 313.38L462.81 313.21L464.85 313.41L466.89 313.61L468.93 313.34L470.98 312.96L473.03 313.06L475.08 313.41L477.13 313.99L479.19 314.38L481.25 314.50L483.32 314.43L485.39 315.13L487.46 315.40L489.54 315.87L491.62 316.54L493.70 316.79L495.78 316.96L497.87 316.70L499.96 316.73L502.06 316.27" stroke-width="0.45" fill="none"/>
<path d="M311.60 321.01L315.40 321.01L313.50 324.62Z"/>
<path d="M313.40 321.65L317.20 321.65L315.30 325.26Z"/>
<path d="M315.20 320.54L319.00 320.54L317.10 324.15Z"/>
<path d="M317.01 320.89L320.81 320.89L318.91 324.50Z"/>
<path d="M318.82 320.61L322.62 320.61L320.72 324.22Z"/>
<path d="M320.63 320.44L324.43 320.44L322.53 324.05Z"/>
<path d="M322.44 320.66L326.24 320.66L324.34 324.27Z"/>
<path d="M324.26 320.48L328.06 320.48L326.16 324.09Z"/>
<path d="M326.08 319.99L329.88 319.99L327.98 323.60Z"/>
<path d="M327.90 320.25L331.70 320.25L329.80 323.86Z"/>
<path d="M329.73 320.52L333.53 320.52L331.63 324.13Z"/>
<path d="M331.56 321.20L335.36 321.20L333.46 324.81Z"/>
<path d="M333.39 320.52L337.19 320.52L335.29 324.13Z"/>
<path d="M335.22 321.00L339.02 321.00L337.12 324.61Z"/>
<path d="M337.06 321.02L340.86 321.02L338.96 324.63Z"/>
<path d="M338.90 320.59L342.70 320.59L340.80 324.20Z"/>
<path d="M340.74 320.05L344.54 320.05L342.64 323.66Z"/>
<path d="M342.59 319.75L346.39 319.75L344.49 323.36Z"/>
<path d="M344.44 319.70L348.24 319.70L346.34 323.31Z"/>
<path d="M346.29 320.20L350.09 320.20L348.19 323.81Z"/>
<path d="M348.15 320.55L351.95 320.55L350.05 324.16Z"/>
<path d="M350.00 320.11L353.80 320.11L351.90 323.72Z"/>
<path d="M351.87 320.09L355.67 320.09L353.77 323.70Z"/>
<path d="M353.73 320.36L357.53 320.36L355.63 323.97Z"/>
<path d="M355.60 320.16L359.40 320.16L357.50 323.77Z"/>
<path d="M357.47 320.05L361.27 320.05L359.37 323.66Z"/>
<path d="M359.34 320.12L363.14 320.12L361.24 323.73Z"/>
<path d="M361.21 319.86L365.01 319.86L363.11 323.47Z"/>
<path d="M363.09 320.19L366.89 320.19L364.99 323.80Z"/>
<path d="M364.97 320.29L368.77 320.29L366.87 323.90Z"/>
<path d="M366.86 320.40L370.66 320.40L368.76 324.01Z"/>
<path d="M368.75 320.14L372.55 320.14L370.65 323.75Z"/>
<path d="M370.64 320.14L374.44 320.14L372.54 323.75Z"/>
<path d="M372.53 320.38L376.33 320.38L374.43 323.99Z"/>
<path d="M374.43 320.28L378.23 320.28L376.33 323.89Z"/>
<path d="M376.33 320.03L380.13 320.03L378.23 323.64Z"/>
<path d="M378.23 319.57L382.03 319.57L380.13 323.18Z"/>
<path d="M380.13 318.89L383.93 318.89L382.03 322.50Z"/>
<path d="M382.04 318.51L385.84 318.51L383.94 322.12Z"/>
<path d="M383.95 319.13L387.75 319.13L385.85 322.74Z"/>
<path d="M385.87 318.94L389.67 318.94L387.77 322.55Z"/>
<path d="M387.79 318.95L391.59 318.95L389.69 322.56Z"/>
<path d="M389.71 318.55L393.51 318.55L391.61 322.16Z"/>
<path d="M391.63 318.09L395.43 318.09L393.53 321.70Z"/>
<path d="M393.56 318.41L397.36 318.41L395.46 322.02Z"/>
<path d="M395.49 318.02L399.29 318.02L397.39 321.63Z"/>
<path d="M397.42 317.49L401.22 317.49L399.32 321.10Z"/>
<path d="M399.35 317.44L403.15 317.44L401.25 321.05Z"/>
<path d="M401.29 316.92L405.09 316.92L403.19 320.53Z"/>
<path d="M403.24 316.73L407.04 316.73L405.14 320.34Z"/>
<path d="M405.18 317.11L408.98 317.11L407.08 320.72Z"/>
<path d="M407.13 316.79L410.93 316.79L409.03 320.40Z"/>
<path d="M409.08 316.50L412.88 316.50L410.98 320.11Z"/>
<path d="M411.03 316.80L414.83 316.80L412.93 320.41Z"/>
<path d="M412.99 316.22L416.79 316.22L414.89 319.83Z"/>
<path d="M414.95 316.15L418.75 316.15L416.85 319.76Z"/>
<path d="M416.92 315.66L420.72 315.66L418.82 319.27Z"/>
<path d="M418.88 315.45L422.68 315.45L420.78 319.06Z"/>
<path d="M420.85 314.94L424.65 314.94L422.75 318.55Z"/>
<path d="M422.83 314.91L426.63 314.91L424.73 318.52Z"/>
<path d="M424.80 314.60L428.60 314.60L426.70 318.21Z"/>
<path d="M426.78 314.73L430.58 314.73L428.68 318.34Z"/>
<path d="M428.76 314.18L432.56 314.18L430.66 317.79Z"/>
<path d="M430.75 313.41L434.55 313.41L432.65 317.02Z"/>
<path d="M432.74 313.07L436.54 313.07L434.64 316.68Z"/>
<path d="M434.73 312.54L438.53 312.54L436.63 316.15Z"/>
<path d="M436.72 312.90L440.52 312.90L438.62 316.51Z"/>
<path d="M438.72 312.75L442.52 312.75L440.62 316.36Z"/>
<path d="M440.72 312.37L444.52 312.37L442.62 315.98Z"/>
<path d="M442.73 311.66L446.53 311.66L444.63 315.27Z"/>
<path d="M444.74 311.09L448.54 311.09L446.64 314.70Z"/>
<path d="M446.75 310.41L450.55 310.41L448.65 314.02Z"/>
<path d="M448.76 311.50L452.56 311.50L450.66 315.11Z"/>
<path d="M450.78 311.06L454.58 311.06L452.68 314.67Z"/>
<path d="M452.80 311.63L456.60 311.63L454.70 315.24Z"/>
<path d="M454.82 311.40L458.62 311.40L456.72 315.01Z"/>
<path d="M456.85 311.83L460.65 311.83L458.75 315.44Z"/>
<path d="M458.88 311.86L462.68 311.86L460.78 315.47Z"/>
<path d="M460.91 311.69L464.71 311.69L462.81 315.30Z"/>
<path d="M462.95 311.89L466.75 311.89L464.85 315.50Z"/>
<path d="M464.99 312.09L468.79 312.09L466.89 315.70Z"/>
<path d="M467.03 311.82L470.83 311.82L468.93 315.43Z"/>
<path d="M469.08 311.44L472.88 311.44L470.98 315.05Z"/>
<path d="M471.13 311.54L474.93 311.54L473.03 315.15Z"/>
<path d="M473.18 311.89L476.98 311.89L475.08 315.50Z"/>
<path d="M475.23 312.47L479.03 312.47L477.13 316.08Z"/>
<path d="M477.29 312.86L481.09 312.86L479.19 316.47Z"/>
<path d="M479.35 312.98L483.15 312.98L481.25 316.59Z"/>
<path d="M481.42 312.91L485.22 312.91L483.32 316.52Z"/>
<path d="M483.49 313.61L487.29 313.61L485.39 317.22Z"/>
<path d="M485.56 313.88L489.36 313.88L487.46 317.49Z"/>
<path d="M487.64 314.35L491.44 314.35L489.54 317.96Z"/>
<path d="M489.72 315.02L493.52 315.02L491.62 318.63Z"/>
<path d="M491.80 315.27L495.60 315.27L493.70 318.88Z"/>
<path d="M493.88 315.44L497.68 315.44L495.78 319.05Z"/>
<path d="M495.97 315.18L499.77 315.18L497.87 318.79Z"/>
<path d="M498.06 315.21L501.86 315.21L499.96 318.82Z"/>
<path d="M500.16 314.75L503.96 314.75L502.06 318.36Z"/>
</g>
<g fill="#fff" fill-opacity="0.38" stroke="#22aae8" stroke-width="0.5">
<path d="M313.50 321.62L315.30 321.38L317.10 321.54L318.91 321.57L320.72 322.22L322.53 321.61L324.34 321.04L326.16 321.35L327.98 320.99L329.80 321.38L331.63 321.23L333.46 320.76L335.29 321.10L337.12 321.05L338.96 320.97L340.80 320.98L342.64 320.03L344.49 319.59L346.34 320.14L348.19 320.12L350.05 320.45L351.90 320.37L353.77 319.81L355.63 318.86L357.50 319.38L359.37 318.49L361.24 318.15L363.11 317.84L364.99 318.10L366.87 317.42L368.76 317.54L370.65 318.07L372.54 317.88L374.43 317.50L376.33 316.98L378.23 316.46L380.13 316.15L382.03 315.72L383.94 315.57L385.85 315.38L387.77 315.30L389.69 315.47L391.61 315.36L393.53 315.17L395.46 314.38L397.39 313.93L399.32 313.08L401.25 312.80L403.19 312.48L405.14 311.52L407.08 311.46L409.03 310.77L410.98 310.47L412.93 310.52L414.89 310.41L416.85 310.79L418.82 310.01L420.78 309.65L422.75 309.20L424.73 308.21L426.70 308.02L428.68 306.64L430.66 306.65L432.65 306.27L434.64 306.92L436.63 307.32L438.62 307.88L440.62 307.43L442.62 307.50L444.63 307.23L446.64 308.23L448.65 308.13L450.66 308.90L452.68 309.46L454.70 310.61L456.72 311.46L458.75 311.45L460.78 312.11L462.81 312.68L464.85 313.77L466.89 314.69L468.93 315.45L470.98 316.65L473.03 316.19L475.08 317.05L477.13 317.98L479.19 318.71L481.25 318.73L483.32 319.14L485.39 319.60L487.46 319.90L489.54 320.42L491.62 320.11L493.70 320.08L495.78 320.48L497.87 321.11L499.96 321.84L502.06 322.17" stroke-width="0.45" fill="none"/>
<path stroke-width="0.6" d="M311.50 319.63L315.50 323.62M311.50 323.62L315.50 319.63"/>
<path stroke-width="0.6" d="M313.31 319.38L317.30 323.37M313.31 323.37L317.30 319.38"/>
<path stroke-width="0.6" d="M315.11 319.55L319.10 323.54M315.11 323.54L319.10 319.55"/>
<path stroke-width="0.6" d="M316.91 319.58L320.90 323.57M316.91 323.57L320.90 319.58"/>
<path stroke-width="0.6" d="M318.72 320.22L322.71 324.21M318.72 324.21L322.71 320.22"/>
<path stroke-width="0.6" d="M320.53 319.62L324.52 323.61M320.53 323.61L324.52 319.62"/>
<path stroke-width="0.6" d="M322.35 319.05L326.34 323.04M322.35 323.04L326.34 319.05"/>
<path stroke-width="0.6" d="M324.16 319.35L328.15 323.34M324.16 323.34L328.15 319.35"/>
<path stroke-width="0.6" d="M325.99 319.00L329.98 322.99M325.99 322.99L329.98 319.00"/>
<path stroke-width="0.6" d="M327.81 319.39L331.80 323.38M327.81 323.38L331.80 319.39"/>
<path stroke-width="0.6" d="M329.63 319.23L333.62 323.22M329.63 323.22L333.62 319.23"/>
<path stroke-width="0.6" d="M331.46 318.76L335.45 322.75M331.46 322.75L335.45 318.76"/>
<path stroke-width="0.6" d="M333.29 319.10L337.28 323.09M333.29 323.09L337.28 319.10"/>
<path stroke-width="0.6" d="M335.13 319.06L339.12 323.05M335.13 323.05L339.12 319.06"/>
<path stroke-width="0.6" d="M336.97 318.97L340.96 322.96M336.97 322.96L340.96 318.97"/>
<path stroke-width="0.6" d="M338.81 318.99L342.80 322.98M338.81 322.98L342.80 318.99"/>
<path stroke-width="0.6" d="M340.65 318.03L344.64 322.02M340.65 322.02L344.64 318.03"/>
<path stroke-width="0.6" d="M342.50 317.59L346.49 321.58M342.50 321.58L346.49 317.59"/>
<path stroke-width="0.6" d="M344.34 318.15L348.33 322.14M344.34 322.14L348.33 318.15"/>
<path stroke-width="0.6" d="M346.20 318.13L350.19 322.12M346.20 322.12L350.19 318.13"/>
<path stroke-width="0.6" d="M348.05 318.46L352.04 322.45M348.05 322.45L352.04 318.46"/>
<path stroke-width="0.6" d="M349.91 318.38L353.90 322.37M349.91 322.37L353.90 318.38"/>
<path stroke-width="0.6" d="M351.77 317.81L355.76 321.80M351.77 321.80L355.76 317.81"/>
<path stroke-width="0.6" d="M353.63 316.87L357.62 320.86M353.63 320.86L357.62 316.87"/>
<path stroke-width="0.6" d="M355.50 317.38L359.49 321.37M355.50 321.37L359.49 317.38"/>
<path stroke-width="0.6" d="M357.37 316.50L361.36 320.49M357.37 320.49L361.36 316.50"/>
<path stroke-width="0.6" d="M359.24 316.15L363.23 320.14M359.24 320.14L363.23 316.15"/>
<path stroke-width="0.6" d="M361.12 315.85L365.11 319.84M361.12 319.84L365.11 315.85"/>
<path stroke-width="0.6" d="M363.00 316.10L366.99 320.09M363.00 320.09L366.99 316.10"/>
<path stroke-width="0.6" d="M364.88 315.43L368.87 319.42M364.88 319.42L368.87 315.43"/>
<path stroke-width="0.6" d="M366.76 315.54L370.75 319.53M366.76 319.53L370.75 315.54"/>
<path stroke-width="0.6" d="M368.65 316.08L372.64 320.07M368.65 320.07L372.64 316.08"/>
<path stroke-width="0.6" d="M370.54 315.89L374.53 319.88M370.54 319.88L374.53 315.89"/>
<path stroke-width="0.6" d="M372.43 315.51L376.42 319.50M372.43 319.50L376.42 315.51"/>
<path stroke-width="0.6" d="M374.33 314.98L378.32 318.97M374.33 318.97L378.32 314.98"/>
<path stroke-width="0.6" d="M376.23 314.47L380.22 318.46M376.23 318.46L380.22 314.47"/>
<path stroke-width="0.6" d="M378.13 314.16L382.12 318.15M378.13 318.15L382.12 314.16"/>
<path stroke-width="0.6" d="M380.04 313.73L384.03 317.72M380.04 317.72L384.03 313.73"/>
<path stroke-width="0.6" d="M381.95 313.58L385.94 317.57M381.95 317.57L385.94 313.58"/>
<path stroke-width="0.6" d="M383.86 313.38L387.85 317.37M383.86 317.37L387.85 313.38"/>
<path stroke-width="0.6" d="M385.77 313.31L389.76 317.30M385.77 317.30L389.76 313.31"/>
<path stroke-width="0.6" d="M387.69 313.47L391.68 317.46M387.69 317.46L391.68 313.47"/>
<path stroke-width="0.6" d="M389.61 313.36L393.60 317.35M389.61 317.35L393.60 313.36"/>
<path stroke-width="0.6" d="M391.53 313.17L395.52 317.16M391.53 317.16L395.52 313.17"/>
<path stroke-width="0.6" d="M393.46 312.38L397.45 316.37M393.46 316.37L397.45 312.38"/>
<path stroke-width="0.6" d="M395.39 311.93L399.38 315.92M395.39 315.92L399.38 311.93"/>
<path stroke-width="0.6" d="M397.32 311.08L401.31 315.07M397.32 315.07L401.31 311.08"/>
<path stroke-width="0.6" d="M399.26 310.81L403.25 314.80M399.26 314.80L403.25 310.81"/>
<path stroke-width="0.6" d="M401.20 310.48L405.19 314.47M401.20 314.47L405.19 310.48"/>
<path stroke-width="0.6" d="M403.14 309.52L407.13 313.51M403.14 313.51L407.13 309.52"/>
<path stroke-width="0.6" d="M405.09 309.46L409.08 313.45M405.09 313.45L409.08 309.46"/>
<path stroke-width="0.6" d="M407.03 308.78L411.02 312.77M407.03 312.77L411.02 308.78"/>
<path stroke-width="0.6" d="M408.99 308.47L412.98 312.46M408.99 312.46L412.98 308.47"/>
<path stroke-width="0.6" d="M410.94 308.53L414.93 312.52M410.94 312.52L414.93 308.53"/>
<path stroke-width="0.6" d="M412.90 308.42L416.89 312.41M412.90 312.41L416.89 308.42"/>
<path stroke-width="0.6" d="M414.86 308.80L418.85 312.79M414.86 312.79L418.85 308.80"/>
<path stroke-width="0.6" d="M416.82 308.02L420.81 312.01M416.82 312.01L420.81 308.02"/>
<path stroke-width="0.6" d="M418.79 307.66L422.78 311.65M418.79 311.65L422.78 307.66"/>
<path stroke-width="0.6" d="M420.76 307.20L424.75 311.19M420.76 311.19L424.75 307.20"/>
<path stroke-width="0.6" d="M422.73 306.21L426.72 310.20M422.73 310.20L426.72 306.21"/>
<path stroke-width="0.6" d="M424.71 306.03L428.70 310.02M424.71 310.02L428.70 306.03"/>
<path stroke-width="0.6" d="M426.69 304.65L430.68 308.64M426.69 308.64L430.68 304.65"/>
<path stroke-width="0.6" d="M428.67 304.65L432.66 308.64M428.67 308.64L432.66 304.65"/>
<path stroke-width="0.6" d="M430.65 304.28L434.64 308.27M430.65 308.27L434.64 304.28"/>
<path stroke-width="0.6" d="M432.64 304.93L436.63 308.92M432.64 308.92L436.63 304.93"/>
<path stroke-width="0.6" d="M434.63 305.32L438.62 309.31M434.63 309.31L438.62 305.32"/>
<path stroke-width="0.6" d="M436.63 305.88L440.62 309.87M436.63 309.87L440.62 305.88"/>
<path stroke-width="0.6" d="M438.63 305.44L442.62 309.43M438.63 309.43L442.62 305.44"/>
<path stroke-width="0.6" d="M440.63 305.50L444.62 309.49M440.63 309.49L444.62 305.50"/>
<path stroke-width="0.6" d="M442.63 305.23L446.62 309.22M442.63 309.22L446.62 305.23"/>
<path stroke-width="0.6" d="M444.64 306.23L448.63 310.22M444.64 310.22L448.63 306.23"/>
<path stroke-width="0.6" d="M446.65 306.13L450.64 310.12M446.65 310.12L450.64 306.13"/>
<path stroke-width="0.6" d="M448.67 306.91L452.66 310.90M448.67 310.90L452.66 306.91"/>
<path stroke-width="0.6" d="M450.68 307.47L454.67 311.46M450.68 311.46L454.67 307.47"/>
<path stroke-width="0.6" d="M452.70 308.62L456.69 312.61M452.70 312.61L456.69 308.62"/>
<path stroke-width="0.6" d="M454.73 309.47L458.72 313.46M454.73 313.46L458.72 309.47"/>
<path stroke-width="0.6" d="M456.75 309.45L460.74 313.44M456.75 313.44L460.74 309.45"/>
<path stroke-width="0.6" d="M458.78 310.11L462.77 314.10M458.78 314.10L462.77 310.11"/>
<path stroke-width="0.6" d="M460.82 310.69L464.81 314.68M460.82 314.68L464.81 310.69"/>
<path stroke-width="0.6" d="M462.85 311.78L466.84 315.77M462.85 315.77L466.84 311.78"/>
<path stroke-width="0.6" d="M464.89 312.69L468.88 316.68M464.89 316.68L468.88 312.69"/>
<path stroke-width="0.6" d="M466.93 313.45L470.92 317.44M466.93 317.44L470.92 313.45"/>
<path stroke-width="0.6" d="M468.98 314.66L472.97 318.65M468.98 318.65L472.97 314.66"/>
<path stroke-width="0.6" d="M471.03 314.20L475.02 318.19M471.03 318.19L475.02 314.20"/>
<path stroke-width="0.6" d="M473.08 315.05L477.07 319.04M473.08 319.04L477.07 315.05"/>
<path stroke-width="0.6" d="M475.14 315.98L479.13 319.97M475.14 319.97L479.13 315.98"/>
<path stroke-width="0.6" d="M477.20 316.72L481.19 320.71M477.20 320.71L481.19 316.72"/>
<path stroke-width="0.6" d="M479.26 316.74L483.25 320.73M479.26 320.73L483.25 316.74"/>
<path stroke-width="0.6" d="M481.33 317.15L485.32 321.14M481.33 321.14L485.32 317.15"/>
<path stroke-width="0.6" d="M483.39 317.61L487.38 321.60M483.39 321.60L487.38 317.61"/>
<path stroke-width="0.6" d="M485.47 317.91L489.46 321.90M485.47 321.90L489.46 317.91"/>
<path stroke-width="0.6" d="M487.54 318.43L491.53 322.42M487.54 322.42L491.53 318.43"/>
<path stroke-width="0.6" d="M489.62 318.12L493.61 322.11M489.62 322.11L493.61 318.12"/>
<path stroke-width="0.6" d="M491.70 318.09L495.69 322.08M491.70 322.08L495.69 318.09"/>
<path stroke-width="0.6" d="M493.79 318.48L497.78 322.47M493.79 322.47L497.78 318.48"/>
<path stroke-width="0.6" d="M495.88 319.12L499.87 323.11M495.88 323.11L499.87 319.12"/>
<path stroke-width="0.6" d="M497.97 319.84L501.96 323.83M497.97 323.83L501.96 319.84"/>
<path stroke-width="0.6" d="M500.06 320.18L504.05 324.17M500.06 324.17L504.05 320.18"/>
</g>
<g fill="#fff" fill-opacity="0.38" stroke="#2f9540" stroke-width="0.5">
<path d="M313.50 319.45L315.30 319.37L317.10 319.65L318.91 319.41L320.72 319.04L322.53 318.94L324.34 318.83L326.16 319.22L327.98 318.96L329.80 319.06L331.63 318.64L333.46 318.01L335.29 317.35L337.12 317.52L338.96 316.92L340.80 316.81L342.64 316.42L344.49 316.13L346.34 316.48L348.19 316.12L350.05 315.58L351.90 315.28L353.77 314.84L355.63 314.46L357.50 314.21L359.37 314.44L361.24 313.98L363.11 313.30L364.99 312.76L366.87 311.76L368.76 311.03L370.65 310.71L372.54 310.09L374.43 309.55L376.33 309.36L378.23 308.93L380.13 308.21L382.03 307.71L383.94 306.47L385.85 305.91L387.77 305.01L389.69 304.14L391.61 303.45L393.53 302.40L395.46 301.10L397.39 300.78L399.32 299.64L401.25 299.22L403.19 298.32L405.14 297.32L407.08 296.17L409.03 295.27L410.98 294.62L412.93 294.59L414.89 294.65L416.85 295.55L418.82 296.70L420.78 298.25L422.75 301.03L424.73 302.35L426.70 303.81L428.68 306.44L430.66 307.75L432.65 309.70L434.64 311.34L436.63 312.46L438.62 313.55L440.62 314.60L442.62 315.53L444.63 316.13L446.64 316.79L448.65 317.54L450.66 318.10L452.68 318.44L454.70 319.03L456.72 319.43L458.75 319.67L460.78 320.29L462.81 320.19L464.85 320.68L466.89 320.92L468.93 321.36L470.98 321.28L473.03 320.75L475.08 320.53L477.13 320.54L479.19 321.11L481.25 321.51L483.32 321.74L485.39 321.73L487.46 322.54L489.54 322.58L491.62 322.46L493.70 322.60L495.78 323.01L497.87 323.43L499.96 323.48L502.06 323.54" stroke-width="0.45" fill="none"/>
<rect x="311.60" y="317.55" width="3.80" height="3.80"/>
<rect x="313.40" y="317.47" width="3.80" height="3.80"/>
<rect x="315.20" y="317.75" width="3.80" height="3.80"/>
<rect x="317.01" y="317.51" width="3.80" height="3.80"/>
<rect x="318.82" y="317.14" width="3.80" height="3.80"/>
<rect x="320.63" y="317.04" width="3.80" height="3.80"/>
<rect x="322.44" y="316.93" width="3.80" height="3.80"/>
<rect x="324.26" y="317.32" width="3.80" height="3.80"/>
<rect x="326.08" y="317.06" width="3.80" height="3.80"/>
<rect x="327.90" y="317.16" width="3.80" height="3.80"/>
<rect x="329.73" y="316.74" width="3.80" height="3.80"/>
<rect x="331.56" y="316.11" width="3.80" height="3.80"/>
<rect x="333.39" y="315.45" width="3.80" height="3.80"/>
<rect x="335.22" y="315.62" width="3.80" height="3.80"/>
<rect x="337.06" y="315.02" width="3.80" height="3.80"/>
<rect x="338.90" y="314.91" width="3.80" height="3.80"/>
<rect x="340.74" y="314.52" width="3.80" height="3.80"/>
<rect x="342.59" y="314.23" width="3.80" height="3.80"/>
<rect x="344.44" y="314.58" width="3.80" height="3.80"/>
<rect x="346.29" y="314.22" width="3.80" height="3.80"/>
<rect x="348.15" y="313.68" width="3.80" height="3.80"/>
<rect x="350.00" y="313.38" width="3.80" height="3.80"/>
<rect x="351.87" y="312.94" width="3.80" height="3.80"/>
<rect x="353.73" y="312.56" width="3.80" height="3.80"/>
<rect x="355.60" y="312.31" width="3.80" height="3.80"/>
<rect x="357.47" y="312.54" width="3.80" height="3.80"/>
<rect x="359.34" y="312.08" width="3.80" height="3.80"/>
<rect x="361.21" y="311.40" width="3.80" height="3.80"/>
<rect x="363.09" y="310.86" width="3.80" height="3.80"/>
<rect x="364.97" y="309.86" width="3.80" height="3.80"/>
<rect x="366.86" y="309.13" width="3.80" height="3.80"/>
<rect x="368.75" y="308.81" width="3.80" height="3.80"/>
<rect x="370.64" y="308.19" width="3.80" height="3.80"/>
<rect x="372.53" y="307.65" width="3.80" height="3.80"/>
<rect x="374.43" y="307.46" width="3.80" height="3.80"/>
<rect x="376.33" y="307.03" width="3.80" height="3.80"/>
<rect x="378.23" y="306.31" width="3.80" height="3.80"/>
<rect x="380.13" y="305.81" width="3.80" height="3.80"/>
<rect x="382.04" y="304.57" width="3.80" height="3.80"/>
<rect x="383.95" y="304.01" width="3.80" height="3.80"/>
<rect x="385.87" y="303.11" width="3.80" height="3.80"/>
<rect x="387.79" y="302.24" width="3.80" height="3.80"/>
<rect x="389.71" y="301.55" width="3.80" height="3.80"/>
<rect x="391.63" y="300.50" width="3.80" height="3.80"/>
<rect x="393.56" y="299.20" width="3.80" height="3.80"/>
<rect x="395.49" y="298.88" width="3.80" height="3.80"/>
<rect x="397.42" y="297.74" width="3.80" height="3.80"/>
<rect x="399.35" y="297.32" width="3.80" height="3.80"/>
<rect x="401.29" y="296.42" width="3.80" height="3.80"/>
<rect x="403.24" y="295.42" width="3.80" height="3.80"/>
<rect x="405.18" y="294.27" width="3.80" height="3.80"/>
<rect x="407.13" y="293.37" width="3.80" height="3.80"/>
<rect x="409.08" y="292.72" width="3.80" height="3.80"/>
<rect x="411.03" y="292.69" width="3.80" height="3.80"/>
<rect x="412.99" y="292.75" width="3.80" height="3.80"/>
<rect x="414.95" y="293.65" width="3.80" height="3.80"/>
<rect x="416.92" y="294.80" width="3.80" height="3.80"/>
<rect x="418.88" y="296.35" width="3.80" height="3.80"/>
<rect x="420.85" y="299.13" width="3.80" height="3.80"/>
<rect x="422.83" y="300.45" width="3.80" height="3.80"/>
<rect x="424.80" y="301.91" width="3.80" height="3.80"/>
<rect x="426.78" y="304.54" width="3.80" height="3.80"/>
<rect x="428.76" y="305.85" width="3.80" height="3.80"/>
<rect x="430.75" y="307.80" width="3.80" height="3.80"/>
<rect x="432.74" y="309.44" width="3.80" height="3.80"/>
<rect x="434.73" y="310.56" width="3.80" height="3.80"/>
<rect x="436.72" y="311.65" width="3.80" height="3.80"/>
<rect x="438.72" y="312.70" width="3.80" height="3.80"/>
<rect x="440.72" y="313.63" width="3.80" height="3.80"/>
<rect x="442.73" y="314.23" width="3.80" height="3.80"/>
<rect x="444.74" y="314.89" width="3.80" height="3.80"/>
<rect x="446.75" y="315.64" width="3.80" height="3.80"/>
<rect x="448.76" y="316.20" width="3.80" height="3.80"/>
<rect x="450.78" y="316.54" width="3.80" height="3.80"/>
<rect x="452.80" y="317.13" width="3.80" height="3.80"/>
<rect x="454.82" y="317.53" width="3.80" height="3.80"/>
<rect x="456.85" y="317.77" width="3.80" height="3.80"/>
<rect x="458.88" y="318.39" width="3.80" height="3.80"/>
<rect x="460.91" y="318.29" width="3.80" height="3.80"/>
<rect x="462.95" y="318.78" width="3.80" height="3.80"/>
<rect x="464.99" y="319.02" width="3.80" height="3.80"/>
<rect x="467.03" y="319.46" width="3.80" height="3.80"/>
<rect x="469.08" y="319.38" width="3.80" height="3.80"/>
<rect x="471.13" y="318.85" width="3.80" height="3.80"/>
<rect x="473.18" y="318.63" width="3.80" height="3.80"/>
<rect x="475.23" y="318.64" width="3.80" height="3.80"/>
<rect x="477.29" y="319.21" width="3.80" height="3.80"/>
<rect x="479.35" y="319.61" width="3.80" height="3.80"/>
<rect x="481.42" y="319.84" width="3.80" height="3.80"/>
<rect x="483.49" y="319.83" width="3.80" height="3.80"/>
<rect x="485.56" y="320.64" width="3.80" height="3.80"/>
<rect x="487.64" y="320.68" width="3.80" height="3.80"/>
<rect x="489.72" y="320.56" width="3.80" height="3.80"/>
<rect x="491.80" y="320.70" width="3.80" height="3.80"/>
<rect x="493.88" y="321.11" width="3.80" height="3.80"/>
<rect x="495.97" y="321.53" width="3.80" height="3.80"/>
<rect x="498.06" y="321.58" width="3.80" height="3.80"/>
<rect x="500.16" y="321.64" width="3.80" height="3.80"/>
</g>
<g fill="#fff" fill-opacity="0.38" stroke="#ee6c1c" stroke-width="0.5">
<path d="M313.50 319.34L315.30 318.92L317.10 318.44L318.91 318.20L320.72 318.05L322.53 318.01L324.34 318.10L326.16 318.08L327.98 317.73L329.80 317.15L331.63 316.74L333.46 316.47L335.29 316.99L337.12 315.85L338.96 315.46L340.80 315.32L342.64 314.71L344.49 314.52L346.34 314.18L348.19 313.80L350.05 313.20L351.90 312.26L353.77 312.04L355.63 310.73L357.50 310.43L359.37 309.95L361.24 309.14L363.11 308.68L364.99 307.28L366.87 306.66L368.76 305.25L370.65 304.89L372.54 303.62L374.43 302.27L376.33 300.75L378.23 299.86L380.13 298.22L382.03 296.71L383.94 296.33L385.85 294.53L387.77 293.17L389.69 291.06L391.61 289.51L393.53 287.72L395.46 286.35L397.39 285.14L399.32 284.93L401.25 285.47L403.19 288.66L405.14 293.10L407.08 297.12L409.03 300.29L410.98 303.24L412.93 304.89L414.89 306.71L416.85 309.18L418.82 310.87L420.78 312.60L422.75 314.36L424.73 315.50L426.70 316.15L428.68 317.00L430.66 318.45L432.65 318.53L434.64 319.38L436.63 319.28L438.62 320.21L440.62 320.69L442.62 320.69L444.63 321.02L446.64 321.49L448.65 321.73L450.66 321.86L452.68 322.62L454.70 322.96L456.72 323.03L458.75 323.28L460.78 323.96L462.81 324.51L464.85 324.60L466.89 324.21L468.93 324.61L470.98 325.12L473.03 325.46L475.08 325.63L477.13 325.68L479.19 325.40L481.25 325.70L483.32 325.54L485.39 326.16L487.46 325.65L489.54 325.82L491.62 325.96L493.70 325.61L495.78 325.35L497.87 325.37L499.96 325.54L502.06 325.87" stroke-width="0.45" fill="none"/>
<path d="M311.60 320.86L315.40 320.86L313.50 317.25Z"/>
<path d="M313.40 320.44L317.20 320.44L315.30 316.83Z"/>
<path d="M315.20 319.96L319.00 319.96L317.10 316.35Z"/>
<path d="M317.01 319.72L320.81 319.72L318.91 316.11Z"/>
<path d="M318.82 319.57L322.62 319.57L320.72 315.96Z"/>
<path d="M320.63 319.53L324.43 319.53L322.53 315.92Z"/>
<path d="M322.44 319.62L326.24 319.62L324.34 316.01Z"/>
<path d="M324.26 319.60L328.06 319.60L326.16 315.99Z"/>
<path d="M326.08 319.25L329.88 319.25L327.98 315.64Z"/>
<path d="M327.90 318.67L331.70 318.67L329.80 315.06Z"/>
<path d="M329.73 318.26L333.53 318.26L331.63 314.65Z"/>
<path d="M331.56 317.99L335.36 317.99L333.46 314.38Z"/>
<path d="M333.39 318.51L337.19 318.51L335.29 314.90Z"/>
<path d="M335.22 317.37L339.02 317.37L337.12 313.76Z"/>
<path d="M337.06 316.98L340.86 316.98L338.96 313.37Z"/>
<path d="M338.90 316.84L342.70 316.84L340.80 313.23Z"/>
<path d="M340.74 316.23L344.54 316.23L342.64 312.62Z"/>
<path d="M342.59 316.04L346.39 316.04L344.49 312.43Z"/>
<path d="M344.44 315.70L348.24 315.70L346.34 312.09Z"/>
<path d="M346.29 315.32L350.09 315.32L348.19 311.71Z"/>
<path d="M348.15 314.72L351.95 314.72L350.05 311.11Z"/>
<path d="M350.00 313.78L353.80 313.78L351.90 310.17Z"/>
<path d="M351.87 313.56L355.67 313.56L353.77 309.95Z"/>
<path d="M353.73 312.25L357.53 312.25L355.63 308.64Z"/>
<path d="M355.60 311.95L359.40 311.95L357.50 308.34Z"/>
<path d="M357.47 311.47L361.27 311.47L359.37 307.86Z"/>
<path d="M359.34 310.66L363.14 310.66L361.24 307.05Z"/>
<path d="M361.21 310.20L365.01 310.20L363.11 306.59Z"/>
<path d="M363.09 308.80L366.89 308.80L364.99 305.19Z"/>
<path d="M364.97 308.18L368.77 308.18L366.87 304.57Z"/>
<path d="M366.86 306.77L370.66 306.77L368.76 303.16Z"/>
<path d="M368.75 306.41L372.55 306.41L370.65 302.80Z"/>
<path d="M370.64 305.14L374.44 305.14L372.54 301.53Z"/>
<path d="M372.53 303.79L376.33 303.79L374.43 300.18Z"/>
<path d="M374.43 302.27L378.23 302.27L376.33 298.66Z"/>
<path d="M376.33 301.38L380.13 301.38L378.23 297.77Z"/>
<path d="M378.23 299.74L382.03 299.74L380.13 296.13Z"/>
<path d="M380.13 298.23L383.93 298.23L382.03 294.62Z"/>
<path d="M382.04 297.85L385.84 297.85L383.94 294.24Z"/>
<path d="M383.95 296.05L387.75 296.05L385.85 292.44Z"/>
<path d="M385.87 294.69L389.67 294.69L387.77 291.08Z"/>
<path d="M387.79 292.58L391.59 292.58L389.69 288.97Z"/>
<path d="M389.71 291.03L393.51 291.03L391.61 287.42Z"/>
<path d="M391.63 289.24L395.43 289.24L393.53 285.63Z"/>
<path d="M393.56 287.87L397.36 287.87L395.46 284.26Z"/>
<path d="M395.49 286.66L399.29 286.66L397.39 283.05Z"/>
<path d="M397.42 286.45L401.22 286.45L399.32 282.84Z"/>
<path d="M399.35 286.99L403.15 286.99L401.25 283.38Z"/>
<path d="M401.29 290.18L405.09 290.18L403.19 286.57Z"/>
<path d="M403.24 294.62L407.04 294.62L405.14 291.01Z"/>
<path d="M405.18 298.64L408.98 298.64L407.08 295.03Z"/>
<path d="M407.13 301.81L410.93 301.81L409.03 298.20Z"/>
<path d="M409.08 304.76L412.88 304.76L410.98 301.15Z"/>
<path d="M411.03 306.41L414.83 306.41L412.93 302.80Z"/>
<path d="M412.99 308.23L416.79 308.23L414.89 304.62Z"/>
<path d="M414.95 310.70L418.75 310.70L416.85 307.09Z"/>
<path d="M416.92 312.39L420.72 312.39L418.82 308.78Z"/>
<path d="M418.88 314.12L422.68 314.12L420.78 310.51Z"/>
<path d="M420.85 315.88L424.65 315.88L422.75 312.27Z"/>
<path d="M422.83 317.02L426.63 317.02L424.73 313.41Z"/>
<path d="M424.80 317.67L428.60 317.67L426.70 314.06Z"/>
<path d="M426.78 318.52L430.58 318.52L428.68 314.91Z"/>
<path d="M428.76 319.97L432.56 319.97L430.66 316.36Z"/>
<path d="M430.75 320.05L434.55 320.05L432.65 316.44Z"/>
<path d="M432.74 320.90L436.54 320.90L434.64 317.29Z"/>
<path d="M434.73 320.80L438.53 320.80L436.63 317.19Z"/>
<path d="M436.72 321.73L440.52 321.73L438.62 318.12Z"/>
<path d="M438.72 322.21L442.52 322.21L440.62 318.60Z"/>
<path d="M440.72 322.21L444.52 322.21L442.62 318.60Z"/>
<path d="M442.73 322.54L446.53 322.54L444.63 318.93Z"/>
<path d="M444.74 323.01L448.54 323.01L446.64 319.40Z"/>
<path d="M446.75 323.25L450.55 323.25L448.65 319.64Z"/>
<path d="M448.76 323.38L452.56 323.38L450.66 319.77Z"/>
<path d="M450.78 324.14L454.58 324.14L452.68 320.53Z"/>
<path d="M452.80 324.48L456.60 324.48L454.70 320.87Z"/>
<path d="M454.82 324.55L458.62 324.55L456.72 320.94Z"/>
<path d="M456.85 324.80L460.65 324.80L458.75 321.19Z"/>
<path d="M458.88 325.48L462.68 325.48L460.78 321.87Z"/>
<path d="M460.91 326.03L464.71 326.03L462.81 322.42Z"/>
<path d="M462.95 326.12L466.75 326.12L464.85 322.51Z"/>
<path d="M464.99 325.73L468.79 325.73L466.89 322.12Z"/>
<path d="M467.03 326.13L470.83 326.13L468.93 322.52Z"/>
<path d="M469.08 326.64L472.88 326.64L470.98 323.03Z"/>
<path d="M471.13 326.98L474.93 326.98L473.03 323.37Z"/>
<path d="M473.18 327.15L476.98 327.15L475.08 323.54Z"/>
<path d="M475.23 327.20L479.03 327.20L477.13 323.59Z"/>
<path d="M477.29 326.92L481.09 326.92L479.19 323.31Z"/>
<path d="M479.35 327.22L483.15 327.22L481.25 323.61Z"/>
<path d="M481.42 327.06L485.22 327.06L483.32 323.45Z"/>
<path d="M483.49 327.68L487.29 327.68L485.39 324.07Z"/>
<path d="M485.56 327.17L489.36 327.17L487.46 323.56Z"/>
<path d="M487.64 327.34L491.44 327.34L489.54 323.73Z"/>
<path d="M489.72 327.48L493.52 327.48L491.62 323.87Z"/>
<path d="M491.80 327.13L495.60 327.13L493.70 323.52Z"/>
<path d="M493.88 326.87L497.68 326.87L495.78 323.26Z"/>
<path d="M495.97 326.89L499.77 326.89L497.87 323.28Z"/>
<path d="M498.06 327.06L501.86 327.06L499.96 323.45Z"/>
<path d="M500.16 327.39L503.96 327.39L502.06 323.78Z"/>
</g>
<g fill="#fff" fill-opacity="0.38" stroke="#e52f36" stroke-width="0.5">
<path d="M313.50 321.38L315.30 320.64L317.10 320.47L318.91 320.01L320.72 319.48L322.53 319.18L324.34 318.80L326.16 317.90L327.98 317.70L329.80 317.05L331.63 316.94L333.46 316.15L335.29 316.06L337.12 315.44L338.96 314.89L340.80 314.25L342.64 313.97L344.49 313.53L346.34 312.30L348.19 312.00L350.05 311.17L351.90 309.96L353.77 308.70L355.63 307.87L357.50 306.39L359.37 304.56L361.24 302.30L363.11 300.17L364.99 297.42L366.87 294.07L368.76 290.58L370.65 285.82L372.54 280.22L374.30 269.00L376.20 256.00L377.90 239.70L379.70 222.70L381.60 210.50L383.60 208.00L385.40 217.20L387.10 233.90L388.90 255.60L390.60 274.80L391.61 283.41L393.53 294.82L395.46 300.84L397.39 305.07L399.32 308.91L401.25 311.46L403.19 312.91L405.14 314.31L407.08 315.37L409.03 316.19L410.98 316.84L412.93 317.26L414.89 317.79L416.85 318.20L418.82 318.80L420.78 319.20L422.75 319.66L424.73 319.84L426.70 320.31L428.68 320.56L430.66 321.35L432.65 321.05L434.64 321.37L436.63 321.51L438.62 321.84L440.62 321.75L442.62 322.28L444.63 322.54L446.64 322.92L448.65 322.79L450.66 323.25L452.68 323.51L454.70 323.70L456.72 324.17L458.75 324.34L460.78 324.68L462.81 324.73L464.85 324.92L466.89 325.26L468.93 325.35L470.98 325.46L473.03 325.61L475.08 326.00L477.13 326.09L479.19 326.37L481.25 326.17L483.32 326.03L485.39 325.70L487.46 326.13L489.54 326.18L491.62 326.25L493.70 326.32L495.78 326.13L497.87 326.45L499.96 326.31L502.06 326.82" stroke-width="0.45" fill="none"/>
<circle cx="313.50" cy="321.38" r="1.90"/>
<circle cx="315.30" cy="320.64" r="1.90"/>
<circle cx="317.10" cy="320.47" r="1.90"/>
<circle cx="318.91" cy="320.01" r="1.90"/>
<circle cx="320.72" cy="319.48" r="1.90"/>
<circle cx="322.53" cy="319.18" r="1.90"/>
<circle cx="324.34" cy="318.80" r="1.90"/>
<circle cx="326.16" cy="317.90" r="1.90"/>
<circle cx="327.98" cy="317.70" r="1.90"/>
<circle cx="329.80" cy="317.05" r="1.90"/>
<circle cx="331.63" cy="316.94" r="1.90"/>
<circle cx="333.46" cy="316.15" r="1.90"/>
<circle cx="335.29" cy="316.06" r="1.90"/>
<circle cx="337.12" cy="315.44" r="1.90"/>
<circle cx="338.96" cy="314.89" r="1.90"/>
<circle cx="340.80" cy="314.25" r="1.90"/>
<circle cx="342.64" cy="313.97" r="1.90"/>
<circle cx="344.49" cy="313.53" r="1.90"/>
<circle cx="346.34" cy="312.30" r="1.90"/>
<circle cx="348.19" cy="312.00" r="1.90"/>
<circle cx="350.05" cy="311.17" r="1.90"/>
<circle cx="351.90" cy="309.96" r="1.90"/>
<circle cx="353.77" cy="308.70" r="1.90"/>
<circle cx="355.63" cy="307.87" r="1.90"/>
<circle cx="357.50" cy="306.39" r="1.90"/>
<circle cx="359.37" cy="304.56" r="1.90"/>
<circle cx="361.24" cy="302.30" r="1.90"/>
<circle cx="363.11" cy="300.17" r="1.90"/>
<circle cx="364.99" cy="297.42" r="1.90"/>
<circle cx="366.87" cy="294.07" r="1.90"/>
<circle cx="368.76" cy="290.58" r="1.90"/>
<circle cx="370.65" cy="285.82" r="1.90"/>
<circle cx="372.54" cy="280.22" r="1.90"/>
<circle cx="374.30" cy="269.00" r="1.90"/>
<circle cx="376.20" cy="256.00" r="1.90"/>
<circle cx="377.90" cy="239.70" r="1.90"/>
<circle cx="379.70" cy="222.70" r="1.90"/>
<circle cx="381.60" cy="210.50" r="1.90"/>
<circle cx="383.60" cy="208.00" r="1.90"/>
<circle cx="385.40" cy="217.20" r="1.90"/>
<circle cx="387.10" cy="233.90" r="1.90"/>
<circle cx="388.90" cy="255.60" r="1.90"/>
<circle cx="390.60" cy="274.80" r="1.90"/>
<circle cx="391.61" cy="283.41" r="1.90"/>
<circle cx="393.53" cy="294.82" r="1.90"/>
<circle cx="395.46" cy="300.84" r="1.90"/>
<circle cx="397.39" cy="305.07" r="1.90"/>
<circle cx="399.32" cy="308.91" r="1.90"/>
<circle cx="401.25" cy="311.46" r="1.90"/>
<circle cx="403.19" cy="312.91" r="1.90"/>
<circle cx="405.14" cy="314.31" r="1.90"/>
<circle cx="407.08" cy="315.37" r="1.90"/>
<circle cx="409.03" cy="316.19" r="1.90"/>
<circle cx="410.98" cy="316.84" r="1.90"/>
<circle cx="412.93" cy="317.26" r="1.90"/>
<circle cx="414.89" cy="317.79" r="1.90"/>
<circle cx="416.85" cy="318.20" r="1.90"/>
<circle cx="418.82" cy="318.80" r="1.90"/>
<circle cx="420.78" cy="319.20" r="1.90"/>
<circle cx="422.75" cy="319.66" r="1.90"/>
<circle cx="424.73" cy="319.84" r="1.90"/>
<circle cx="426.70" cy="320.31" r="1.90"/>
<circle cx="428.68" cy="320.56" r="1.90"/>
<circle cx="430.66" cy="321.35" r="1.90"/>
<circle cx="432.65" cy="321.05" r="1.90"/>
<circle cx="434.64" cy="321.37" r="1.90"/>
<circle cx="436.63" cy="321.51" r="1.90"/>
<circle cx="438.62" cy="321.84" r="1.90"/>
<circle cx="440.62" cy="321.75" r="1.90"/>
<circle cx="442.62" cy="322.28" r="1.90"/>
<circle cx="444.63" cy="322.54" r="1.90"/>
<circle cx="446.64" cy="322.92" r="1.90"/>
<circle cx="448.65" cy="322.79" r="1.90"/>
<circle cx="450.66" cy="323.25" r="1.90"/>
<circle cx="452.68" cy="323.51" r="1.90"/>
<circle cx="454.70" cy="323.70" r="1.90"/>
<circle cx="456.72" cy="324.17" r="1.90"/>
<circle cx="458.75" cy="324.34" r="1.90"/>
<circle cx="460.78" cy="324.68" r="1.90"/>
<circle cx="462.81" cy="324.73" r="1.90"/>
<circle cx="464.85" cy="324.92" r="1.90"/>
<circle cx="466.89" cy="325.26" r="1.90"/>
<circle cx="468.93" cy="325.35" r="1.90"/>
<circle cx="470.98" cy="325.46" r="1.90"/>
<circle cx="473.03" cy="325.61" r="1.90"/>
<circle cx="475.08" cy="326.00" r="1.90"/>
<circle cx="477.13" cy="326.09" r="1.90"/>
<circle cx="479.19" cy="326.37" r="1.90"/>
<circle cx="481.25" cy="326.17" r="1.90"/>
<circle cx="483.32" cy="326.03" r="1.90"/>
<circle cx="485.39" cy="325.70" r="1.90"/>
<circle cx="487.46" cy="326.13" r="1.90"/>
<circle cx="489.54" cy="326.18" r="1.90"/>
<circle cx="491.62" cy="326.25" r="1.90"/>
<circle cx="493.70" cy="326.32" r="1.90"/>
<circle cx="495.78" cy="326.13" r="1.90"/>
<circle cx="497.87" cy="326.45" r="1.90"/>
<circle cx="499.96" cy="326.31" r="1.90"/>
<circle cx="502.06" cy="326.82" r="1.90"/>
</g>
</g>
<rect x="310.5" y="173.5" width="215.0" height="165.5" fill="none" stroke="#5a5a5a" stroke-width="0.8"/>
<path d="M310.50 339.0v-4.3M310.50 173.5v4.3M317.50 339.0v-2.1M317.50 173.5v2.1M324.50 339.0v-2.1M324.50 173.5v2.1M332.50 339.0v-2.1M332.50 173.5v2.1M339.50 339.0v-2.1M339.50 173.5v2.1M346.50 339.0v-4.3M346.50 173.5v4.3M353.50 339.0v-2.1M353.50 173.5v2.1M360.50 339.0v-2.1M360.50 173.5v2.1M367.50 339.0v-2.1M367.50 173.5v2.1M375.50 339.0v-2.1M375.50 173.5v2.1M382.50 339.0v-4.3M382.50 173.5v4.3M389.50 339.0v-2.1M389.50 173.5v2.1M396.50 339.0v-2.1M396.50 173.5v2.1M403.50 339.0v-2.1M403.50 173.5v2.1M410.50 339.0v-2.1M410.50 173.5v2.1M418.50 339.0v-4.3M418.50 173.5v4.3M425.50 339.0v-2.1M425.50 173.5v2.1M432.50 339.0v-2.1M432.50 173.5v2.1M439.50 339.0v-2.1M439.50 173.5v2.1M446.50 339.0v-2.1M446.50 173.5v2.1M453.50 339.0v-4.3M453.50 173.5v4.3M461.50 339.0v-2.1M461.50 173.5v2.1M468.50 339.0v-2.1M468.50 173.5v2.1M475.50 339.0v-2.1M475.50 173.5v2.1M482.50 339.0v-2.1M482.50 173.5v2.1M489.50 339.0v-4.3M489.50 173.5v4.3M496.50 339.0v-2.1M496.50 173.5v2.1M504.50 339.0v-2.1M504.50 173.5v2.1M511.50 339.0v-2.1M511.50 173.5v2.1M518.50 339.0v-2.1M518.50 173.5v2.1M525.50 339.0v-4.3M525.50 173.5v4.3" stroke="#5a5a5a" stroke-width="0.85" fill="none"/>
<path d="M310.5 272.50h4.3M525.5 272.50h-4.3M310.5 206.50h4.3M525.5 206.50h-4.3M310.5 325.50h2.1M525.5 325.50h-2.1M310.5 312.50h2.1M525.5 312.50h-2.1M310.5 299.50h2.1M525.5 299.50h-2.1M310.5 285.50h2.1M525.5 285.50h-2.1M310.5 259.50h2.1M525.5 259.50h-2.1M310.5 245.50h2.1M525.5 245.50h-2.1M310.5 232.50h2.1M525.5 232.50h-2.1M310.5 219.50h2.1M525.5 219.50h-2.1M310.5 192.50h2.1M525.5 192.50h-2.1M310.5 179.50h2.1M525.5 179.50h-2.1" stroke="#5a5a5a" stroke-width="0.85" fill="none"/>
<text x="305.70" y="341.40" font-size="14.5" text-anchor="end" fill="#000" >0</text>
<text x="305.70" y="274.35" font-size="14.5" text-anchor="end" fill="#000" >0.1</text>
<text x="305.70" y="207.90" font-size="14.5" text-anchor="end" fill="#000" >0.2</text>
<text x="311.30" y="353.30" font-size="14.5" text-anchor="middle" fill="#000" >9</text>
<text x="347.13" y="353.30" font-size="14.5" text-anchor="middle" fill="#000" >10</text>
<text x="382.97" y="353.30" font-size="14.5" text-anchor="middle" fill="#000" >11</text>
<text x="418.80" y="353.30" font-size="14.5" text-anchor="middle" fill="#000" >12</text>
<text x="454.63" y="353.30" font-size="14.5" text-anchor="middle" fill="#000" >13</text>
<text x="490.47" y="353.30" font-size="14.5" text-anchor="middle" fill="#000" >14</text>
<text x="526.30" y="353.30" font-size="14.5" text-anchor="middle" fill="#000" >15</text>
<text x="395.20" y="367.7" font-size="14.5" fill="#000"><tspan font-style="italic">μ</tspan><tspan font-size="10" dy="6.6">0</tspan><tspan dy="-6.6" font-style="italic">H</tspan><tspan> (T)</tspan></text>
<clipPath id="cb2"><rect x="563.5" y="171.0" width="219.0" height="170.5"/></clipPath>
<g clip-path="url(#cb2)">
<g fill="#fff" fill-opacity="0.38" stroke="#2a28de" stroke-width="0.5">
<path d="M568.50 294.70L570.25 294.50L572.00 295.00L573.76 294.61L575.51 293.80L577.27 294.43L579.03 295.11L580.80 296.09L582.56 294.57L584.33 295.19L586.10 295.64L587.88 295.77L589.65 295.78L591.43 295.62L593.21 294.87L594.99 294.70L596.78 293.99L598.57 292.71L600.35 292.60L602.15 293.56L603.94 293.48L605.74 293.20L607.54 292.93L609.34 292.26L611.14 292.77L612.95 292.78L614.76 292.42L616.57 290.64L618.38 289.53L620.20 288.98L622.01 288.98L623.83 289.50L625.66 290.30L627.48 290.61L629.31 290.65L631.14 291.66L632.97 290.63L634.81 290.19L636.64 289.43L638.48 289.15L640.33 289.88L642.17 288.48L644.02 286.23L645.87 285.05L647.72 283.70L649.57 283.45L651.43 284.44L653.29 283.65L655.15 283.21L657.01 284.26L658.88 284.61L660.75 286.20L662.62 286.73L664.49 287.34L666.37 286.66L668.25 286.46L670.13 284.90L672.01 284.31L673.90 283.02L675.79 282.32L677.68 283.24L679.57 282.94L681.47 283.65L683.37 282.73L685.27 282.09L687.17 282.22L689.08 282.62L690.99 282.52L692.90 284.01L694.81 282.58L696.73 282.73L698.65 281.98L700.57 282.70L702.49 282.94L704.42 283.08L706.35 283.97L708.28 285.04L710.21 285.08L712.15 285.18L714.09 285.87L716.03 286.60L717.97 287.10L719.92 286.82L721.87 286.70L723.82 286.60L725.77 288.02L727.73 288.19L729.69 287.98L731.65 288.12L733.62 287.59L735.58 287.37L737.55 286.60L739.53 286.74L741.50 286.55L743.48 288.05L745.46 288.85L747.44 289.75L749.43 289.76L751.41 289.81L753.40 291.80L755.40 291.28L757.39 292.18" stroke-width="0.45" fill="none"/>
<path d="M566.60 293.18L570.40 293.18L568.50 296.79Z"/>
<path d="M568.35 292.98L572.15 292.98L570.25 296.59Z"/>
<path d="M570.10 293.48L573.90 293.48L572.00 297.09Z"/>
<path d="M571.86 293.09L575.66 293.09L573.76 296.70Z"/>
<path d="M573.61 292.28L577.41 292.28L575.51 295.89Z"/>
<path d="M575.37 292.91L579.17 292.91L577.27 296.52Z"/>
<path d="M577.13 293.59L580.93 293.59L579.03 297.20Z"/>
<path d="M578.90 294.57L582.70 294.57L580.80 298.18Z"/>
<path d="M580.66 293.05L584.46 293.05L582.56 296.66Z"/>
<path d="M582.43 293.67L586.23 293.67L584.33 297.28Z"/>
<path d="M584.20 294.12L588.00 294.12L586.10 297.73Z"/>
<path d="M585.98 294.25L589.78 294.25L587.88 297.86Z"/>
<path d="M587.75 294.26L591.55 294.26L589.65 297.87Z"/>
<path d="M589.53 294.10L593.33 294.10L591.43 297.71Z"/>
<path d="M591.31 293.35L595.11 293.35L593.21 296.96Z"/>
<path d="M593.09 293.18L596.89 293.18L594.99 296.79Z"/>
<path d="M594.88 292.47L598.68 292.47L596.78 296.08Z"/>
<path d="M596.67 291.19L600.47 291.19L598.57 294.80Z"/>
<path d="M598.45 291.08L602.25 291.08L600.35 294.69Z"/>
<path d="M600.25 292.04L604.05 292.04L602.15 295.65Z"/>
<path d="M602.04 291.96L605.84 291.96L603.94 295.57Z"/>
<path d="M603.84 291.68L607.64 291.68L605.74 295.29Z"/>
<path d="M605.64 291.41L609.44 291.41L607.54 295.02Z"/>
<path d="M607.44 290.74L611.24 290.74L609.34 294.35Z"/>
<path d="M609.24 291.25L613.04 291.25L611.14 294.86Z"/>
<path d="M611.05 291.26L614.85 291.26L612.95 294.87Z"/>
<path d="M612.86 290.90L616.66 290.90L614.76 294.51Z"/>
<path d="M614.67 289.12L618.47 289.12L616.57 292.73Z"/>
<path d="M616.48 288.01L620.28 288.01L618.38 291.62Z"/>
<path d="M618.30 287.46L622.10 287.46L620.20 291.07Z"/>
<path d="M620.11 287.46L623.91 287.46L622.01 291.07Z"/>
<path d="M621.93 287.98L625.73 287.98L623.83 291.59Z"/>
<path d="M623.76 288.78L627.56 288.78L625.66 292.39Z"/>
<path d="M625.58 289.09L629.38 289.09L627.48 292.70Z"/>
<path d="M627.41 289.13L631.21 289.13L629.31 292.74Z"/>
<path d="M629.24 290.14L633.04 290.14L631.14 293.75Z"/>
<path d="M631.07 289.11L634.87 289.11L632.97 292.72Z"/>
<path d="M632.91 288.67L636.71 288.67L634.81 292.28Z"/>
<path d="M634.74 287.91L638.54 287.91L636.64 291.52Z"/>
<path d="M636.58 287.63L640.38 287.63L638.48 291.24Z"/>
<path d="M638.43 288.36L642.23 288.36L640.33 291.97Z"/>
<path d="M640.27 286.96L644.07 286.96L642.17 290.57Z"/>
<path d="M642.12 284.71L645.92 284.71L644.02 288.32Z"/>
<path d="M643.97 283.53L647.77 283.53L645.87 287.14Z"/>
<path d="M645.82 282.18L649.62 282.18L647.72 285.79Z"/>
<path d="M647.67 281.93L651.47 281.93L649.57 285.54Z"/>
<path d="M649.53 282.92L653.33 282.92L651.43 286.53Z"/>
<path d="M651.39 282.13L655.19 282.13L653.29 285.74Z"/>
<path d="M653.25 281.69L657.05 281.69L655.15 285.30Z"/>
<path d="M655.11 282.74L658.91 282.74L657.01 286.35Z"/>
<path d="M656.98 283.09L660.78 283.09L658.88 286.70Z"/>
<path d="M658.85 284.68L662.65 284.68L660.75 288.29Z"/>
<path d="M660.72 285.21L664.52 285.21L662.62 288.82Z"/>
<path d="M662.59 285.82L666.39 285.82L664.49 289.43Z"/>
<path d="M664.47 285.14L668.27 285.14L666.37 288.75Z"/>
<path d="M666.35 284.94L670.15 284.94L668.25 288.55Z"/>
<path d="M668.23 283.38L672.03 283.38L670.13 286.99Z"/>
<path d="M670.11 282.79L673.91 282.79L672.01 286.40Z"/>
<path d="M672.00 281.50L675.80 281.50L673.90 285.11Z"/>
<path d="M673.89 280.80L677.69 280.80L675.79 284.41Z"/>
<path d="M675.78 281.72L679.58 281.72L677.68 285.33Z"/>
<path d="M677.67 281.42L681.47 281.42L679.57 285.03Z"/>
<path d="M679.57 282.13L683.37 282.13L681.47 285.74Z"/>
<path d="M681.47 281.21L685.27 281.21L683.37 284.82Z"/>
<path d="M683.37 280.57L687.17 280.57L685.27 284.18Z"/>
<path d="M685.27 280.70L689.07 280.70L687.17 284.31Z"/>
<path d="M687.18 281.10L690.98 281.10L689.08 284.71Z"/>
<path d="M689.09 281.00L692.89 281.00L690.99 284.61Z"/>
<path d="M691.00 282.49L694.80 282.49L692.90 286.10Z"/>
<path d="M692.91 281.06L696.71 281.06L694.81 284.67Z"/>
<path d="M694.83 281.21L698.63 281.21L696.73 284.82Z"/>
<path d="M696.75 280.46L700.55 280.46L698.65 284.07Z"/>
<path d="M698.67 281.18L702.47 281.18L700.57 284.79Z"/>
<path d="M700.59 281.42L704.39 281.42L702.49 285.03Z"/>
<path d="M702.52 281.56L706.32 281.56L704.42 285.17Z"/>
<path d="M704.45 282.45L708.25 282.45L706.35 286.06Z"/>
<path d="M706.38 283.52L710.18 283.52L708.28 287.13Z"/>
<path d="M708.31 283.56L712.11 283.56L710.21 287.17Z"/>
<path d="M710.25 283.66L714.05 283.66L712.15 287.27Z"/>
<path d="M712.19 284.35L715.99 284.35L714.09 287.96Z"/>
<path d="M714.13 285.08L717.93 285.08L716.03 288.69Z"/>
<path d="M716.07 285.58L719.87 285.58L717.97 289.19Z"/>
<path d="M718.02 285.30L721.82 285.30L719.92 288.91Z"/>
<path d="M719.97 285.18L723.77 285.18L721.87 288.79Z"/>
<path d="M721.92 285.08L725.72 285.08L723.82 288.69Z"/>
<path d="M723.87 286.50L727.67 286.50L725.77 290.11Z"/>
<path d="M725.83 286.67L729.63 286.67L727.73 290.28Z"/>
<path d="M727.79 286.46L731.59 286.46L729.69 290.07Z"/>
<path d="M729.75 286.60L733.55 286.60L731.65 290.21Z"/>
<path d="M731.72 286.07L735.52 286.07L733.62 289.68Z"/>
<path d="M733.68 285.85L737.48 285.85L735.58 289.46Z"/>
<path d="M735.65 285.08L739.45 285.08L737.55 288.69Z"/>
<path d="M737.63 285.22L741.43 285.22L739.53 288.83Z"/>
<path d="M739.60 285.03L743.40 285.03L741.50 288.64Z"/>
<path d="M741.58 286.53L745.38 286.53L743.48 290.14Z"/>
<path d="M743.56 287.33L747.36 287.33L745.46 290.94Z"/>
<path d="M745.54 288.23L749.34 288.23L747.44 291.84Z"/>
<path d="M747.53 288.24L751.33 288.24L749.43 291.85Z"/>
<path d="M749.51 288.29L753.31 288.29L751.41 291.90Z"/>
<path d="M751.50 290.28L755.30 290.28L753.40 293.89Z"/>
<path d="M753.50 289.76L757.30 289.76L755.40 293.37Z"/>
<path d="M755.49 290.66L759.29 290.66L757.39 294.27Z"/>
</g>
<g fill="#fff" fill-opacity="0.38" stroke="#22aae8" stroke-width="0.5">
<path d="M568.50 291.69L570.25 290.35L572.00 289.15L573.76 289.73L575.51 289.14L577.27 289.84L579.03 290.07L580.80 289.24L582.56 289.77L584.33 289.17L586.10 289.16L587.88 290.04L589.65 289.36L591.43 289.48L593.21 290.07L594.99 289.08L596.78 287.96L598.57 287.23L600.35 286.05L602.15 285.41L603.94 287.66L605.74 287.10L607.54 287.07L609.34 286.58L611.14 287.69L612.95 286.79L614.76 286.89L616.57 286.72L618.38 285.33L620.20 284.29L622.01 284.46L623.83 284.91L625.66 285.41L627.48 284.15L629.31 282.95L631.14 281.43L632.97 280.49L634.81 280.63L636.64 280.97L638.48 281.90L640.33 281.95L642.17 282.99L644.02 283.00L645.87 283.96L647.72 283.73L649.57 281.79L651.43 281.05L653.29 279.06L655.15 278.21L657.01 277.80L658.88 276.88L660.75 276.93L662.62 275.26L664.49 275.62L666.37 275.98L668.25 275.48L670.13 275.77L672.01 273.80L673.90 273.70L675.79 272.40L677.68 273.83L679.57 274.94L681.47 276.59L683.37 276.61L685.27 277.84L687.17 277.98L689.08 279.72L690.99 278.96L692.90 279.38L694.81 279.18L696.73 280.17L698.65 280.61L700.57 280.10L702.49 280.70L704.42 280.99L706.35 281.10L708.28 280.78L710.21 280.80L712.15 282.85L714.09 283.01L716.03 285.17L717.97 287.27L719.92 288.09L721.87 288.03L723.82 288.76L725.77 289.68L727.73 290.17L729.69 290.93L731.65 290.60L733.62 290.62L735.58 291.16L737.55 291.48L739.53 291.88L741.50 292.13L743.48 291.63L745.46 292.11L747.44 293.16L749.43 295.66L751.41 295.23L753.40 296.33L755.40 297.93L757.39 297.21" stroke-width="0.45" fill="none"/>
<path stroke-width="0.6" d="M566.50 289.69L570.50 293.68M566.50 293.68L570.50 289.69"/>
<path stroke-width="0.6" d="M568.25 288.35L572.25 292.34M568.25 292.34L572.25 288.35"/>
<path stroke-width="0.6" d="M570.01 287.16L574.00 291.15M570.01 291.15L574.00 287.16"/>
<path stroke-width="0.6" d="M571.76 287.73L575.75 291.72M571.76 291.72L575.75 287.73"/>
<path stroke-width="0.6" d="M573.52 287.14L577.51 291.13M573.52 291.13L577.51 287.14"/>
<path stroke-width="0.6" d="M575.28 287.85L579.27 291.84M575.28 291.84L579.27 287.85"/>
<path stroke-width="0.6" d="M577.04 288.08L581.03 292.07M577.04 292.07L581.03 288.08"/>
<path stroke-width="0.6" d="M578.80 287.24L582.79 291.23M578.80 291.23L582.79 287.24"/>
<path stroke-width="0.6" d="M580.57 287.78L584.56 291.77M580.57 291.77L584.56 287.78"/>
<path stroke-width="0.6" d="M582.34 287.17L586.33 291.16M582.34 291.16L586.33 287.17"/>
<path stroke-width="0.6" d="M584.11 287.17L588.10 291.16M584.11 291.16L588.10 287.17"/>
<path stroke-width="0.6" d="M585.88 288.05L589.87 292.04M585.88 292.04L589.87 288.05"/>
<path stroke-width="0.6" d="M587.66 287.36L591.65 291.35M587.66 291.35L591.65 287.36"/>
<path stroke-width="0.6" d="M589.44 287.49L593.43 291.48M589.44 291.48L593.43 287.49"/>
<path stroke-width="0.6" d="M591.22 288.07L595.21 292.06M591.22 292.06L595.21 288.07"/>
<path stroke-width="0.6" d="M593.00 287.08L596.99 291.07M593.00 291.07L596.99 287.08"/>
<path stroke-width="0.6" d="M594.78 285.97L598.77 289.96M594.78 289.96L598.77 285.97"/>
<path stroke-width="0.6" d="M596.57 285.23L600.56 289.22M596.57 289.22L600.56 285.23"/>
<path stroke-width="0.6" d="M598.36 284.06L602.35 288.05M598.36 288.05L602.35 284.06"/>
<path stroke-width="0.6" d="M600.15 283.41L604.14 287.40M600.15 287.40L604.14 283.41"/>
<path stroke-width="0.6" d="M601.95 285.66L605.94 289.65M601.95 289.65L605.94 285.66"/>
<path stroke-width="0.6" d="M603.74 285.10L607.73 289.09M603.74 289.09L607.73 285.10"/>
<path stroke-width="0.6" d="M605.54 285.08L609.53 289.07M605.54 289.07L609.53 285.08"/>
<path stroke-width="0.6" d="M607.34 284.59L611.33 288.58M607.34 288.58L611.33 284.59"/>
<path stroke-width="0.6" d="M609.15 285.70L613.14 289.69M609.15 289.69L613.14 285.70"/>
<path stroke-width="0.6" d="M610.95 284.80L614.94 288.79M610.95 288.79L614.94 284.80"/>
<path stroke-width="0.6" d="M612.76 284.90L616.75 288.89M612.76 288.89L616.75 284.90"/>
<path stroke-width="0.6" d="M614.57 284.72L618.56 288.71M614.57 288.71L618.56 284.72"/>
<path stroke-width="0.6" d="M616.38 283.34L620.37 287.33M616.38 287.33L620.37 283.34"/>
<path stroke-width="0.6" d="M618.20 282.30L622.19 286.29M618.20 286.29L622.19 282.30"/>
<path stroke-width="0.6" d="M620.02 282.46L624.01 286.45M620.02 286.45L624.01 282.46"/>
<path stroke-width="0.6" d="M621.84 282.91L625.83 286.90M621.84 286.90L625.83 282.91"/>
<path stroke-width="0.6" d="M623.66 283.42L627.65 287.41M623.66 287.41L627.65 283.42"/>
<path stroke-width="0.6" d="M625.49 282.16L629.48 286.15M625.49 286.15L629.48 282.16"/>
<path stroke-width="0.6" d="M627.31 280.95L631.30 284.94M627.31 284.94L631.30 280.95"/>
<path stroke-width="0.6" d="M629.14 279.43L633.13 283.42M629.14 283.42L633.13 279.43"/>
<path stroke-width="0.6" d="M630.98 278.50L634.97 282.49M630.98 282.49L634.97 278.50"/>
<path stroke-width="0.6" d="M632.81 278.63L636.80 282.62M632.81 282.62L636.80 278.63"/>
<path stroke-width="0.6" d="M634.65 278.98L638.64 282.97M634.65 282.97L638.64 278.98"/>
<path stroke-width="0.6" d="M636.49 279.90L640.48 283.89M636.49 283.89L640.48 279.90"/>
<path stroke-width="0.6" d="M638.33 279.96L642.32 283.95M638.33 283.95L642.32 279.96"/>
<path stroke-width="0.6" d="M640.17 281.00L644.16 284.99M640.17 284.99L644.16 281.00"/>
<path stroke-width="0.6" d="M642.02 281.00L646.01 284.99M642.02 284.99L646.01 281.00"/>
<path stroke-width="0.6" d="M643.87 281.96L647.86 285.95M643.87 285.95L647.86 281.96"/>
<path stroke-width="0.6" d="M645.72 281.73L649.71 285.72M645.72 285.72L649.71 281.73"/>
<path stroke-width="0.6" d="M647.58 279.79L651.57 283.78M647.58 283.78L651.57 279.79"/>
<path stroke-width="0.6" d="M649.43 279.06L653.42 283.05M649.43 283.05L653.42 279.06"/>
<path stroke-width="0.6" d="M651.29 277.07L655.28 281.06M651.29 281.06L655.28 277.07"/>
<path stroke-width="0.6" d="M653.15 276.21L657.14 280.20M653.15 280.20L657.14 276.21"/>
<path stroke-width="0.6" d="M655.02 275.81L659.01 279.80M655.02 279.80L659.01 275.81"/>
<path stroke-width="0.6" d="M656.88 274.88L660.87 278.87M656.88 278.87L660.87 274.88"/>
<path stroke-width="0.6" d="M658.75 274.93L662.74 278.92M658.75 278.92L662.74 274.93"/>
<path stroke-width="0.6" d="M660.62 273.27L664.61 277.26M660.62 277.26L664.61 273.27"/>
<path stroke-width="0.6" d="M662.50 273.63L666.49 277.62M662.50 277.62L666.49 273.63"/>
<path stroke-width="0.6" d="M664.37 273.98L668.36 277.97M664.37 277.97L668.36 273.98"/>
<path stroke-width="0.6" d="M666.25 273.49L670.24 277.48M666.25 277.48L670.24 273.49"/>
<path stroke-width="0.6" d="M668.13 273.77L672.12 277.76M668.13 277.76L672.12 273.77"/>
<path stroke-width="0.6" d="M670.02 271.80L674.01 275.79M670.02 275.79L674.01 271.80"/>
<path stroke-width="0.6" d="M671.90 271.71L675.89 275.70M671.90 275.70L675.89 271.71"/>
<path stroke-width="0.6" d="M673.79 270.41L677.78 274.40M673.79 274.40L677.78 270.41"/>
<path stroke-width="0.6" d="M675.68 271.84L679.67 275.83M675.68 275.83L679.67 271.84"/>
<path stroke-width="0.6" d="M677.58 272.95L681.57 276.94M677.58 276.94L681.57 272.95"/>
<path stroke-width="0.6" d="M679.47 274.60L683.46 278.59M679.47 278.59L683.46 274.60"/>
<path stroke-width="0.6" d="M681.37 274.62L685.36 278.61M681.37 278.61L685.36 274.62"/>
<path stroke-width="0.6" d="M683.27 275.84L687.26 279.83M683.27 279.83L687.26 275.84"/>
<path stroke-width="0.6" d="M685.18 275.98L689.17 279.97M685.18 279.97L689.17 275.98"/>
<path stroke-width="0.6" d="M687.08 277.73L691.07 281.72M687.08 281.72L691.07 277.73"/>
<path stroke-width="0.6" d="M688.99 276.96L692.98 280.95M688.99 280.95L692.98 276.96"/>
<path stroke-width="0.6" d="M690.90 277.39L694.89 281.38M690.90 281.38L694.89 277.39"/>
<path stroke-width="0.6" d="M692.82 277.19L696.81 281.18M692.82 281.18L696.81 277.19"/>
<path stroke-width="0.6" d="M694.73 278.18L698.72 282.17M694.73 282.17L698.72 278.18"/>
<path stroke-width="0.6" d="M696.65 278.62L700.64 282.61M696.65 282.61L700.64 278.62"/>
<path stroke-width="0.6" d="M698.57 278.10L702.56 282.09M698.57 282.09L702.56 278.10"/>
<path stroke-width="0.6" d="M700.50 278.71L704.49 282.70M700.50 282.70L704.49 278.71"/>
<path stroke-width="0.6" d="M702.42 278.99L706.41 282.98M702.42 282.98L706.41 278.99"/>
<path stroke-width="0.6" d="M704.35 279.11L708.34 283.10M704.35 283.10L708.34 279.11"/>
<path stroke-width="0.6" d="M706.28 278.78L710.27 282.77M706.28 282.77L710.27 278.78"/>
<path stroke-width="0.6" d="M708.22 278.81L712.21 282.80M708.22 282.80L712.21 278.81"/>
<path stroke-width="0.6" d="M710.15 280.86L714.14 284.85M710.15 284.85L714.14 280.86"/>
<path stroke-width="0.6" d="M712.09 281.02L716.08 285.01M712.09 285.01L716.08 281.02"/>
<path stroke-width="0.6" d="M714.03 283.18L718.02 287.17M714.03 287.17L718.02 283.18"/>
<path stroke-width="0.6" d="M715.98 285.28L719.97 289.27M715.98 289.27L719.97 285.28"/>
<path stroke-width="0.6" d="M717.92 286.10L721.91 290.09M717.92 290.09L721.91 286.10"/>
<path stroke-width="0.6" d="M719.87 286.03L723.86 290.02M719.87 290.02L723.86 286.03"/>
<path stroke-width="0.6" d="M721.82 286.77L725.81 290.76M721.82 290.76L725.81 286.77"/>
<path stroke-width="0.6" d="M723.78 287.68L727.77 291.67M723.78 291.67L727.77 287.68"/>
<path stroke-width="0.6" d="M725.74 288.18L729.73 292.17M725.74 292.17L729.73 288.18"/>
<path stroke-width="0.6" d="M727.69 288.93L731.68 292.92M727.69 292.92L731.68 288.93"/>
<path stroke-width="0.6" d="M729.66 288.60L733.65 292.59M729.66 292.59L733.65 288.60"/>
<path stroke-width="0.6" d="M731.62 288.63L735.61 292.62M731.62 292.62L735.61 288.63"/>
<path stroke-width="0.6" d="M733.59 289.17L737.58 293.16M733.59 293.16L737.58 289.17"/>
<path stroke-width="0.6" d="M735.56 289.49L739.55 293.48M735.56 293.48L739.55 289.49"/>
<path stroke-width="0.6" d="M737.53 289.89L741.52 293.88M737.53 293.88L741.52 289.89"/>
<path stroke-width="0.6" d="M739.51 290.14L743.50 294.13M739.51 294.13L743.50 290.14"/>
<path stroke-width="0.6" d="M741.48 289.64L745.47 293.63M741.48 293.63L745.47 289.64"/>
<path stroke-width="0.6" d="M743.46 290.12L747.45 294.11M743.46 294.11L747.45 290.12"/>
<path stroke-width="0.6" d="M745.45 291.16L749.44 295.15M745.45 295.15L749.44 291.16"/>
<path stroke-width="0.6" d="M747.43 293.66L751.42 297.65M747.43 297.65L751.42 293.66"/>
<path stroke-width="0.6" d="M749.42 293.24L753.41 297.23M749.42 297.23L753.41 293.24"/>
<path stroke-width="0.6" d="M751.41 294.34L755.40 298.33M751.41 298.33L755.40 294.34"/>
<path stroke-width="0.6" d="M753.40 295.93L757.39 299.92M753.40 299.92L757.39 295.93"/>
<path stroke-width="0.6" d="M755.40 295.22L759.39 299.21M755.40 299.21L759.39 295.22"/>
</g>
<g fill="#fff" fill-opacity="0.38" stroke="#2f9540" stroke-width="0.5">
<path d="M568.50 285.08L570.25 285.26L572.00 285.20L573.76 285.42L575.51 284.31L577.27 284.50L579.03 284.51L580.80 284.70L582.56 284.10L584.33 284.60L586.10 282.19L587.88 281.14L589.65 279.44L591.43 278.22L593.21 278.88L594.99 278.29L596.78 277.99L598.57 278.24L600.35 277.96L602.15 277.41L603.94 277.07L605.74 277.76L607.54 277.26L609.34 276.46L611.14 276.79L612.95 276.47L614.76 276.46L616.57 276.48L618.38 274.28L620.20 272.16L622.01 271.27L623.83 271.12L625.66 271.42L627.48 272.43L629.31 271.94L631.14 272.50L632.97 272.06L634.81 271.53L636.64 271.64L638.48 271.10L640.33 270.21L642.17 271.15L644.02 269.80L645.87 270.04L647.72 269.37L649.57 269.43L651.43 268.84L653.29 269.19L655.15 269.00L657.01 268.92L658.88 267.51L660.75 267.07L662.62 266.91L664.49 266.35L666.37 269.18L668.25 269.06L670.13 270.42L672.01 273.64L673.90 273.72L675.79 275.43L677.68 276.31L679.57 276.48L681.47 277.47L683.37 278.79L685.27 280.39L687.17 281.06L689.08 282.07L690.99 283.82L692.90 285.44L694.81 286.64L696.73 287.87L698.65 287.98L700.57 287.50L702.49 288.01L704.42 287.19L706.35 288.35L708.28 288.77L710.21 290.20L712.15 290.96L714.09 291.16L716.03 291.97L717.97 292.20L719.92 292.86L721.87 292.75L723.82 292.70L725.77 292.88L727.73 295.07L729.69 295.58L731.65 295.48L733.62 295.91L735.58 296.53L737.55 297.24L739.53 297.48L741.50 298.20L743.48 299.10L745.46 300.00L747.44 299.95L749.43 299.08L751.41 299.55L753.40 299.74L755.40 300.06L757.39 300.99" stroke-width="0.45" fill="none"/>
<rect x="566.60" y="283.18" width="3.80" height="3.80"/>
<rect x="568.35" y="283.36" width="3.80" height="3.80"/>
<rect x="570.10" y="283.30" width="3.80" height="3.80"/>
<rect x="571.86" y="283.52" width="3.80" height="3.80"/>
<rect x="573.61" y="282.41" width="3.80" height="3.80"/>
<rect x="575.37" y="282.60" width="3.80" height="3.80"/>
<rect x="577.13" y="282.61" width="3.80" height="3.80"/>
<rect x="578.90" y="282.80" width="3.80" height="3.80"/>
<rect x="580.66" y="282.20" width="3.80" height="3.80"/>
<rect x="582.43" y="282.70" width="3.80" height="3.80"/>
<rect x="584.20" y="280.29" width="3.80" height="3.80"/>
<rect x="585.98" y="279.24" width="3.80" height="3.80"/>
<rect x="587.75" y="277.54" width="3.80" height="3.80"/>
<rect x="589.53" y="276.32" width="3.80" height="3.80"/>
<rect x="591.31" y="276.98" width="3.80" height="3.80"/>
<rect x="593.09" y="276.39" width="3.80" height="3.80"/>
<rect x="594.88" y="276.09" width="3.80" height="3.80"/>
<rect x="596.67" y="276.34" width="3.80" height="3.80"/>
<rect x="598.45" y="276.06" width="3.80" height="3.80"/>
<rect x="600.25" y="275.51" width="3.80" height="3.80"/>
<rect x="602.04" y="275.17" width="3.80" height="3.80"/>
<rect x="603.84" y="275.86" width="3.80" height="3.80"/>
<rect x="605.64" y="275.36" width="3.80" height="3.80"/>
<rect x="607.44" y="274.56" width="3.80" height="3.80"/>
<rect x="609.24" y="274.89" width="3.80" height="3.80"/>
<rect x="611.05" y="274.57" width="3.80" height="3.80"/>
<rect x="612.86" y="274.56" width="3.80" height="3.80"/>
<rect x="614.67" y="274.58" width="3.80" height="3.80"/>
<rect x="616.48" y="272.38" width="3.80" height="3.80"/>
<rect x="618.30" y="270.26" width="3.80" height="3.80"/>
<rect x="620.11" y="269.37" width="3.80" height="3.80"/>
<rect x="621.93" y="269.22" width="3.80" height="3.80"/>
<rect x="623.76" y="269.52" width="3.80" height="3.80"/>
<rect x="625.58" y="270.53" width="3.80" height="3.80"/>
<rect x="627.41" y="270.04" width="3.80" height="3.80"/>
<rect x="629.24" y="270.60" width="3.80" height="3.80"/>
<rect x="631.07" y="270.16" width="3.80" height="3.80"/>
<rect x="632.91" y="269.63" width="3.80" height="3.80"/>
<rect x="634.74" y="269.74" width="3.80" height="3.80"/>
<rect x="636.58" y="269.20" width="3.80" height="3.80"/>
<rect x="638.43" y="268.31" width="3.80" height="3.80"/>
<rect x="640.27" y="269.25" width="3.80" height="3.80"/>
<rect x="642.12" y="267.90" width="3.80" height="3.80"/>
<rect x="643.97" y="268.14" width="3.80" height="3.80"/>
<rect x="645.82" y="267.47" width="3.80" height="3.80"/>
<rect x="647.67" y="267.53" width="3.80" height="3.80"/>
<rect x="649.53" y="266.94" width="3.80" height="3.80"/>
<rect x="651.39" y="267.29" width="3.80" height="3.80"/>
<rect x="653.25" y="267.10" width="3.80" height="3.80"/>
<rect x="655.11" y="267.02" width="3.80" height="3.80"/>
<rect x="656.98" y="265.61" width="3.80" height="3.80"/>
<rect x="658.85" y="265.17" width="3.80" height="3.80"/>
<rect x="660.72" y="265.01" width="3.80" height="3.80"/>
<rect x="662.59" y="264.45" width="3.80" height="3.80"/>
<rect x="664.47" y="267.28" width="3.80" height="3.80"/>
<rect x="666.35" y="267.16" width="3.80" height="3.80"/>
<rect x="668.23" y="268.52" width="3.80" height="3.80"/>
<rect x="670.11" y="271.74" width="3.80" height="3.80"/>
<rect x="672.00" y="271.82" width="3.80" height="3.80"/>
<rect x="673.89" y="273.53" width="3.80" height="3.80"/>
<rect x="675.78" y="274.41" width="3.80" height="3.80"/>
<rect x="677.67" y="274.58" width="3.80" height="3.80"/>
<rect x="679.57" y="275.57" width="3.80" height="3.80"/>
<rect x="681.47" y="276.89" width="3.80" height="3.80"/>
<rect x="683.37" y="278.49" width="3.80" height="3.80"/>
<rect x="685.27" y="279.16" width="3.80" height="3.80"/>
<rect x="687.18" y="280.17" width="3.80" height="3.80"/>
<rect x="689.09" y="281.92" width="3.80" height="3.80"/>
<rect x="691.00" y="283.54" width="3.80" height="3.80"/>
<rect x="692.91" y="284.74" width="3.80" height="3.80"/>
<rect x="694.83" y="285.97" width="3.80" height="3.80"/>
<rect x="696.75" y="286.08" width="3.80" height="3.80"/>
<rect x="698.67" y="285.60" width="3.80" height="3.80"/>
<rect x="700.59" y="286.11" width="3.80" height="3.80"/>
<rect x="702.52" y="285.29" width="3.80" height="3.80"/>
<rect x="704.45" y="286.45" width="3.80" height="3.80"/>
<rect x="706.38" y="286.87" width="3.80" height="3.80"/>
<rect x="708.31" y="288.30" width="3.80" height="3.80"/>
<rect x="710.25" y="289.06" width="3.80" height="3.80"/>
<rect x="712.19" y="289.26" width="3.80" height="3.80"/>
<rect x="714.13" y="290.07" width="3.80" height="3.80"/>
<rect x="716.07" y="290.30" width="3.80" height="3.80"/>
<rect x="718.02" y="290.96" width="3.80" height="3.80"/>
<rect x="719.97" y="290.85" width="3.80" height="3.80"/>
<rect x="721.92" y="290.80" width="3.80" height="3.80"/>
<rect x="723.87" y="290.98" width="3.80" height="3.80"/>
<rect x="725.83" y="293.17" width="3.80" height="3.80"/>
<rect x="727.79" y="293.68" width="3.80" height="3.80"/>
<rect x="729.75" y="293.58" width="3.80" height="3.80"/>
<rect x="731.72" y="294.01" width="3.80" height="3.80"/>
<rect x="733.68" y="294.63" width="3.80" height="3.80"/>
<rect x="735.65" y="295.34" width="3.80" height="3.80"/>
<rect x="737.63" y="295.58" width="3.80" height="3.80"/>
<rect x="739.60" y="296.30" width="3.80" height="3.80"/>
<rect x="741.58" y="297.20" width="3.80" height="3.80"/>
<rect x="743.56" y="298.10" width="3.80" height="3.80"/>
<rect x="745.54" y="298.05" width="3.80" height="3.80"/>
<rect x="747.53" y="297.18" width="3.80" height="3.80"/>
<rect x="749.51" y="297.65" width="3.80" height="3.80"/>
<rect x="751.50" y="297.84" width="3.80" height="3.80"/>
<rect x="753.50" y="298.16" width="3.80" height="3.80"/>
<rect x="755.49" y="299.09" width="3.80" height="3.80"/>
</g>
<g fill="#fff" fill-opacity="0.38" stroke="#ee6c1c" stroke-width="0.5">
<path d="M569.60 277.65L571.35 278.56L573.10 278.92L574.86 279.29L576.61 279.62L578.37 279.92L580.13 280.26L581.90 279.86L583.66 279.74L585.43 275.40L587.20 273.92L588.98 273.97L590.75 273.24L592.53 273.18L594.31 272.59L596.09 272.15L597.88 271.20L599.67 269.83L601.46 270.10L603.25 267.84L605.04 267.80L606.84 266.72L608.64 265.52L610.44 265.49L612.25 264.60L614.05 265.39L615.86 264.02L617.67 264.87L619.49 263.61L621.30 263.08L623.12 261.90L624.94 262.33L626.76 261.28L628.59 260.66L630.42 263.11L632.25 262.20L634.08 262.43L635.92 261.52L637.75 262.46L639.59 263.64L641.44 264.45L643.28 264.77L645.13 264.98L646.98 264.62L648.83 266.99L650.69 268.25L652.54 269.97L654.40 270.33L656.26 272.25L658.13 272.34L660.00 273.11L661.87 275.20L663.74 275.19L665.61 275.47L667.49 276.78L669.37 278.02L671.25 279.26L673.14 281.10L675.02 284.20L676.91 283.57L678.80 284.56L680.70 283.84L682.60 285.92L684.49 287.32L686.40 287.89L688.30 288.64L690.21 289.82L692.12 290.00L694.03 290.02L695.94 291.44L697.86 291.57L699.78 291.54L701.70 291.21L703.63 292.20L705.56 292.71L707.49 293.01L709.42 292.73L711.35 294.22L713.29 295.56L715.23 295.96L717.17 296.18L719.12 296.43L721.07 296.30L723.02 297.11L724.97 297.09L726.92 298.76L728.88 298.30L730.84 299.06L732.81 299.37L734.77 298.94L736.74 298.46L738.71 299.28L740.69 299.77L742.66 300.66L744.64 300.43L746.62 299.41L748.61 300.74L750.59 300.94L752.58 300.25L754.58 301.23L756.57 301.21L758.57 303.27" stroke-width="0.45" fill="none"/>
<path d="M567.70 279.17L571.50 279.17L569.60 275.56Z"/>
<path d="M569.45 280.08L573.25 280.08L571.35 276.47Z"/>
<path d="M571.20 280.44L575.00 280.44L573.10 276.83Z"/>
<path d="M572.96 280.81L576.76 280.81L574.86 277.20Z"/>
<path d="M574.71 281.14L578.51 281.14L576.61 277.53Z"/>
<path d="M576.47 281.44L580.27 281.44L578.37 277.83Z"/>
<path d="M578.23 281.78L582.03 281.78L580.13 278.17Z"/>
<path d="M580.00 281.38L583.80 281.38L581.90 277.77Z"/>
<path d="M581.76 281.26L585.56 281.26L583.66 277.65Z"/>
<path d="M583.53 276.92L587.33 276.92L585.43 273.31Z"/>
<path d="M585.30 275.44L589.10 275.44L587.20 271.83Z"/>
<path d="M587.08 275.49L590.88 275.49L588.98 271.88Z"/>
<path d="M588.85 274.76L592.65 274.76L590.75 271.15Z"/>
<path d="M590.63 274.70L594.43 274.70L592.53 271.09Z"/>
<path d="M592.41 274.11L596.21 274.11L594.31 270.50Z"/>
<path d="M594.19 273.67L597.99 273.67L596.09 270.06Z"/>
<path d="M595.98 272.72L599.78 272.72L597.88 269.11Z"/>
<path d="M597.77 271.35L601.57 271.35L599.67 267.74Z"/>
<path d="M599.56 271.62L603.36 271.62L601.46 268.01Z"/>
<path d="M601.35 269.36L605.15 269.36L603.25 265.75Z"/>
<path d="M603.14 269.32L606.94 269.32L605.04 265.71Z"/>
<path d="M604.94 268.24L608.74 268.24L606.84 264.63Z"/>
<path d="M606.74 267.04L610.54 267.04L608.64 263.43Z"/>
<path d="M608.54 267.01L612.34 267.01L610.44 263.40Z"/>
<path d="M610.35 266.12L614.15 266.12L612.25 262.51Z"/>
<path d="M612.15 266.91L615.95 266.91L614.05 263.30Z"/>
<path d="M613.96 265.54L617.76 265.54L615.86 261.93Z"/>
<path d="M615.77 266.39L619.57 266.39L617.67 262.78Z"/>
<path d="M617.59 265.13L621.39 265.13L619.49 261.52Z"/>
<path d="M619.40 264.60L623.20 264.60L621.30 260.99Z"/>
<path d="M621.22 263.42L625.02 263.42L623.12 259.81Z"/>
<path d="M623.04 263.85L626.84 263.85L624.94 260.24Z"/>
<path d="M624.86 262.80L628.66 262.80L626.76 259.19Z"/>
<path d="M626.69 262.18L630.49 262.18L628.59 258.57Z"/>
<path d="M628.52 264.63L632.32 264.63L630.42 261.02Z"/>
<path d="M630.35 263.72L634.15 263.72L632.25 260.11Z"/>
<path d="M632.18 263.95L635.98 263.95L634.08 260.34Z"/>
<path d="M634.02 263.04L637.82 263.04L635.92 259.43Z"/>
<path d="M635.85 263.98L639.65 263.98L637.75 260.37Z"/>
<path d="M637.69 265.16L641.49 265.16L639.59 261.55Z"/>
<path d="M639.54 265.97L643.34 265.97L641.44 262.36Z"/>
<path d="M641.38 266.29L645.18 266.29L643.28 262.68Z"/>
<path d="M643.23 266.50L647.03 266.50L645.13 262.89Z"/>
<path d="M645.08 266.14L648.88 266.14L646.98 262.53Z"/>
<path d="M646.93 268.51L650.73 268.51L648.83 264.90Z"/>
<path d="M648.79 269.77L652.59 269.77L650.69 266.16Z"/>
<path d="M650.64 271.49L654.44 271.49L652.54 267.88Z"/>
<path d="M652.50 271.85L656.30 271.85L654.40 268.24Z"/>
<path d="M654.36 273.77L658.16 273.77L656.26 270.16Z"/>
<path d="M656.23 273.86L660.03 273.86L658.13 270.25Z"/>
<path d="M658.10 274.63L661.90 274.63L660.00 271.02Z"/>
<path d="M659.97 276.72L663.77 276.72L661.87 273.11Z"/>
<path d="M661.84 276.71L665.64 276.71L663.74 273.10Z"/>
<path d="M663.71 276.99L667.51 276.99L665.61 273.38Z"/>
<path d="M665.59 278.30L669.39 278.30L667.49 274.69Z"/>
<path d="M667.47 279.54L671.27 279.54L669.37 275.93Z"/>
<path d="M669.35 280.78L673.15 280.78L671.25 277.17Z"/>
<path d="M671.24 282.62L675.04 282.62L673.14 279.01Z"/>
<path d="M673.12 285.72L676.92 285.72L675.02 282.11Z"/>
<path d="M675.01 285.09L678.81 285.09L676.91 281.48Z"/>
<path d="M676.90 286.08L680.70 286.08L678.80 282.47Z"/>
<path d="M678.80 285.36L682.60 285.36L680.70 281.75Z"/>
<path d="M680.70 287.44L684.50 287.44L682.60 283.83Z"/>
<path d="M682.59 288.84L686.39 288.84L684.49 285.23Z"/>
<path d="M684.50 289.41L688.30 289.41L686.40 285.80Z"/>
<path d="M686.40 290.16L690.20 290.16L688.30 286.55Z"/>
<path d="M688.31 291.34L692.11 291.34L690.21 287.73Z"/>
<path d="M690.22 291.52L694.02 291.52L692.12 287.91Z"/>
<path d="M692.13 291.54L695.93 291.54L694.03 287.93Z"/>
<path d="M694.04 292.96L697.84 292.96L695.94 289.35Z"/>
<path d="M695.96 293.09L699.76 293.09L697.86 289.48Z"/>
<path d="M697.88 293.06L701.68 293.06L699.78 289.45Z"/>
<path d="M699.80 292.73L703.60 292.73L701.70 289.12Z"/>
<path d="M701.73 293.72L705.53 293.72L703.63 290.11Z"/>
<path d="M703.66 294.23L707.46 294.23L705.56 290.62Z"/>
<path d="M705.59 294.53L709.39 294.53L707.49 290.92Z"/>
<path d="M707.52 294.25L711.32 294.25L709.42 290.64Z"/>
<path d="M709.45 295.74L713.25 295.74L711.35 292.13Z"/>
<path d="M711.39 297.08L715.19 297.08L713.29 293.47Z"/>
<path d="M713.33 297.48L717.13 297.48L715.23 293.87Z"/>
<path d="M715.27 297.70L719.07 297.70L717.17 294.09Z"/>
<path d="M717.22 297.95L721.02 297.95L719.12 294.34Z"/>
<path d="M719.17 297.82L722.97 297.82L721.07 294.21Z"/>
<path d="M721.12 298.63L724.92 298.63L723.02 295.02Z"/>
<path d="M723.07 298.61L726.87 298.61L724.97 295.00Z"/>
<path d="M725.02 300.28L728.82 300.28L726.92 296.67Z"/>
<path d="M726.98 299.82L730.78 299.82L728.88 296.21Z"/>
<path d="M728.94 300.58L732.74 300.58L730.84 296.97Z"/>
<path d="M730.91 300.89L734.71 300.89L732.81 297.28Z"/>
<path d="M732.87 300.46L736.67 300.46L734.77 296.85Z"/>
<path d="M734.84 299.98L738.64 299.98L736.74 296.37Z"/>
<path d="M736.81 300.80L740.61 300.80L738.71 297.19Z"/>
<path d="M738.79 301.29L742.59 301.29L740.69 297.68Z"/>
<path d="M740.76 302.18L744.56 302.18L742.66 298.57Z"/>
<path d="M742.74 301.95L746.54 301.95L744.64 298.34Z"/>
<path d="M744.72 300.93L748.52 300.93L746.62 297.32Z"/>
<path d="M746.71 302.26L750.51 302.26L748.61 298.65Z"/>
<path d="M748.69 302.46L752.49 302.46L750.59 298.85Z"/>
<path d="M750.68 301.77L754.48 301.77L752.58 298.16Z"/>
<path d="M752.68 302.75L756.48 302.75L754.58 299.14Z"/>
<path d="M754.67 302.73L758.47 302.73L756.57 299.12Z"/>
<path d="M756.67 304.79L760.47 304.79L758.57 301.18Z"/>
</g>
<g fill="#fff" fill-opacity="0.38" stroke="#e52f36" stroke-width="0.5">
<path d="M568.50 274.72L570.25 274.96L572.00 274.91L573.76 273.54L575.51 273.25L577.27 271.14L579.03 269.63L580.80 266.62L582.56 265.18L584.33 262.12L586.10 259.08L587.88 255.53L589.65 253.06L591.43 250.20L593.21 246.14L594.99 244.06L596.78 240.44L597.90 237.00L599.60 232.10L601.50 225.30L603.20 217.90L605.10 207.90L606.80 199.80L608.50 193.00L610.40 186.40L612.10 183.20L614.00 187.40L615.70 195.10L617.40 206.20L619.10 218.90L621.30 231.70L623.00 241.30L624.90 248.70L627.49 257.51L629.32 261.21L631.15 263.57L632.98 265.89L634.81 268.83L636.65 272.72L638.49 277.59L640.34 281.16L642.18 282.39L644.03 283.55L645.88 283.95L647.73 281.75L649.58 280.49L651.44 281.24L653.30 282.50L655.16 283.01L657.03 283.31L658.90 284.21L660.76 284.80L662.64 285.68L664.51 285.85L666.39 286.11L668.27 286.06L670.15 286.58L672.03 286.83L673.92 287.89L675.81 287.23L677.70 288.33L679.60 289.72L681.49 291.39L683.39 291.33L685.29 291.73L687.20 291.40L689.11 291.95L691.02 292.00L692.93 293.13L694.84 293.31L696.76 293.16L698.68 293.73L700.60 294.29L702.52 295.21L704.45 295.33L706.38 295.48L708.31 295.97L710.25 296.16L712.19 296.53L714.13 296.81L716.07 297.41L718.01 297.38L719.96 298.04L721.91 298.27L723.86 298.65L725.82 298.49L727.78 299.38L729.74 299.31L731.70 299.42L733.67 299.66L735.64 299.59L737.61 300.27L739.58 300.06L741.56 301.08L743.54 300.35L745.52 300.71L747.50 301.10L749.49 301.83L751.48 301.88L753.47 302.92L755.46 302.27L757.46 302.23" stroke-width="0.45" fill="none"/>
<circle cx="568.50" cy="274.72" r="1.90"/>
<circle cx="570.25" cy="274.96" r="1.90"/>
<circle cx="572.00" cy="274.91" r="1.90"/>
<circle cx="573.76" cy="273.54" r="1.90"/>
<circle cx="575.51" cy="273.25" r="1.90"/>
<circle cx="577.27" cy="271.14" r="1.90"/>
<circle cx="579.03" cy="269.63" r="1.90"/>
<circle cx="580.80" cy="266.62" r="1.90"/>
<circle cx="582.56" cy="265.18" r="1.90"/>
<circle cx="584.33" cy="262.12" r="1.90"/>
<circle cx="586.10" cy="259.08" r="1.90"/>
<circle cx="587.88" cy="255.53" r="1.90"/>
<circle cx="589.65" cy="253.06" r="1.90"/>
<circle cx="591.43" cy="250.20" r="1.90"/>
<circle cx="593.21" cy="246.14" r="1.90"/>
<circle cx="594.99" cy="244.06" r="1.90"/>
<circle cx="596.78" cy="240.44" r="1.90"/>
<circle cx="597.90" cy="237.00" r="1.90"/>
<circle cx="599.60" cy="232.10" r="1.90"/>
<circle cx="601.50" cy="225.30" r="1.90"/>
<circle cx="603.20" cy="217.90" r="1.90"/>
<circle cx="605.10" cy="207.90" r="1.90"/>
<circle cx="606.80" cy="199.80" r="1.90"/>
<circle cx="608.50" cy="193.00" r="1.90"/>
<circle cx="610.40" cy="186.40" r="1.90"/>
<circle cx="612.10" cy="183.20" r="1.90"/>
<circle cx="614.00" cy="187.40" r="1.90"/>
<circle cx="615.70" cy="195.10" r="1.90"/>
<circle cx="617.40" cy="206.20" r="1.90"/>
<circle cx="619.10" cy="218.90" r="1.90"/>
<circle cx="621.30" cy="231.70" r="1.90"/>
<circle cx="623.00" cy="241.30" r="1.90"/>
<circle cx="624.90" cy="248.70" r="1.90"/>
<circle cx="627.49" cy="257.51" r="1.90"/>
<circle cx="629.32" cy="261.21" r="1.90"/>
<circle cx="631.15" cy="263.57" r="1.90"/>
<circle cx="632.98" cy="265.89" r="1.90"/>
<circle cx="634.81" cy="268.83" r="1.90"/>
<circle cx="636.65" cy="272.72" r="1.90"/>
<circle cx="638.49" cy="277.59" r="1.90"/>
<circle cx="640.34" cy="281.16" r="1.90"/>
<circle cx="642.18" cy="282.39" r="1.90"/>
<circle cx="644.03" cy="283.55" r="1.90"/>
<circle cx="645.88" cy="283.95" r="1.90"/>
<circle cx="647.73" cy="281.75" r="1.90"/>
<circle cx="649.58" cy="280.49" r="1.90"/>
<circle cx="651.44" cy="281.24" r="1.90"/>
<circle cx="653.30" cy="282.50" r="1.90"/>
<circle cx="655.16" cy="283.01" r="1.90"/>
<circle cx="657.03" cy="283.31" r="1.90"/>
<circle cx="658.90" cy="284.21" r="1.90"/>
<circle cx="660.76" cy="284.80" r="1.90"/>
<circle cx="662.64" cy="285.68" r="1.90"/>
<circle cx="664.51" cy="285.85" r="1.90"/>
<circle cx="666.39" cy="286.11" r="1.90"/>
<circle cx="668.27" cy="286.06" r="1.90"/>
<circle cx="670.15" cy="286.58" r="1.90"/>
<circle cx="672.03" cy="286.83" r="1.90"/>
<circle cx="673.92" cy="287.89" r="1.90"/>
<circle cx="675.81" cy="287.23" r="1.90"/>
<circle cx="677.70" cy="288.33" r="1.90"/>
<circle cx="679.60" cy="289.72" r="1.90"/>
<circle cx="681.49" cy="291.39" r="1.90"/>
<circle cx="683.39" cy="291.33" r="1.90"/>
<circle cx="685.29" cy="291.73" r="1.90"/>
<circle cx="687.20" cy="291.40" r="1.90"/>
<circle cx="689.11" cy="291.95" r="1.90"/>
<circle cx="691.02" cy="292.00" r="1.90"/>
<circle cx="692.93" cy="293.13" r="1.90"/>
<circle cx="694.84" cy="293.31" r="1.90"/>
<circle cx="696.76" cy="293.16" r="1.90"/>
<circle cx="698.68" cy="293.73" r="1.90"/>
<circle cx="700.60" cy="294.29" r="1.90"/>
<circle cx="702.52" cy="295.21" r="1.90"/>
<circle cx="704.45" cy="295.33" r="1.90"/>
<circle cx="706.38" cy="295.48" r="1.90"/>
<circle cx="708.31" cy="295.97" r="1.90"/>
<circle cx="710.25" cy="296.16" r="1.90"/>
<circle cx="712.19" cy="296.53" r="1.90"/>
<circle cx="714.13" cy="296.81" r="1.90"/>
<circle cx="716.07" cy="297.41" r="1.90"/>
<circle cx="718.01" cy="297.38" r="1.90"/>
<circle cx="719.96" cy="298.04" r="1.90"/>
<circle cx="721.91" cy="298.27" r="1.90"/>
<circle cx="723.86" cy="298.65" r="1.90"/>
<circle cx="725.82" cy="298.49" r="1.90"/>
<circle cx="727.78" cy="299.38" r="1.90"/>
<circle cx="729.74" cy="299.31" r="1.90"/>
<circle cx="731.70" cy="299.42" r="1.90"/>
<circle cx="733.67" cy="299.66" r="1.90"/>
<circle cx="735.64" cy="299.59" r="1.90"/>
<circle cx="737.61" cy="300.27" r="1.90"/>
<circle cx="739.58" cy="300.06" r="1.90"/>
<circle cx="741.56" cy="301.08" r="1.90"/>
<circle cx="743.54" cy="300.35" r="1.90"/>
<circle cx="745.52" cy="300.71" r="1.90"/>
<circle cx="747.50" cy="301.10" r="1.90"/>
<circle cx="749.49" cy="301.83" r="1.90"/>
<circle cx="751.48" cy="301.88" r="1.90"/>
<circle cx="753.47" cy="302.92" r="1.90"/>
<circle cx="755.46" cy="302.27" r="1.90"/>
<circle cx="757.46" cy="302.23" r="1.90"/>
</g>
</g>
<rect x="565.5" y="173.5" width="215.0" height="165.5" fill="none" stroke="#5a5a5a" stroke-width="0.8"/>
<path d="M565.50 339.0v-4.3M565.50 173.5v4.3M572.50 339.0v-2.1M572.50 173.5v2.1M579.50 339.0v-2.1M579.50 173.5v2.1M587.50 339.0v-2.1M587.50 173.5v2.1M594.50 339.0v-2.1M594.50 173.5v2.1M601.50 339.0v-4.3M601.50 173.5v4.3M608.50 339.0v-2.1M608.50 173.5v2.1M615.50 339.0v-2.1M615.50 173.5v2.1M622.50 339.0v-2.1M622.50 173.5v2.1M630.50 339.0v-2.1M630.50 173.5v2.1M637.50 339.0v-4.3M637.50 173.5v4.3M644.50 339.0v-2.1M644.50 173.5v2.1M651.50 339.0v-2.1M651.50 173.5v2.1M658.50 339.0v-2.1M658.50 173.5v2.1M665.50 339.0v-2.1M665.50 173.5v2.1M673.50 339.0v-4.3M673.50 173.5v4.3M680.50 339.0v-2.1M680.50 173.5v2.1M687.50 339.0v-2.1M687.50 173.5v2.1M694.50 339.0v-2.1M694.50 173.5v2.1M701.50 339.0v-2.1M701.50 173.5v2.1M708.50 339.0v-4.3M708.50 173.5v4.3M716.50 339.0v-2.1M716.50 173.5v2.1M723.50 339.0v-2.1M723.50 173.5v2.1M730.50 339.0v-2.1M730.50 173.5v2.1M737.50 339.0v-2.1M737.50 173.5v2.1M744.50 339.0v-4.3M744.50 173.5v4.3M751.50 339.0v-2.1M751.50 173.5v2.1M759.50 339.0v-2.1M759.50 173.5v2.1M766.50 339.0v-2.1M766.50 173.5v2.1M773.50 339.0v-2.1M773.50 173.5v2.1M780.50 339.0v-4.3M780.50 173.5v4.3" stroke="#5a5a5a" stroke-width="0.85" fill="none"/>
<path d="M565.5 256.50h4.3M780.5 256.50h-4.3M565.5 322.50h2.1M780.5 322.50h-2.1M565.5 305.50h2.1M780.5 305.50h-2.1M565.5 289.50h2.1M780.5 289.50h-2.1M565.5 272.50h2.1M780.5 272.50h-2.1M565.5 239.50h2.1M780.5 239.50h-2.1M565.5 223.50h2.1M780.5 223.50h-2.1M565.5 206.50h2.1M780.5 206.50h-2.1M565.5 189.50h2.1M780.5 189.50h-2.1" stroke="#5a5a5a" stroke-width="0.85" fill="none"/>
<text x="560.70" y="341.40" font-size="14.5" text-anchor="end" fill="#000" >0</text>
<text x="560.70" y="258.00" font-size="14.5" text-anchor="end" fill="#000" >0.05</text>
<text x="560.70" y="175.20" font-size="14.5" text-anchor="end" fill="#000" >0.1</text>
<text x="566.30" y="353.30" font-size="14.5" text-anchor="middle" fill="#000" >9</text>
<text x="602.13" y="353.30" font-size="14.5" text-anchor="middle" fill="#000" >10</text>
<text x="637.97" y="353.30" font-size="14.5" text-anchor="middle" fill="#000" >11</text>
<text x="673.80" y="353.30" font-size="14.5" text-anchor="middle" fill="#000" >12</text>
<text x="709.63" y="353.30" font-size="14.5" text-anchor="middle" fill="#000" >13</text>
<text x="745.47" y="353.30" font-size="14.5" text-anchor="middle" fill="#000" >14</text>
<text x="781.30" y="353.30" font-size="14.5" text-anchor="middle" fill="#000" >15</text>
<text x="650.20" y="367.7" font-size="14.5" fill="#000"><tspan font-style="italic">μ</tspan><tspan font-size="10" dy="6.6">0</tspan><tspan dy="-6.6" font-style="italic">H</tspan><tspan> (T)</tspan></text>
<text x="64.90" y="17.90" font-size="16.6" text-anchor="start" fill="#000" >(a)</text>
<text x="319.90" y="17.90" font-size="16.6" text-anchor="start" fill="#000" >(b)</text>
<text x="574.90" y="17.90" font-size="16.6" text-anchor="start" fill="#000" >(c)</text>
<text x="64.90" y="189.80" font-size="16.6" text-anchor="start" fill="#000" >(d)</text>
<text x="319.90" y="189.80" font-size="16.6" text-anchor="start" fill="#000" >(e)</text>
<text x="574.90" y="189.80" font-size="16.6" text-anchor="start" fill="#000" >(f)</text>
<text x="64.00" y="41.20" font-size="14.5" text-anchor="start" fill="#000" >URhGe</text>
<text x="64.00" y="58.30" font-size="14.5" text-anchor="start" fill="#000" >0.25 K</text>
<text x="319.00" y="41.20" font-size="14.5" text-anchor="start" fill="#000" >URhGe</text>
<text x="319.00" y="58.30" font-size="14.5" text-anchor="start" fill="#000" >3 K</text>
<text x="574.00" y="41.20" font-size="14.5" text-anchor="start" fill="#000" >URhGe</text>
<text x="574.00" y="58.30" font-size="14.5" text-anchor="start" fill="#000" >6 K</text>
<g fill="none" stroke="#2a28de" stroke-width="0.5"><path d="M699.3 81.0H719.3"/>
<path d="M707.40 79.48L711.20 79.48L709.30 83.09Z" fill="#fff"/>
</g>
<text x="721.60" y="86.40" font-size="14.4" text-anchor="start" fill="#1a14d8" >5.64</text>
<g fill="none" stroke="#22aae8" stroke-width="0.5"><path d="M699.3 98.3H719.3"/>
<path stroke-width="0.6" d="M707.30 96.30L711.29 100.30M707.30 100.30L711.29 96.30" fill="#fff"/>
</g>
<text x="721.60" y="103.70" font-size="14.4" text-anchor="start" fill="#22a8e8" >3.64</text>
<g fill="none" stroke="#2f9540" stroke-width="0.5"><path d="M699.3 115.7H719.3"/>
<rect x="707.40" y="113.80" width="3.80" height="3.80" fill="#fff"/>
</g>
<text x="721.60" y="121.10" font-size="14.4" text-anchor="start" fill="#168a22" >1.65</text>
<g fill="none" stroke="#ee6c1c" stroke-width="0.5"><path d="M699.3 133.2H719.3"/>
<path d="M707.40 134.72L711.20 134.72L709.30 131.11Z" fill="#fff"/>
</g>
<text x="721.60" y="138.60" font-size="14.4" text-anchor="start" fill="#f07020" >0.79</text>
<g fill="none" stroke="#e52f36" stroke-width="0.5"><path d="M699.3 150.8H719.3"/>
<circle cx="709.30" cy="150.80" r="1.90" fill="#fff"/>
</g>
<text x="721.60" y="156.20" font-size="14.4" text-anchor="start" fill="#e01010" >0 deg.</text>
<g fill="none" stroke="#2a28de" stroke-width="0.5"><path d="M703.8 193.6H723.8"/>
<path d="M711.90 192.08L715.70 192.08L713.80 195.69Z" fill="#fff"/>
</g>
<text x="726.20" y="199.00" font-size="14.4" text-anchor="start" fill="#1a14d8" >5.64</text>
<g fill="none" stroke="#22aae8" stroke-width="0.5"><path d="M703.8 211.3H723.8"/>
<path stroke-width="0.6" d="M711.80 209.31L715.79 213.30M711.80 213.30L715.79 209.31" fill="#fff"/>
</g>
<text x="726.20" y="216.70" font-size="14.4" text-anchor="start" fill="#22a8e8" >3.64</text>
<g fill="none" stroke="#2f9540" stroke-width="0.5"><path d="M703.8 229.0H723.8"/>
<rect x="711.90" y="227.10" width="3.80" height="3.80" fill="#fff"/>
</g>
<text x="726.20" y="234.40" font-size="14.4" text-anchor="start" fill="#168a22" >1.65</text>
<g fill="none" stroke="#ee6c1c" stroke-width="0.5"><path d="M703.8 246.5H723.8"/>
<path d="M711.90 248.02L715.70 248.02L713.80 244.41Z" fill="#fff"/>
</g>
<text x="726.20" y="251.90" font-size="14.4" text-anchor="start" fill="#f07020" >0.79</text>
<g fill="none" stroke="#e52f36" stroke-width="0.5"><path d="M703.8 264.3H723.8"/>
<circle cx="713.80" cy="264.30" r="1.90" fill="#fff"/>
</g>
<text x="726.20" y="269.70" font-size="14.4" text-anchor="start" fill="#e01010" >0 deg.</text>
<rect x="191.2" y="84.2" width="69.80" height="53.70" fill="#fff" stroke="#6a6a6a" stroke-width="0.7"/>
<path d="M193.01 137.9v-1.2M193.01 84.2v1.2M194.82 137.9v-1.2M194.82 84.2v1.2M196.63 137.9v-1.2M196.63 84.2v1.2M198.44 137.9v-1.2M198.44 84.2v1.2M200.25 137.9v-1.9M200.25 84.2v1.9M202.06 137.9v-1.2M202.06 84.2v1.2M203.87 137.9v-1.2M203.87 84.2v1.2M205.68 137.9v-1.2M205.68 84.2v1.2M207.49 137.9v-1.2M207.49 84.2v1.2M209.30 137.9v-3.0M209.30 84.2v3.0M211.11 137.9v-1.2M211.11 84.2v1.2M212.92 137.9v-1.2M212.92 84.2v1.2M214.73 137.9v-1.2M214.73 84.2v1.2M216.54 137.9v-1.2M216.54 84.2v1.2M218.35 137.9v-1.9M218.35 84.2v1.9M220.16 137.9v-1.2M220.16 84.2v1.2M221.97 137.9v-1.2M221.97 84.2v1.2M223.78 137.9v-1.2M223.78 84.2v1.2M225.59 137.9v-1.2M225.59 84.2v1.2M227.40 137.9v-3.0M227.40 84.2v3.0M229.21 137.9v-1.2M229.21 84.2v1.2M231.02 137.9v-1.2M231.02 84.2v1.2M232.83 137.9v-1.2M232.83 84.2v1.2M234.64 137.9v-1.2M234.64 84.2v1.2M236.45 137.9v-1.9M236.45 84.2v1.9M238.26 137.9v-1.2M238.26 84.2v1.2M240.07 137.9v-1.2M240.07 84.2v1.2M241.88 137.9v-1.2M241.88 84.2v1.2M243.69 137.9v-1.2M243.69 84.2v1.2M245.50 137.9v-3.0M245.50 84.2v3.0M247.31 137.9v-1.2M247.31 84.2v1.2M249.12 137.9v-1.2M249.12 84.2v1.2M250.93 137.9v-1.2M250.93 84.2v1.2M252.74 137.9v-1.2M252.74 84.2v1.2M254.55 137.9v-1.9M254.55 84.2v1.9M256.36 137.9v-1.2M256.36 84.2v1.2M258.17 137.9v-1.2M258.17 84.2v1.2M259.98 137.9v-1.2M259.98 84.2v1.2M191.2 134.33h1.2M261.0 134.33h-1.2M191.2 130.76h1.2M261.0 130.76h-1.2M191.2 127.19h1.2M261.0 127.19h-1.2M191.2 123.62h1.2M261.0 123.62h-1.2M191.2 120.05h1.9M261.0 120.05h-1.9M191.2 116.48h1.2M261.0 116.48h-1.2M191.2 112.91h1.2M261.0 112.91h-1.2M191.2 109.34h1.2M261.0 109.34h-1.2M191.2 105.77h1.2M261.0 105.77h-1.2M191.2 102.20h3.0M261.0 102.20h-3.0M191.2 98.63h1.2M261.0 98.63h-1.2M191.2 95.06h1.2M261.0 95.06h-1.2M191.2 91.49h1.2M261.0 91.49h-1.2M191.2 87.92h1.2M261.0 87.92h-1.2" stroke="#6a6a6a" stroke-width="0.6" fill="none"/>
<path d="M206.2 107.9L221.8 110.0L258.0 115.6" stroke="#f58a3c" stroke-width="0.7" fill="none"/>
<rect x="203.35" y="105.05" width="5.7" height="5.7" fill="#f26c12"/>
<rect x="218.95" y="107.15" width="5.7" height="5.7" fill="#f26c12"/>
<rect x="255.15" y="112.75" width="5.7" height="5.7" fill="#f26c12"/>
<circle cx="191.5" cy="89.9" r="2.2" fill="none" stroke="#e52f36" stroke-width="0.6"/>
<circle cx="191.5" cy="104.5" r="2.8" fill="#e0000f"/>
<text x="189.40" y="105.80" font-size="12.3" text-anchor="end" fill="#000" >0.1</text>
<text x="189.60" y="140.90" font-size="12.3" text-anchor="end" fill="#000" >0</text>
<text x="191.40" y="148.50" font-size="12.3" text-anchor="middle" fill="#000" >0</text>
<text x="209.50" y="148.50" font-size="12.3" text-anchor="middle" fill="#000" >1</text>
<text x="227.60" y="148.50" font-size="12.3" text-anchor="middle" fill="#000" >2</text>
<text x="245.70" y="148.50" font-size="12.3" text-anchor="middle" fill="#000" >3</text>
<text x="177.6" y="79.4" font-size="13.6" fill="#000"><tspan font-style="italic">ΔM</tspan> (<tspan font-style="italic">μ</tspan><tspan font-size="9.5" dy="2.2">B</tspan><tspan dy="-2.2">/ f.u.)</tspan></text>
<text x="220.7" y="158.8" font-size="14" fill="#000" font-family="Liberation Serif, serif" font-style="italic">θ</text>
<text x="230.8" y="158.8" font-size="13" fill="#000" font-family="Liberation Serif, serif" textLength="31.6" lengthAdjust="spacingAndGlyphs">(deg.)</text>
<rect x="447.7" y="84.2" width="67.60" height="52.80" fill="#fff" stroke="#6a6a6a" stroke-width="0.7"/>
<path d="M449.46 137.0v-1.2M449.46 84.2v1.2M451.23 137.0v-1.2M451.23 84.2v1.2M453.00 137.0v-1.2M453.00 84.2v1.2M454.76 137.0v-1.2M454.76 84.2v1.2M456.52 137.0v-1.9M456.52 84.2v1.9M458.29 137.0v-1.2M458.29 84.2v1.2M460.06 137.0v-1.2M460.06 84.2v1.2M461.82 137.0v-1.2M461.82 84.2v1.2M463.58 137.0v-1.2M463.58 84.2v1.2M465.35 137.0v-3.0M465.35 84.2v3.0M467.12 137.0v-1.2M467.12 84.2v1.2M468.88 137.0v-1.2M468.88 84.2v1.2M470.64 137.0v-1.2M470.64 84.2v1.2M472.41 137.0v-1.2M472.41 84.2v1.2M474.18 137.0v-1.9M474.18 84.2v1.9M475.94 137.0v-1.2M475.94 84.2v1.2M477.70 137.0v-1.2M477.70 84.2v1.2M479.47 137.0v-1.2M479.47 84.2v1.2M481.24 137.0v-1.2M481.24 84.2v1.2M483.00 137.0v-3.0M483.00 84.2v3.0M484.76 137.0v-1.2M484.76 84.2v1.2M486.53 137.0v-1.2M486.53 84.2v1.2M488.29 137.0v-1.2M488.29 84.2v1.2M490.06 137.0v-1.2M490.06 84.2v1.2M491.82 137.0v-1.9M491.82 84.2v1.9M493.59 137.0v-1.2M493.59 84.2v1.2M495.35 137.0v-1.2M495.35 84.2v1.2M497.12 137.0v-1.2M497.12 84.2v1.2M498.88 137.0v-1.2M498.88 84.2v1.2M500.65 137.0v-3.0M500.65 84.2v3.0M502.41 137.0v-1.2M502.41 84.2v1.2M504.18 137.0v-1.2M504.18 84.2v1.2M505.94 137.0v-1.2M505.94 84.2v1.2M507.71 137.0v-1.2M507.71 84.2v1.2M509.47 137.0v-1.9M509.47 84.2v1.9M511.24 137.0v-1.2M511.24 84.2v1.2M513.00 137.0v-1.2M513.00 84.2v1.2M514.77 137.0v-1.2M514.77 84.2v1.2M447.7 133.43h1.2M515.3 133.43h-1.2M447.7 129.86h1.2M515.3 129.86h-1.2M447.7 126.29h1.2M515.3 126.29h-1.2M447.7 122.72h1.2M515.3 122.72h-1.2M447.7 119.15h1.9M515.3 119.15h-1.9M447.7 115.58h1.2M515.3 115.58h-1.2M447.7 112.01h1.2M515.3 112.01h-1.2M447.7 108.44h1.2M515.3 108.44h-1.2M447.7 104.87h1.2M515.3 104.87h-1.2M447.7 101.30h3.0M515.3 101.30h-3.0M447.7 97.73h1.2M515.3 97.73h-1.2M447.7 94.16h1.2M515.3 94.16h-1.2M447.7 90.59h1.2M515.3 90.59h-1.2M447.7 87.02h1.2M515.3 87.02h-1.2" stroke="#6a6a6a" stroke-width="0.6" fill="none"/>
<path d="M462.1 114.9L477.2 116.9L512.3 120.4" stroke="#f58a3c" stroke-width="0.7" fill="none"/>
<rect x="459.25" y="112.05" width="5.7" height="5.7" fill="#f26c12"/>
<rect x="474.35" y="114.05" width="5.7" height="5.7" fill="#f26c12"/>
<rect x="509.45" y="117.55" width="5.7" height="5.7" fill="#f26c12"/>
<circle cx="447.7" cy="102.3" r="2.2" fill="none" stroke="#e52f36" stroke-width="0.6"/>
<circle cx="447.7" cy="112.8" r="2.8" fill="#e0000f"/>
<text x="445.90" y="104.90" font-size="12.3" text-anchor="end" fill="#000" >0.1</text>
<text x="446.10" y="140.00" font-size="12.3" text-anchor="end" fill="#000" >0</text>
<text x="447.90" y="147.60" font-size="12.3" text-anchor="middle" fill="#000" >0</text>
<text x="465.55" y="147.60" font-size="12.3" text-anchor="middle" fill="#000" >1</text>
<text x="483.20" y="147.60" font-size="12.3" text-anchor="middle" fill="#000" >2</text>
<text x="500.85" y="147.60" font-size="12.3" text-anchor="middle" fill="#000" >3</text>
<text x="436.5" y="79.6" font-size="13.1" fill="#000"><tspan font-style="italic">ΔM</tspan> (<tspan font-style="italic">μ</tspan><tspan font-size="9.5" dy="2.2">B</tspan><tspan dy="-2.2">/ f.u.)</tspan></text>
<text x="475.0" y="157.9" font-size="14" fill="#000" font-family="Liberation Serif, serif" font-style="italic">θ</text>
<text x="485.1" y="157.9" font-size="13" fill="#000" font-family="Liberation Serif, serif" textLength="31.6" lengthAdjust="spacingAndGlyphs">(deg.)</text>
<g transform="translate(15.9,126.3) rotate(-90)" font-size="15" fill="#000">
<text x="0" y="0" textLength="82" lengthAdjust="spacingAndGlyphs"><tspan font-style="italic">M</tspan>, <tspan font-style="italic">M</tspan> (<tspan font-style="italic">μ</tspan><tspan font-size="10" dy="7">B</tspan><tspan dy="-7">/f.u.)</tspan></text>
<path d="M23.60 -12.70q1.45 -2.2 2.90 -0.7t2.90 -0.7" fill="none" stroke="#000" stroke-width="0.85"/>
</g>
<g transform="translate(21.9,334.8) rotate(-90)" font-size="14.8" fill="#000">
<text x="0" y="0" textLength="162.3" lengthAdjust="spacingAndGlyphs"><tspan font-style="italic">dM/dH, dM/dH</tspan> (<tspan font-style="italic">μ</tspan><tspan font-size="10" dy="7">B</tspan><tspan dy="-7">/f.u. T)</tspan></text>
<path d="M62.50 -12.90q1.45 -2.2 2.90 -0.7t2.90 -0.7" fill="none" stroke="#000" stroke-width="0.85"/>
</g>
</svg>
</body></html>
